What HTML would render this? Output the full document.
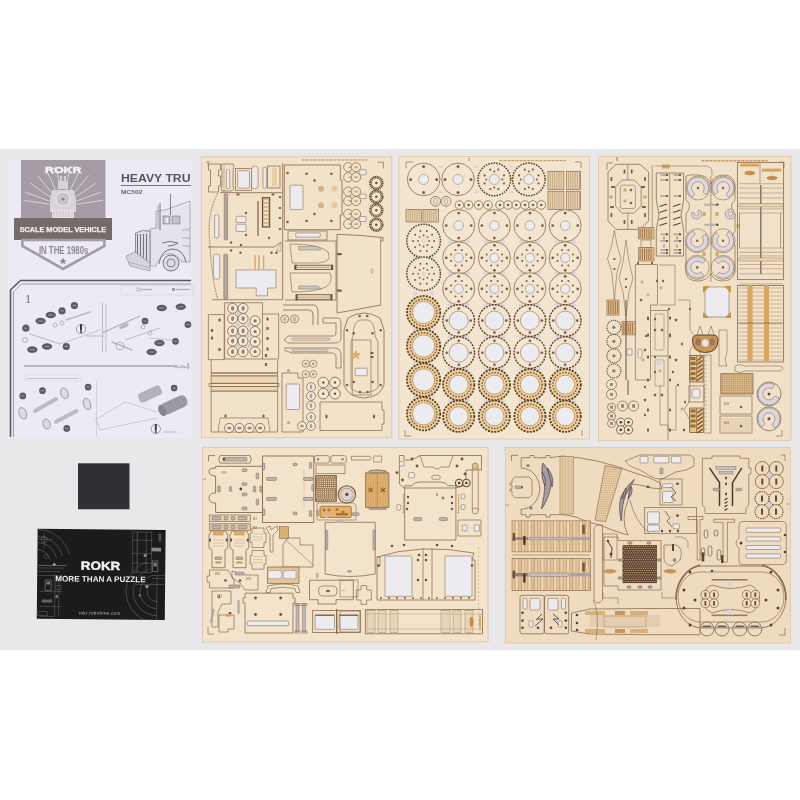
<!DOCTYPE html>
<html><head><meta charset="utf-8">
<style>
html,body{margin:0;padding:0;background:#fff;}
body{width:800px;height:800px;overflow:hidden;font-family:"Liberation Sans",sans-serif;}
svg{display:block;will-change:transform;}
</style></head><body>
<svg width="800" height="800" viewBox="0 0 800 800">
<rect x="0.0" y="149.0" width="800.0" height="501.0" fill="#e8e8eb"/>
<rect x="7.0" y="159.0" width="184.0" height="279.0" fill="#eceaf4"/>
<rect x="21.0" y="160.0" width="84.5" height="58.0" fill="#a69ca5"/>
<line x1="49.8" y1="201.2" x2="25.4" y2="192.3" stroke="#dcd8dc" stroke-width="0.9"/>
<line x1="51.5" y1="198.0" x2="30.2" y2="183.1" stroke="#dcd8dc" stroke-width="0.9"/>
<line x1="54.0" y1="195.3" x2="37.3" y2="175.4" stroke="#dcd8dc" stroke-width="0.9"/>
<line x1="57.1" y1="193.3" x2="46.1" y2="169.7" stroke="#dcd8dc" stroke-width="0.9"/>
<line x1="60.6" y1="192.2" x2="56.1" y2="166.6" stroke="#dcd8dc" stroke-width="0.9"/>
<line x1="65.4" y1="192.2" x2="69.9" y2="166.6" stroke="#dcd8dc" stroke-width="0.9"/>
<line x1="68.9" y1="193.3" x2="79.9" y2="169.7" stroke="#dcd8dc" stroke-width="0.9"/>
<line x1="72.0" y1="195.3" x2="88.7" y2="175.4" stroke="#dcd8dc" stroke-width="0.9"/>
<line x1="74.5" y1="198.0" x2="95.8" y2="183.1" stroke="#dcd8dc" stroke-width="0.9"/>
<line x1="76.2" y1="201.2" x2="100.6" y2="192.3" stroke="#dcd8dc" stroke-width="0.9"/>
<line x1="49.1" y1="204.1" x2="23.4" y2="200.4" stroke="#dcd8dc" stroke-width="0.9"/>
<line x1="76.9" y1="204.1" x2="102.6" y2="200.4" stroke="#dcd8dc" stroke-width="0.9"/>
<rect x="58.0" y="181.0" width="10.0" height="8.0" fill="#d6d2d6"/>
<rect x="60.0" y="176.0" width="2.0" height="6.0" fill="#d6d2d6"/>
<rect x="64.0" y="176.0" width="2.0" height="6.0" fill="#d6d2d6"/>
<path d="M52 190 L74 190 L76 200 L76 212 L50 212 L50 200 Z" fill="#d8d4d8"/>
<circle cx="63.0" cy="199.0" r="7.0" fill="#c8c4c8" stroke="#ecebee" stroke-width="1"/>
<circle cx="63.0" cy="199.0" r="1.5" fill="#8a868a"/>
<rect x="52.0" y="210.0" width="22.0" height="8.0" fill="#e4e0e4"/>
<line x1="54.0" y1="211.0" x2="54.0" y2="217.0" stroke="#b0acb0" stroke-width="0.6"/>
<line x1="57.0" y1="211.0" x2="57.0" y2="217.0" stroke="#b0acb0" stroke-width="0.6"/>
<line x1="60.0" y1="211.0" x2="60.0" y2="217.0" stroke="#b0acb0" stroke-width="0.6"/>
<line x1="63.0" y1="211.0" x2="63.0" y2="217.0" stroke="#b0acb0" stroke-width="0.6"/>
<line x1="66.0" y1="211.0" x2="66.0" y2="217.0" stroke="#b0acb0" stroke-width="0.6"/>
<line x1="69.0" y1="211.0" x2="69.0" y2="217.0" stroke="#b0acb0" stroke-width="0.6"/>
<line x1="72.0" y1="211.0" x2="72.0" y2="217.0" stroke="#b0acb0" stroke-width="0.6"/>
<text x="45" y="172.7" font-family="Liberation Sans" font-size="9.9" font-weight="bold" fill="#f4f2f4" stroke="#f4f2f4" stroke-width="0.5" textLength="36.5" lengthAdjust="spacingAndGlyphs">ROKR</text>
<rect x="14.0" y="218.0" width="98.0" height="22.0" fill="#766b6b"/>
<text x="19.7" y="232.3" font-family="Liberation Sans" font-size="7.6" font-weight="bold" fill="#f2eff0" stroke="#f2eff0" stroke-width="0.25" textLength="86.3" lengthAdjust="spacingAndGlyphs">SCALE MODEL VEHICLE</text>
<path d="M22.4 240 L104.4 240 L104.4 246 L63 269 L22.4 246 Z" fill="#eceaf4" stroke="#a69ca5" stroke-width="2.6"/>
<text x="38.9" y="254.2" font-family="Liberation Sans" font-size="10.8" font-weight="bold" fill="#8e898c" textLength="49.5" lengthAdjust="spacingAndGlyphs">IN THE 1980s</text>
<path d="M63 257.5 L64.1 260 L66.6 260.2 L64.7 261.8 L65.3 264.3 L63 263 L60.7 264.3 L61.3 261.8 L59.4 260.2 L61.9 260 Z" fill="#8e898c"/>
<svg x="7" y="159" width="184" height="279" overflow="hidden"><g transform="translate(-7 -159)">
<text x="121" y="181.8" font-family="Liberation Sans" font-size="11" font-weight="bold" fill="#58565a" textLength="69.5" lengthAdjust="spacingAndGlyphs">HEAVY TRU</text>
<line x1="121.0" y1="185.5" x2="191.0" y2="185.5" stroke="#6a686c" stroke-width="0.9"/>
<text x="121" y="194" font-family="Liberation Sans" font-size="5.6" font-weight="bold" fill="#6a686c" textLength="21.5" lengthAdjust="spacingAndGlyphs">MC502</text>
<path d="M150 229 Q165 225 182 227 L190 228 L190 262 L182 262 Q176 252 166 254 Q158 258 156 266 L150 266 Z" fill="#e4e2ea" stroke="#8a868c" stroke-width="0.6"/>
<path d="M135.5 233 Q142 229 150 231 L150 266 L135.5 262 Z" fill="#dddbe3" stroke="#6a666c" stroke-width="0.7"/>
<line x1="137.5" y1="234.0" x2="137.5" y2="262.0" stroke="#76727a" stroke-width="1.0"/>
<line x1="140.5" y1="234.0" x2="140.5" y2="262.0" stroke="#76727a" stroke-width="1.0"/>
<line x1="143.5" y1="234.0" x2="143.5" y2="262.0" stroke="#76727a" stroke-width="1.0"/>
<line x1="146.5" y1="234.0" x2="146.5" y2="262.0" stroke="#76727a" stroke-width="1.0"/>
<path d="M126 256 L135 252 L150 263 L150 271 L130 266 Z" fill="#d6d4dc" stroke="#8a868c" stroke-width="0.6"/>
<path d="M128 262 L150 268" fill="none" stroke="#9a96a0" stroke-width="0.6"/>
<circle cx="171.0" cy="263.0" r="8.0" fill="#dcdae2" stroke="#77737b" stroke-width="1.0"/>
<circle cx="171.0" cy="263.0" r="4.0" fill="none" stroke="#77737b" stroke-width="0.8"/>
<path d="M159 264 Q161 250 172 249 Q183 249 186 262" fill="none" stroke="#6a666c" stroke-width="0.9"/>
<path d="M156 228 L156 211 L165 210 L190 201 L190 228" fill="#e6e4ec" stroke="#8a868c" stroke-width="0.6"/>
<rect x="163.0" y="216.0" width="7.0" height="8.0" fill="#c4c2ca" stroke="#6a666c" stroke-width="0.5"/>
<rect x="172.0" y="216.0" width="8.0" height="8.0" fill="#c4c2ca" stroke="#6a666c" stroke-width="0.5"/>
<rect x="166.0" y="218.0" width="2.0" height="5.0" fill="#f0eef4"/>
<line x1="160.0" y1="203.0" x2="160.0" y2="230.0" stroke="#6a666c" stroke-width="0.9"/>
<line x1="170.5" y1="194.0" x2="170.5" y2="215.0" stroke="#6a666c" stroke-width="0.8"/>
<line x1="158.0" y1="205.0" x2="158.0" y2="228.0" stroke="#8a868c" stroke-width="0.6"/>
<path d="M162 243 Q170 240 178 243 Q174 246 168 246" fill="none" stroke="#76727a" stroke-width="1.0"/>
<path d="M182 230 L190 230 M182 238 L190 238 M182 246 L190 246" fill="none" stroke="#9a96a0" stroke-width="0.6"/>
</g></svg>
<path d="M10.5 437 L10.5 290 L20.5 280.5 L191 280.5" fill="none" stroke="#5e585c" stroke-width="1.6"/>
<path d="M13.5 437 L13.5 292 L21.5 284 L191 284" fill="none" stroke="#8f898d" stroke-width="0.8"/>
<text x="25" y="302.5" font-family="Liberation Serif" font-size="12.5" fill="#6e6a6e">1</text>
<rect x="121.5" y="285.5" width="72.0" height="9.5" fill="none" stroke="#c6c4ca" stroke-width="0.6" stroke-dasharray="2 1"/>
<rect x="137.0" y="288.0" width="3.0" height="3.0" fill="none" stroke="#8a878c" stroke-width="0.5"/>
<line x1="141.0" y1="289.5" x2="152.0" y2="289.5" stroke="#b0adb2" stroke-width="1.2"/>
<rect x="172.0" y="288.0" width="3.0" height="3.0" fill="#a09da2"/>
<line x1="176.0" y1="289.5" x2="190.0" y2="289.5" stroke="#b0adb2" stroke-width="1.2"/>
<line x1="24.0" y1="366.0" x2="178.0" y2="366.0" stroke="#6e6a6e" stroke-width="0.8"/>
<text x="179" y="367.8" font-family="Liberation Sans" font-size="4" fill="#6e6a6e">&lt;3x</text>
<line x1="188.0" y1="363.0" x2="188.0" y2="369.0" stroke="#6e6a6e" stroke-width="0.8"/>
<line x1="102.5" y1="303.0" x2="102.5" y2="352.0" stroke="#a09ca0" stroke-width="0.6"/>
<line x1="96.5" y1="380.0" x2="96.5" y2="437.0" stroke="#c4c2c6" stroke-width="0.6"/>
<line x1="66.0" y1="320.0" x2="90.0" y2="312.0" stroke="#bdbbc0" stroke-width="1.6" stroke-linecap="round"/>
<line x1="30.0" y1="334.0" x2="60.0" y2="344.0" stroke="#bdbbc0" stroke-width="1.2" stroke-linecap="round"/>
<line x1="60.0" y1="344.0" x2="100.0" y2="330.0" stroke="#bdbbc0" stroke-width="0.8" stroke-linecap="round"/>
<line x1="112.0" y1="342.0" x2="132.0" y2="350.0" stroke="#bdbbc0" stroke-width="1.5" stroke-linecap="round"/>
<line x1="125.0" y1="340.0" x2="160.0" y2="328.0" stroke="#bdbbc0" stroke-width="1.0" stroke-linecap="round"/>
<line x1="150.0" y1="338.0" x2="172.0" y2="340.0" stroke="#bdbbc0" stroke-width="0.8" stroke-linecap="round"/>
<line x1="35.0" y1="411.0" x2="56.0" y2="399.0" stroke="#bdbbc0" stroke-width="4" stroke-linecap="round"/>
<line x1="56.0" y1="421.8" x2="76.3" y2="411.0" stroke="#bdbbc0" stroke-width="4" stroke-linecap="round"/>
<line x1="95.0" y1="420.0" x2="125.0" y2="402.0" stroke="#bdbbc0" stroke-width="0.7" stroke-linecap="round"/>
<line x1="100.0" y1="430.0" x2="157.0" y2="418.0" stroke="#bdbbc0" stroke-width="0.7" stroke-linecap="round"/>
<line x1="125.0" y1="402.0" x2="157.0" y2="412.0" stroke="#bdbbc0" stroke-width="0.7" stroke-linecap="round"/>
<line x1="96.0" y1="418.0" x2="100.0" y2="430.0" stroke="#bdbbc0" stroke-width="0.7" stroke-linecap="round"/>
<ellipse cx="22.8" cy="413.4" rx="3.6" ry="6" fill="#dcdae2" stroke="#9a98a0" stroke-width="0.9" transform="rotate(-20 22.8 413.4)"/>
<ellipse cx="64.4" cy="393.3" rx="3.6" ry="5.5" fill="#dcdae2" stroke="#9a98a0" stroke-width="0.9" transform="rotate(-20 64.4 393.3)"/>
<ellipse cx="87" cy="404" rx="3.6" ry="6" fill="#dcdae2" stroke="#9a98a0" stroke-width="0.9" transform="rotate(-20 87 404)"/>
<ellipse cx="46.6" cy="424" rx="3.6" ry="5" fill="#dcdae2" stroke="#9a98a0" stroke-width="0.9" transform="rotate(-20 46.6 424)"/>
<circle cx="62.0" cy="323.0" r="2.0" fill="none" stroke="#a8a6ab" stroke-width="0.8"/>
<circle cx="55.0" cy="325.0" r="2.0" fill="none" stroke="#a8a6ab" stroke-width="0.8"/>
<circle cx="143.0" cy="327.0" r="2.0" fill="none" stroke="#a8a6ab" stroke-width="0.8"/>
<circle cx="150.0" cy="333.0" r="2.0" fill="none" stroke="#a8a6ab" stroke-width="0.8"/>
<circle cx="120.0" cy="346.0" r="4.0" fill="none" stroke="#a8a6ab" stroke-width="0.8"/>
<circle cx="25.0" cy="340.0" r="2.5" fill="none" stroke="#a8a6ab" stroke-width="0.8"/>
<line x1="102.0" y1="333.0" x2="140.0" y2="316.0" stroke="#b0aeb4" stroke-width="1.2"/>
<line x1="106.0" y1="304.0" x2="106.0" y2="352.0" stroke="#a8a6ab" stroke-width="0.6"/>
<ellipse cx="124" cy="326" rx="5" ry="2" fill="#b8b6bc" transform="rotate(-25 124 326)"/>
<g transform="rotate(-25 150 394)"><rect x="138" y="389" width="24" height="10" rx="3" fill="#b4b2b8"/></g>
<g transform="rotate(-25 174 405)"><rect x="160" y="399" width="28" height="12" rx="5" fill="#9c9aa0"/><ellipse cx="161" cy="405" rx="3.5" ry="6" fill="#88868c"/></g>
<ellipse cx="25.9" cy="328.2" rx="3.5840000000000005" ry="3.5840000000000005" fill="#5e5a5d"/>
<line x1="24.1" y1="328.2" x2="27.7" y2="328.2" stroke="#bdb9bc" stroke-width="0.7"/>
<ellipse cx="40.6" cy="321" rx="5.152" ry="3.248" fill="#5e5a5d"/>
<line x1="38.0" y1="321.0" x2="43.2" y2="321.0" stroke="#bdb9bc" stroke-width="0.7"/>
<ellipse cx="50.8" cy="315" rx="5.152" ry="3.248" fill="#5e5a5d"/>
<line x1="48.2" y1="315.0" x2="53.4" y2="315.0" stroke="#bdb9bc" stroke-width="0.7"/>
<ellipse cx="62" cy="310.9" rx="3.5840000000000005" ry="3.5840000000000005" fill="#5e5a5d"/>
<line x1="60.2" y1="310.9" x2="63.8" y2="310.9" stroke="#bdb9bc" stroke-width="0.7"/>
<ellipse cx="74.4" cy="305.6" rx="3.5840000000000005" ry="3.5840000000000005" fill="#5e5a5d"/>
<line x1="72.6" y1="305.6" x2="76.2" y2="305.6" stroke="#bdb9bc" stroke-width="0.7"/>
<ellipse cx="32.3" cy="349.6" rx="5.152" ry="3.248" fill="#5e5a5d"/>
<line x1="29.7" y1="349.6" x2="34.9" y2="349.6" stroke="#bdb9bc" stroke-width="0.7"/>
<ellipse cx="47" cy="346.5" rx="5.152" ry="3.248" fill="#5e5a5d"/>
<line x1="44.4" y1="346.5" x2="49.6" y2="346.5" stroke="#bdb9bc" stroke-width="0.7"/>
<ellipse cx="66.3" cy="346.5" rx="3.5840000000000005" ry="3.5840000000000005" fill="#5e5a5d"/>
<line x1="64.5" y1="346.5" x2="68.1" y2="346.5" stroke="#bdb9bc" stroke-width="0.7"/>
<ellipse cx="161.8" cy="308" rx="5.152" ry="3.248" fill="#5e5a5d"/>
<line x1="159.2" y1="308.0" x2="164.4" y2="308.0" stroke="#bdb9bc" stroke-width="0.7"/>
<ellipse cx="180.8" cy="306.8" rx="5.152" ry="3.248" fill="#5e5a5d"/>
<line x1="178.2" y1="306.8" x2="183.4" y2="306.8" stroke="#bdb9bc" stroke-width="0.7"/>
<ellipse cx="145" cy="321" rx="3.3600000000000003" ry="3.3600000000000003" fill="#5e5a5d"/>
<line x1="143.3" y1="321.0" x2="146.7" y2="321.0" stroke="#bdb9bc" stroke-width="0.7"/>
<ellipse cx="187.9" cy="324.6" rx="3.3600000000000003" ry="3.3600000000000003" fill="#5e5a5d"/>
<line x1="186.2" y1="324.6" x2="189.6" y2="324.6" stroke="#bdb9bc" stroke-width="0.7"/>
<ellipse cx="159.4" cy="343" rx="5.152" ry="3.248" fill="#5e5a5d"/>
<line x1="156.8" y1="343.0" x2="162.0" y2="343.0" stroke="#bdb9bc" stroke-width="0.7"/>
<ellipse cx="175.5" cy="341.3" rx="3.3600000000000003" ry="3.3600000000000003" fill="#5e5a5d"/>
<line x1="173.8" y1="341.3" x2="177.2" y2="341.3" stroke="#bdb9bc" stroke-width="0.7"/>
<ellipse cx="151.6" cy="352" rx="5.152" ry="3.248" fill="#5e5a5d"/>
<line x1="149.0" y1="352.0" x2="154.2" y2="352.0" stroke="#bdb9bc" stroke-width="0.7"/>
<ellipse cx="22.8" cy="395.9" rx="3.3600000000000003" ry="3.3600000000000003" fill="#5e5a5d"/>
<line x1="21.1" y1="395.9" x2="24.5" y2="395.9" stroke="#bdb9bc" stroke-width="0.7"/>
<ellipse cx="42.5" cy="390.7" rx="3.3600000000000003" ry="3.3600000000000003" fill="#5e5a5d"/>
<line x1="40.8" y1="390.7" x2="44.2" y2="390.7" stroke="#bdb9bc" stroke-width="0.7"/>
<ellipse cx="88.1" cy="387.1" rx="3.3600000000000003" ry="3.3600000000000003" fill="#5e5a5d"/>
<line x1="86.4" y1="387.1" x2="89.8" y2="387.1" stroke="#bdb9bc" stroke-width="0.7"/>
<ellipse cx="174.1" cy="388" rx="3.3600000000000003" ry="3.3600000000000003" fill="#5e5a5d"/>
<line x1="172.4" y1="388.0" x2="175.8" y2="388.0" stroke="#bdb9bc" stroke-width="0.7"/>
<ellipse cx="66.8" cy="428.4" rx="3.3600000000000003" ry="3.3600000000000003" fill="#5e5a5d"/>
<line x1="65.1" y1="428.4" x2="68.5" y2="428.4" stroke="#bdb9bc" stroke-width="0.7"/>
<circle cx="81.0" cy="329.0" r="4.6" fill="#f0eff4" stroke="#6a666a" stroke-width="0.6"/>
<rect x="80.0" y="324.2" width="2.0" height="6.5" fill="#3e3a3e"/>
<circle cx="81.0" cy="332.0" r="1.0" fill="#3e3a3e"/>
<circle cx="155.8" cy="429.0" r="4.6" fill="#f0eff4" stroke="#6a666a" stroke-width="0.6"/>
<rect x="154.8" y="424.2" width="2.0" height="6.5" fill="#3e3a3e"/>
<circle cx="155.8" cy="432.0" r="1.0" fill="#3e3a3e"/>
<line x1="86.0" y1="336.0" x2="104.0" y2="336.0" stroke="#c4c2c6" stroke-width="1.2"/>
<line x1="163.0" y1="432.0" x2="177.0" y2="432.0" stroke="#c4c2c6" stroke-width="1.2"/>
<line x1="27.0" y1="378.5" x2="79.0" y2="378.5" stroke="#c4c2c6" stroke-width="1.2"/>
<line x1="174.0" y1="367.5" x2="190.0" y2="367.5" stroke="#c4c2c6" stroke-width="1.2"/>
<rect x="25.0" y="375.0" width="56.0" height="6.0" fill="none" stroke="#d2d0d4" stroke-width="0.5" rx="2"/>
<rect x="78.0" y="463.3" width="51.5" height="46.0" fill="#322f34"/>
<defs><clipPath id="cc"><rect x="37.2" y="529.3" width="128" height="90"/></clipPath></defs>
<g transform="rotate(0.55 101 575)">
<rect x="37.2" y="529.3" width="128.0" height="90.0" fill="#1c1b1c"/>
<g clip-path="url(#cc)">
<path d="M37 550 A13 13 0 0 1 49.6 559.8" fill="none" stroke="#6a6a6c" stroke-width="0.6"/>
<path d="M37 543 A20 20 0 0 1 56.4 558.0" fill="none" stroke="#6a6a6c" stroke-width="0.6"/>
<path d="M37 537 A26 26 0 0 1 62.2 556.5" fill="none" stroke="#6a6a6c" stroke-width="0.6"/>
<path d="M37 530 A33 33 0 0 1 69.0 554.8" fill="none" stroke="#6a6a6c" stroke-width="0.6"/>
<line x1="37.0" y1="566.0" x2="67.0" y2="566.0" stroke="#8a8a8c" stroke-width="0.6"/>
<line x1="37.0" y1="568.5" x2="64.0" y2="568.5" stroke="#6a6a6c" stroke-width="0.5"/>
<line x1="37.0" y1="572.0" x2="60.0" y2="572.0" stroke="#6a6a6c" stroke-width="0.5"/>
<line x1="37.0" y1="576.0" x2="58.0" y2="576.0" stroke="#6a6a6c" stroke-width="0.5"/>
<rect x="45.3" y="580.4" width="6.0" height="10.6" fill="none" stroke="#8a8a8c" stroke-width="0.6"/>
<rect x="46.5" y="582.0" width="3.6" height="3.0" fill="#7a7a7c"/>
<circle cx="54.2" cy="565.0" r="1.5" fill="#9a9a9c"/>
<circle cx="46.0" cy="557.0" r="2.0" fill="none" stroke="#6a6a6c" stroke-width="0.5"/>
<rect x="41.8" y="600.0" width="10.6" height="3.0" fill="#5e5e60"/>
<line x1="55.0" y1="575.0" x2="55.0" y2="617.0" stroke="#6a6a6c" stroke-width="0.5"/>
<line x1="59.0" y1="578.0" x2="59.0" y2="617.0" stroke="#6a6a6c" stroke-width="0.5"/>
<line x1="40.0" y1="592.0" x2="62.0" y2="592.0" stroke="#6a6a6c" stroke-width="0.5"/>
<line x1="40.0" y1="607.0" x2="62.0" y2="607.0" stroke="#6a6a6c" stroke-width="0.5"/>
<rect x="56.0" y="586.0" width="5.0" height="4.0" fill="none" stroke="#6a6a6c" stroke-width="0.5"/>
<circle cx="57.0" cy="597.0" r="1.5" fill="#7a7a7c"/>
<line x1="38.0" y1="540.0" x2="52.0" y2="540.0" stroke="#6a6a6c" stroke-width="0.5"/>
<line x1="44.0" y1="534.0" x2="44.0" y2="548.0" stroke="#6a6a6c" stroke-width="0.5"/>
<circle cx="44.0" cy="540.0" r="3.0" fill="none" stroke="#6a6a6c" stroke-width="0.5"/>
<rect x="38.0" y="612.0" width="10.0" height="4.0" fill="none" stroke="#6a6a6c" stroke-width="0.5"/>
<line x1="40.0" y1="617.0" x2="54.0" y2="617.0" stroke="#6a6a6c" stroke-width="0.5"/>
<rect x="132.3" y="531.7" width="19.0" height="40.3" fill="none" stroke="#6a6a6c" stroke-width="0.5"/>
<line x1="137.0" y1="532.0" x2="137.0" y2="572.0" stroke="#8a8a8c" stroke-width="0.5"/>
<line x1="146.0" y1="532.0" x2="146.0" y2="572.0" stroke="#6a6a6c" stroke-width="0.5"/>
<line x1="132.0" y1="540.0" x2="152.0" y2="540.0" stroke="#6a6a6c" stroke-width="0.5"/>
<line x1="132.0" y1="553.0" x2="152.0" y2="553.0" stroke="#6a6a6c" stroke-width="0.5"/>
<line x1="132.0" y1="563.0" x2="152.0" y2="563.0" stroke="#6a6a6c" stroke-width="0.5"/>
<rect x="151.3" y="547.2" width="9.5" height="3.6" fill="#8a8a8c"/>
<rect x="152.4" y="560.3" width="5.4" height="10.7" fill="none" stroke="#8a8a8c" stroke-width="0.6"/>
<rect x="153.5" y="562.0" width="3.2" height="4.0" fill="#7a7a7c"/>
<circle cx="145.0" cy="555.0" r="1.6" fill="#8a8a8c"/>
<rect x="158.0" y="533.0" width="3.0" height="8.0" fill="#4a4a4c"/>
<line x1="152.0" y1="575.0" x2="165.0" y2="575.0" stroke="#6a6a6c" stroke-width="0.5"/>
<line x1="152.0" y1="578.0" x2="165.0" y2="578.0" stroke="#6a6a6c" stroke-width="0.5"/>
<line x1="135.0" y1="584.0" x2="165.0" y2="584.0" stroke="#6a6a6c" stroke-width="0.5"/>
<path d="M147.2 591 A10 10 0 0 0 157.2 601" fill="none" stroke="#6a6a6c" stroke-width="0.6"/>
<path d="M147.2 591 A10 10 0 0 1 154.2 581.5" fill="none" stroke="#6a6a6c" stroke-width="0.5"/>
<path d="M140.2 591 A17 17 0 0 0 157.2 608" fill="none" stroke="#6a6a6c" stroke-width="0.6"/>
<path d="M140.2 591 A17 17 0 0 1 152.1 574.9" fill="none" stroke="#6a6a6c" stroke-width="0.5"/>
<path d="M133.2 591 A24 24 0 0 0 157.2 615" fill="none" stroke="#6a6a6c" stroke-width="0.6"/>
<path d="M133.2 591 A24 24 0 0 1 150.0 568.2" fill="none" stroke="#6a6a6c" stroke-width="0.5"/>
<path d="M126.2 591 A31 31 0 0 0 157.2 622" fill="none" stroke="#6a6a6c" stroke-width="0.6"/>
<path d="M126.2 591 A31 31 0 0 1 147.9 561.5" fill="none" stroke="#6a6a6c" stroke-width="0.5"/>
<circle cx="147.0" cy="586.0" r="1.8" fill="#8a8a8c"/>
<circle cx="140.0" cy="595.0" r="1.3" fill="#6a6a6c"/>
<line x1="157.0" y1="575.0" x2="157.0" y2="620.0" stroke="#6a6a6c" stroke-width="0.5"/>
<text x="80.8" y="569.9" font-family="Liberation Sans" font-size="11.9" font-weight="bold" fill="#f2f2f2" stroke="#f2f2f2" stroke-width="0.4" textLength="39.4" lengthAdjust="spacingAndGlyphs">ROKR</text>
<text x="100.5" y="581.8" font-family="Liberation Sans" font-size="8.1" font-weight="bold" fill="#f0f0f0" text-anchor="middle">MORE THAN A PUZZLE</text>
<text x="100" y="614.6" font-family="Liberation Sans" font-size="4.6" font-weight="normal" fill="#bdbdbd" text-anchor="middle" letter-spacing="0.3">rokr.robotime.com</text>
</g></g>
<rect x="201.3" y="156.8" width="190.5" height="281.0" fill="#f2e2c9" stroke="#dcc4a2" stroke-width="0.8"/>
<rect x="398.8" y="156.5" width="190.7" height="282.5" fill="#f3e5cf" stroke="#dcc4a2" stroke-width="0.8"/>
<rect x="598.5" y="156.3" width="192.5" height="284.0" fill="#f1e1c8" stroke="#dcc4a2" stroke-width="0.8"/>
<rect x="202.5" y="447.3" width="285.5" height="194.7" fill="#f2e3ca" stroke="#dcc4a2" stroke-width="0.8"/>
<rect x="505.3" y="447.3" width="285.0" height="195.7" fill="#efdcc0" stroke="#dcc4a2" stroke-width="0.8"/>
<path d="M208.5 164 L220.5 164 L220.5 170 L218.5 170 L218.5 176 L220.5 176 L220.5 186 L218.5 186 L218.5 192 L208.5 192 L208.5 186 L210.5 186 L210.5 170 L208.5 170 Z" fill="none" stroke="#927456" stroke-width="0.8"/>
<path d="M222 164 L233 164 Q235 166 233 170 L233 186 Q235 190 231 191 L222 191 Q220 188 222 186 L222 170 Q220 166 222 164 Z" fill="none" stroke="#927456" stroke-width="0.8"/>
<rect x="226.4" y="169.6" width="3.4" height="19.1" fill="#ecebf0" stroke="#9c8466" stroke-width="0.7" rx="1"/>
<rect x="235.5" y="168.5" width="16.0" height="22.0" fill="none" stroke="#927456" stroke-width="0.8"/>
<rect x="237.7" y="170.7" width="11.8" height="17.5" fill="#ecebf0" stroke="#9c8466" stroke-width="0.7" rx="0.8"/>
<rect x="251.7" y="166.2" width="6.3" height="22.5" fill="#ecebf0" stroke="#9c8466" stroke-width="0.7" rx="2.5"/>
<rect x="263.0" y="167.4" width="3.4" height="20.8" fill="#ecebf0" stroke="#9c8466" stroke-width="0.7" rx="1"/>
<rect x="267.5" y="166.0" width="12.5" height="22.0" fill="none" stroke="#927456" stroke-width="0.8"/>
<rect x="272.0" y="168.0" width="5.0" height="18.0" fill="#e8cda6"/>
<line x1="282.7" y1="163.0" x2="282.7" y2="300.0" stroke="#927456" stroke-width="0.9"/>
<line x1="220.0" y1="192.7" x2="282.7" y2="192.7" stroke="#927456" stroke-width="0.9"/>
<line x1="224.0" y1="165.0" x2="224.0" y2="192.0" stroke="#927456" stroke-width="0.5"/>
<path d="M218 193 Q206 215 210 245 Q212 280 218 300" fill="none" stroke="#927456" stroke-width="0.9" stroke-dasharray="2 1"/>
<rect x="214.6" y="214.6" width="4.4" height="23.4" fill="#ecebf0" stroke="#9c8466" stroke-width="0.7" rx="2"/>
<rect x="224.2" y="193.8" width="3.4" height="46.2" fill="#b4a69a" stroke="#7a6654" stroke-width="0.5" rx="0.8"/>
<rect x="236.0" y="216.3" width="10.0" height="6.2" fill="#ecebf0" stroke="#9c8466" stroke-width="0.7" rx="0.8"/>
<rect x="236.0" y="224.2" width="10.0" height="7.3" fill="#ecebf0" stroke="#9c8466" stroke-width="0.7" rx="0.8"/>
<line x1="258.0" y1="201.0" x2="258.0" y2="236.0" stroke="#7a5e42" stroke-width="1.2"/>
<rect x="262.4" y="197.7" width="7.3" height="29.3" fill="#d4b896" stroke="#5e4228" stroke-width="1.0"/>
<rect x="264.0" y="200.0" width="4.0" height="2.0" fill="#efe0c8"/>
<rect x="264.0" y="204.0" width="4.0" height="2.0" fill="#efe0c8"/>
<rect x="264.0" y="208.0" width="4.0" height="2.0" fill="#efe0c8"/>
<rect x="264.0" y="212.0" width="4.0" height="2.0" fill="#efe0c8"/>
<rect x="264.0" y="216.0" width="4.0" height="2.0" fill="#efe0c8"/>
<rect x="264.0" y="220.0" width="4.0" height="2.0" fill="#efe0c8"/>
<rect x="264.0" y="224.0" width="4.0" height="2.0" fill="#efe0c8"/>
<rect x="278.9" y="196.0" width="2.2" height="2.0" fill="#7d6044" rx="0.6"/>
<rect x="278.9" y="207.0" width="2.2" height="2.0" fill="#7d6044" rx="0.6"/>
<rect x="278.9" y="217.0" width="2.2" height="2.0" fill="#7d6044" rx="0.6"/>
<rect x="278.9" y="228.0" width="2.2" height="2.0" fill="#7d6044" rx="0.6"/>
<rect x="236.5" y="193.6" width="3.0" height="1.8" fill="#7d6044" rx="0.6"/>
<rect x="271.5" y="193.6" width="3.0" height="1.8" fill="#7d6044" rx="0.6"/>
<circle cx="246.0" cy="213.0" r="1.2" fill="#7d6044"/>
<circle cx="246.0" cy="235.0" r="1.2" fill="#7d6044"/>
<circle cx="241.0" cy="245.0" r="1.2" fill="#7d6044"/>
<circle cx="231.0" cy="242.5" r="1.2" fill="#7d6044"/>
<circle cx="231.0" cy="250.4" r="1.2" fill="#7d6044"/>
<circle cx="240.5" cy="252.8" r="1.2" fill="#7d6044"/>
<circle cx="271.5" cy="252.8" r="1.2" fill="#7d6044"/>
<circle cx="276.5" cy="252.8" r="1.2" fill="#7d6044"/>
<circle cx="269.0" cy="238.0" r="1.2" fill="#7d6044"/>
<path d="M208 247 L274 247 L281 242" fill="none" stroke="#927456" stroke-width="0.9"/>
<path d="M276.5 250.8 L281 242.4 L281 250.8 Z" fill="#ecebf0" stroke="#9c8466" stroke-width="0.6"/>
<rect x="213.5" y="254.2" width="6.2" height="24.8" fill="#ecebf0" stroke="#9c8466" stroke-width="0.7" rx="2"/>
<rect x="223.8" y="254.2" width="3.8" height="45.0" fill="#b4a69a" stroke="#7a6654" stroke-width="0.5" rx="0.8"/>
<path d="M236 270 L276 270 L276 288 L267.5 288 L267.5 295.8 L256.2 295.8 L256.2 288 L236 288 Z" fill="#ecebf0" stroke="#9c8466" stroke-width="0.7"/>
<line x1="255.1" y1="255.3" x2="255.1" y2="270.0" stroke="#d6a868" stroke-width="1.4"/>
<line x1="259.0" y1="255.3" x2="259.0" y2="270.0" stroke="#d6a868" stroke-width="1.4"/>
<line x1="263.6" y1="255.3" x2="263.6" y2="270.0" stroke="#d6a868" stroke-width="1.4"/>
<line x1="212.0" y1="299.7" x2="282.0" y2="299.7" stroke="#927456" stroke-width="0.8"/>
<path d="M284.3 165 L340.3 165 L340.3 180 L342 180 L342 215 L340.3 215 L340.3 229.7 L284.3 229.7 Z" fill="none" stroke="#927456" stroke-width="0.9"/>
<rect x="290.0" y="185.2" width="13.0" height="24.4" fill="#ecebf0" stroke="#9c8466" stroke-width="0.7" rx="0.8"/>
<circle cx="306.6" cy="173.7" r="1.3" fill="#7d6044"/>
<circle cx="331.4" cy="173.7" r="1.3" fill="#7d6044"/>
<circle cx="314.5" cy="180.6" r="1.3" fill="#7d6044"/>
<circle cx="306.6" cy="221.0" r="1.3" fill="#7d6044"/>
<circle cx="331.4" cy="221.0" r="1.3" fill="#7d6044"/>
<circle cx="314.5" cy="214.0" r="1.3" fill="#7d6044"/>
<circle cx="287.5" cy="173.0" r="1.3" fill="#7d6044"/>
<circle cx="287.5" cy="222.0" r="1.3" fill="#7d6044"/>
<circle cx="321.0" cy="188.8" r="3.0" fill="#d9b27c"/>
<circle cx="321.0" cy="205.3" r="3.0" fill="#d9b27c"/>
<circle cx="334.6" cy="188.8" r="3.0" fill="#e6caa0"/>
<circle cx="334.6" cy="205.3" r="3.0" fill="#e6caa0"/>
<line x1="301.5" y1="160.0" x2="367.6" y2="160.0" stroke="#c8aa84" stroke-width="1.3" stroke-dasharray="3 1"/>
<path d="M377.7 162.2 L383.4 162.2 L383.4 168.6" fill="none" stroke="#8a6e50" stroke-width="0.7"/>
<path d="M208 162 L208 166 M206 162 L210 162" fill="none" stroke="#8a6e50" stroke-width="0.6"/>
<circle cx="348.2" cy="167.2" r="4.6" fill="#f2e2c9" stroke="#927456" stroke-width="0.8"/>
<circle cx="356.0" cy="167.2" r="4.6" fill="#f2e2c9" stroke="#927456" stroke-width="0.8"/>
<ellipse cx="350" cy="167.2" rx="1.5" ry="1" fill="#b8a080"/>
<ellipse cx="356" cy="167.2" rx="2" ry="1.2" fill="#c8b090"/>
<circle cx="348.2" cy="177.3" r="4.6" fill="#f2e2c9" stroke="#927456" stroke-width="0.8"/>
<circle cx="356.0" cy="177.3" r="4.6" fill="#f2e2c9" stroke="#927456" stroke-width="0.8"/>
<ellipse cx="350" cy="177.3" rx="1.5" ry="1" fill="#b8a080"/>
<ellipse cx="356" cy="177.3" rx="2" ry="1.2" fill="#c8b090"/>
<rect x="359.7" y="169.7" width="6.5" height="5.1" fill="#ecebf0" stroke="#9c8466" stroke-width="0.7" rx="0.5"/>
<circle cx="348.2" cy="191.6" r="4.6" fill="#f2e2c9" stroke="#927456" stroke-width="0.8"/>
<circle cx="356.0" cy="191.6" r="4.6" fill="#f2e2c9" stroke="#927456" stroke-width="0.8"/>
<ellipse cx="350" cy="191.6" rx="1.5" ry="1" fill="#b8a080"/>
<ellipse cx="356" cy="191.6" rx="2" ry="1.2" fill="#c8b090"/>
<circle cx="348.2" cy="201.0" r="4.6" fill="#f2e2c9" stroke="#927456" stroke-width="0.8"/>
<circle cx="356.0" cy="201.0" r="4.6" fill="#f2e2c9" stroke="#927456" stroke-width="0.8"/>
<ellipse cx="350" cy="201" rx="1.5" ry="1" fill="#b8a080"/>
<ellipse cx="356" cy="201" rx="2" ry="1.2" fill="#c8b090"/>
<rect x="359.7" y="194.1" width="6.5" height="4.4" fill="#ecebf0" stroke="#9c8466" stroke-width="0.7" rx="0.5"/>
<circle cx="348.2" cy="214.0" r="4.6" fill="#f2e2c9" stroke="#927456" stroke-width="0.8"/>
<circle cx="356.0" cy="214.0" r="4.6" fill="#f2e2c9" stroke="#927456" stroke-width="0.8"/>
<ellipse cx="350" cy="214" rx="1.5" ry="1" fill="#b8a080"/>
<ellipse cx="356" cy="214" rx="2" ry="1.2" fill="#c8b090"/>
<circle cx="348.2" cy="224.0" r="4.6" fill="#f2e2c9" stroke="#927456" stroke-width="0.8"/>
<circle cx="356.0" cy="224.0" r="4.6" fill="#f2e2c9" stroke="#927456" stroke-width="0.8"/>
<ellipse cx="350" cy="224" rx="1.5" ry="1" fill="#b8a080"/>
<ellipse cx="356" cy="224" rx="2" ry="1.2" fill="#c8b090"/>
<rect x="359.7" y="216.5" width="6.5" height="5.0" fill="#ecebf0" stroke="#9c8466" stroke-width="0.7" rx="0.5"/>
<circle cx="376.3" cy="183.0" r="6.2" fill="#f4e6d0" stroke="#5a3e26" stroke-width="2.0" stroke-dasharray="1.1 0.6"/>
<circle cx="376.3" cy="183.0" r="4.8" fill="none" stroke="#7a5a3a" stroke-width="0.7"/>
<circle cx="376.3" cy="183.0" r="1.2" fill="#6a4c30"/>
<circle cx="376.3" cy="196.7" r="6.2" fill="#f4e6d0" stroke="#5a3e26" stroke-width="2.0" stroke-dasharray="1.1 0.6"/>
<circle cx="376.3" cy="196.7" r="4.8" fill="none" stroke="#7a5a3a" stroke-width="0.7"/>
<circle cx="376.3" cy="196.7" r="1.2" fill="#6a4c30"/>
<circle cx="376.3" cy="210.3" r="6.2" fill="#f4e6d0" stroke="#5a3e26" stroke-width="2.0" stroke-dasharray="1.1 0.6"/>
<circle cx="376.3" cy="210.3" r="4.8" fill="none" stroke="#7a5a3a" stroke-width="0.7"/>
<circle cx="376.3" cy="210.3" r="1.2" fill="#6a4c30"/>
<circle cx="376.3" cy="224.7" r="6.2" fill="#f4e6d0" stroke="#5a3e26" stroke-width="2.0" stroke-dasharray="1.1 0.6"/>
<circle cx="376.3" cy="224.7" r="4.8" fill="none" stroke="#7a5a3a" stroke-width="0.7"/>
<circle cx="376.3" cy="224.7" r="1.2" fill="#6a4c30"/>
<rect x="288.0" y="231.0" width="39.0" height="9.0" fill="none" stroke="#927456" stroke-width="0.8"/>
<rect x="295.8" y="232.9" width="24.4" height="4.3" fill="#ecebf0" stroke="#9c8466" stroke-width="0.7" rx="0.5"/>
<path d="M337 234.3 Q360 235 383 237.5 L383 241 L380.6 241 M380.6 305 Q360 309 337 313 L337 234.3" fill="none" stroke="#927456" stroke-width="0.9"/>
<line x1="380.6" y1="238.0" x2="380.6" y2="305.0" stroke="#927456" stroke-width="0.7"/>
<text x="372" y="270" font-family="Liberation Sans" font-size="3" font-weight="normal" fill="#000" text-anchor="start"></text>
<ellipse cx="372" cy="271" rx="1" ry="2.5" fill="none" stroke="#b09070" stroke-width="0.6"/>
<path d="M285 241 L336 241 L336 300 L285 300" fill="none" stroke="#927456" stroke-width="0.8"/>
<path d="M290 244 Q320 244 328 252 Q333 262 318 263 L292 263 Z" fill="none" stroke="#927456" stroke-width="0.7"/>
<path d="M298.7 246.5 L318 246.5 L321 250 L298.7 250 Z" fill="#c9c3cc" stroke="#8a7058" stroke-width="0.5"/>
<path d="M290 273 L330 273 Q334 280 326 287 Q315 292 292 292 Z" fill="none" stroke="#927456" stroke-width="0.7"/>
<path d="M298.7 286 L318 286 L321 289 L298.7 289 Z" fill="#c9c3cc" stroke="#8a7058" stroke-width="0.5"/>
<rect x="295.8" y="265.2" width="35.9" height="4.3" fill="#ead6b8" stroke="#6e5236" stroke-width="0.8"/>
<line x1="296.8" y1="267.4" x2="330.7" y2="267.4" stroke="#9a7a58" stroke-width="0.5"/>
<rect x="294.3" y="264.7" width="2.0" height="5.3" fill="#6e5236"/>
<rect x="331.2" y="264.7" width="2.0" height="5.3" fill="#6e5236"/>
<rect x="297.0" y="294.7" width="34.0" height="5.0" fill="#ead6b8" stroke="#6e5236" stroke-width="0.8"/>
<line x1="298.0" y1="297.2" x2="330.0" y2="297.2" stroke="#9a7a58" stroke-width="0.5"/>
<rect x="295.5" y="294.2" width="2.0" height="6.0" fill="#6e5236"/>
<rect x="330.5" y="294.2" width="2.0" height="6.0" fill="#6e5236"/>
<rect x="336.8" y="253.0" width="5.0" height="2.2" fill="#7d6044" rx="0.6"/>
<rect x="336.8" y="289.6" width="5.0" height="2.2" fill="#7d6044" rx="0.6"/>
<rect x="224.7" y="302.8" width="37.7" height="56.2" fill="none" stroke="#927456" stroke-width="0.8"/>
<path d="M208.4 314.6 L224.2 314.6 L224.2 359.6 L208.4 359.6 Z" fill="none" stroke="#927456" stroke-width="0.8"/>
<path d="M262.4 314 L278.7 314 L278.7 359 L262.4 359" fill="none" stroke="#927456" stroke-width="0.8"/>
<path d="M238 310.5 L240.5 313 L238 315.5 L235.5 313 Z" fill="#d0c8d0"/>
<path d="M238 322.5 L240.5 325 L238 327.5 L235.5 325 Z" fill="#d0c8d0"/>
<path d="M238 333.5 L240.5 336 L238 338.5 L235.5 336 Z" fill="#d0c8d0"/>
<path d="M238 343.5 L240.5 346 L238 348.5 L235.5 346 Z" fill="#d0c8d0"/>
<path d="M249 322.5 L251.5 325 L249 327.5 L246.5 325 Z" fill="#d0c8d0"/>
<path d="M249 333.5 L251.5 336 L249 338.5 L246.5 336 Z" fill="#d0c8d0"/>
<path d="M249 343.5 L251.5 346 L249 348.5 L246.5 346 Z" fill="#d0c8d0"/>
<circle cx="232.6" cy="308.4" r="5.0" fill="#f7ecdc" stroke="#8a6e50" stroke-width="0.9"/>
<ellipse cx="232.6" cy="308.4" rx="1.6" ry="2.4" fill="#9a8272"/>
<circle cx="232.6" cy="318.6" r="5.0" fill="#f7ecdc" stroke="#8a6e50" stroke-width="0.9"/>
<ellipse cx="232.6" cy="318.6" rx="1.6" ry="2.4" fill="#9a8272"/>
<circle cx="232.6" cy="331.0" r="5.0" fill="#f7ecdc" stroke="#8a6e50" stroke-width="0.9"/>
<ellipse cx="232.6" cy="331" rx="1.6" ry="2.4" fill="#9a8272"/>
<circle cx="232.6" cy="341.0" r="5.0" fill="#f7ecdc" stroke="#8a6e50" stroke-width="0.9"/>
<ellipse cx="232.6" cy="341" rx="1.6" ry="2.4" fill="#9a8272"/>
<circle cx="232.6" cy="351.7" r="5.0" fill="#f7ecdc" stroke="#8a6e50" stroke-width="0.9"/>
<ellipse cx="232.6" cy="351.7" rx="1.6" ry="2.4" fill="#9a8272"/>
<circle cx="243.1" cy="308.4" r="5.0" fill="#f7ecdc" stroke="#8a6e50" stroke-width="0.9"/>
<ellipse cx="243.1" cy="308.4" rx="1.6" ry="2.4" fill="#9a8272"/>
<circle cx="243.1" cy="318.6" r="5.0" fill="#f7ecdc" stroke="#8a6e50" stroke-width="0.9"/>
<ellipse cx="243.1" cy="318.6" rx="1.6" ry="2.4" fill="#9a8272"/>
<circle cx="243.1" cy="331.0" r="5.0" fill="#f7ecdc" stroke="#8a6e50" stroke-width="0.9"/>
<ellipse cx="243.1" cy="331" rx="1.6" ry="2.4" fill="#9a8272"/>
<circle cx="243.1" cy="341.0" r="5.0" fill="#f7ecdc" stroke="#8a6e50" stroke-width="0.9"/>
<ellipse cx="243.1" cy="341" rx="1.6" ry="2.4" fill="#9a8272"/>
<circle cx="243.1" cy="351.7" r="5.0" fill="#f7ecdc" stroke="#8a6e50" stroke-width="0.9"/>
<ellipse cx="243.1" cy="351.7" rx="1.6" ry="2.4" fill="#9a8272"/>
<circle cx="255.1" cy="320.8" r="5.0" fill="#f7ecdc" stroke="#8a6e50" stroke-width="0.9"/>
<circle cx="255.1" cy="320.8" r="1.6" fill="#8a6e56"/>
<circle cx="255.1" cy="331.5" r="5.0" fill="#f7ecdc" stroke="#8a6e50" stroke-width="0.9"/>
<circle cx="255.1" cy="331.5" r="1.6" fill="#8a6e56"/>
<circle cx="255.1" cy="341.6" r="5.0" fill="#f7ecdc" stroke="#8a6e50" stroke-width="0.9"/>
<circle cx="255.1" cy="341.6" r="1.6" fill="#8a6e56"/>
<circle cx="255.1" cy="351.7" r="5.0" fill="#f7ecdc" stroke="#8a6e50" stroke-width="0.9"/>
<circle cx="255.1" cy="351.7" r="1.6" fill="#8a6e56"/>
<rect x="210.9" y="329.0" width="2.2" height="3.0" fill="#7d6044" rx="0.6"/>
<rect x="210.9" y="336.5" width="2.2" height="3.0" fill="#7d6044" rx="0.6"/>
<rect x="218.4" y="348.0" width="2.2" height="3.0" fill="#7d6044" rx="0.6"/>
<rect x="266.4" y="317.5" width="2.2" height="3.0" fill="#7d6044" rx="0.6"/>
<rect x="266.4" y="327.0" width="2.2" height="3.0" fill="#7d6044" rx="0.6"/>
<rect x="266.4" y="337.0" width="2.2" height="3.0" fill="#7d6044" rx="0.6"/>
<rect x="266.4" y="347.5" width="2.2" height="3.0" fill="#7d6044" rx="0.6"/>
<rect x="264.9" y="354.0" width="2.2" height="3.0" fill="#7d6044" rx="0.6"/>
<rect x="264.9" y="363.0" width="2.2" height="3.0" fill="#7d6044" rx="0.6"/>
<rect x="218.4" y="318.5" width="2.2" height="3.0" fill="#7d6044" rx="0.6"/>
<line x1="211.2" y1="373.0" x2="277.6" y2="373.0" stroke="#8a6a48" stroke-width="0.8"/>
<line x1="211.2" y1="376.0" x2="277.6" y2="376.0" stroke="#8a6a48" stroke-width="0.8"/>
<line x1="211.2" y1="383.3" x2="277.6" y2="383.3" stroke="#8a6a48" stroke-width="0.8"/>
<line x1="211.2" y1="386.5" x2="277.6" y2="386.5" stroke="#8a6a48" stroke-width="0.8"/>
<line x1="211.2" y1="391.0" x2="277.6" y2="391.0" stroke="#8a6a48" stroke-width="0.8"/>
<rect x="211.2" y="376.0" width="66.4" height="7.3" fill="#ecd6b6"/>
<rect x="211.2" y="386.5" width="66.4" height="4.5" fill="#ecd6b6"/>
<line x1="211.2" y1="373.0" x2="277.6" y2="373.0" stroke="#8a6a48" stroke-width="0.8"/>
<line x1="211.2" y1="376.0" x2="277.6" y2="376.0" stroke="#8a6a48" stroke-width="0.8"/>
<line x1="211.2" y1="383.3" x2="277.6" y2="383.3" stroke="#8a6a48" stroke-width="0.8"/>
<line x1="211.2" y1="386.5" x2="277.6" y2="386.5" stroke="#8a6a48" stroke-width="0.8"/>
<line x1="211.2" y1="391.0" x2="277.6" y2="391.0" stroke="#8a6a48" stroke-width="0.8"/>
<rect x="209.0" y="383.3" width="70.0" height="3.2" fill="none" stroke="#8a6e50" stroke-width="0.6"/>
<path d="M211.2 360 L211.2 432 L277.6 432 L277.6 360" fill="none" stroke="#927456" stroke-width="0.8"/>
<path d="M218 432 L220 418 L268 418 L270 432" fill="none" stroke="#927456" stroke-width="0.7"/>
<rect x="224.5" y="414.5" width="2.0" height="3.0" fill="#7d6044" rx="0.6"/>
<rect x="262.5" y="414.5" width="2.0" height="3.0" fill="#7d6044" rx="0.6"/>
<circle cx="229.2" cy="428.0" r="4.6" fill="#f7ecdc" stroke="#8a6e50" stroke-width="0.9"/>
<ellipse cx="229.2" cy="428" rx="2.2" ry="1.5" fill="#a08870"/>
<circle cx="239.4" cy="428.0" r="4.6" fill="#f7ecdc" stroke="#8a6e50" stroke-width="0.9"/>
<ellipse cx="239.4" cy="428" rx="2.2" ry="1.5" fill="#a08870"/>
<circle cx="249.5" cy="428.0" r="4.6" fill="#f7ecdc" stroke="#8a6e50" stroke-width="0.9"/>
<ellipse cx="249.5" cy="428" rx="2.2" ry="1.5" fill="#a08870"/>
<circle cx="260.2" cy="428.0" r="4.6" fill="#f7ecdc" stroke="#8a6e50" stroke-width="0.9"/>
<ellipse cx="260.2" cy="428" rx="2.2" ry="1.5" fill="#a08870"/>
<path d="M283 305 L313 305 Q318 305 318 312 L318 325" fill="none" stroke="#927456" stroke-width="0.9"/>
<path d="M283 310 L309 310 Q313 310 313 314 L313 325" fill="none" stroke="#927456" stroke-width="0.9"/>
<path d="M323 318 L338 318 Q341 318 341 324 L341 338 Q341 343 334 343 L288 343 L284 340 L288 336 L334 336 Q336 336 336 332 L336 323 L323 323 Z" fill="none" stroke="#927456" stroke-width="0.8"/>
<rect x="292.0" y="338.2" width="38.0" height="2.0" fill="#ecebf0" stroke="#9c8466" stroke-width="0.7" rx="0.5"/>
<path d="M284 348 L334 348 Q341 348 341 355 L341 368 L336 368 L336 357 Q336 353 331 353 L292 353 L284 350" fill="none" stroke="#927456" stroke-width="0.8"/>
<rect x="292.0" y="349.8" width="36.0" height="1.8" fill="#ecebf0" stroke="#9c8466" stroke-width="0.7" rx="0.5"/>
<circle cx="284.7" cy="319.0" r="4.0" fill="#f2e2c9" stroke="#927456" stroke-width="0.8"/>
<ellipse cx="284.7" cy="319" rx="1.8" ry="2.6" fill="#c8b8a8"/>
<circle cx="294.5" cy="319.0" r="4.0" fill="#f2e2c9" stroke="#927456" stroke-width="0.8"/>
<ellipse cx="294.5" cy="319" rx="1.8" ry="2.6" fill="#c8b8a8"/>
<path d="M348 318 Q364 308 380 318 L384 330 L384 385 Q380 397 364 398 Q348 397 344 385 L344 330 Z" fill="none" stroke="#927456" stroke-width="0.9"/>
<path d="M353 336 Q353 322 360 320 L368 320 Q375 322 375 336 L378 342 L378 388 Q372 393 364 393 Q356 393 351 388 L351 342 Z" fill="none" stroke="#927456" stroke-width="0.7"/>
<rect x="352.2" y="340.0" width="18.8" height="55.0" fill="none" stroke="#927456" stroke-width="0.7"/>
<circle cx="359.7" cy="316.0" r="1.3" fill="#7d6044"/>
<circle cx="367.2" cy="316.0" r="1.3" fill="#7d6044"/>
<circle cx="347.0" cy="330.2" r="1.3" fill="#7d6044"/>
<circle cx="380.7" cy="330.2" r="1.3" fill="#7d6044"/>
<circle cx="353.7" cy="333.2" r="1.3" fill="#7d6044"/>
<circle cx="372.5" cy="333.2" r="1.3" fill="#7d6044"/>
<circle cx="347.0" cy="385.0" r="1.3" fill="#7d6044"/>
<circle cx="380.7" cy="385.0" r="1.3" fill="#7d6044"/>
<circle cx="353.7" cy="382.0" r="1.3" fill="#7d6044"/>
<circle cx="372.5" cy="382.0" r="1.3" fill="#7d6044"/>
<circle cx="360.0" cy="392.0" r="1.3" fill="#7d6044"/>
<circle cx="367.5" cy="392.0" r="1.3" fill="#7d6044"/>
<polygon points="356.0,349.5 357.4,353.1 361.2,353.3 358.2,355.7 359.2,359.4 356.0,357.3 352.8,359.4 353.8,355.7 350.8,353.3 354.6,353.1" fill="#e0b060"/>
<rect x="355.2" y="368.2" width="12.0" height="7.5" fill="#ecebf0" stroke="#9c8466" stroke-width="0.7" rx="0.8"/>
<rect x="370.5" y="352.0" width="3.0" height="2.0" fill="#7d6044" rx="0.6"/>
<rect x="370.5" y="356.0" width="3.0" height="2.0" fill="#7d6044" rx="0.6"/>
<path d="M282 373 L298 373 L298 378 L303 378 L303 432 L282 432 Z" fill="none" stroke="#927456" stroke-width="0.8"/>
<rect x="286.2" y="384.0" width="13.5" height="25.5" fill="#ecebf0" stroke="#9c8466" stroke-width="0.7" rx="0.8"/>
<circle cx="288.5" cy="370.5" r="1.5" fill="#c8a070"/>
<circle cx="288.5" cy="422.5" r="1.5" fill="#c8a070"/>
<circle cx="305.7" cy="363.7" r="3.6" fill="#f2e2c9" stroke="#927456" stroke-width="0.7"/>
<circle cx="305.7" cy="363.7" r="1.2" fill="#a89080"/>
<circle cx="313.2" cy="363.7" r="3.6" fill="#f2e2c9" stroke="#927456" stroke-width="0.7"/>
<circle cx="313.2" cy="363.7" r="1.2" fill="#a89080"/>
<circle cx="305.7" cy="374.2" r="3.6" fill="#f2e2c9" stroke="#927456" stroke-width="0.7"/>
<circle cx="305.7" cy="374.2" r="1.2" fill="#a89080"/>
<circle cx="313.2" cy="374.2" r="3.6" fill="#f2e2c9" stroke="#927456" stroke-width="0.7"/>
<circle cx="313.2" cy="374.2" r="1.2" fill="#a89080"/>
<circle cx="311.0" cy="387.0" r="4.4" fill="#f7ecdc" stroke="#8a6e50" stroke-width="0.8"/>
<ellipse cx="311" cy="387" rx="1.4" ry="2.4" fill="#b0a090"/>
<circle cx="311.0" cy="396.0" r="4.4" fill="#f7ecdc" stroke="#8a6e50" stroke-width="0.8"/>
<ellipse cx="311" cy="396" rx="1.4" ry="2.4" fill="#b0a090"/>
<circle cx="311.0" cy="405.7" r="4.4" fill="#f7ecdc" stroke="#8a6e50" stroke-width="0.8"/>
<ellipse cx="311" cy="405.7" rx="1.4" ry="2.4" fill="#b0a090"/>
<circle cx="311.0" cy="417.0" r="4.4" fill="#f7ecdc" stroke="#8a6e50" stroke-width="0.8"/>
<ellipse cx="311" cy="417" rx="1.4" ry="2.4" fill="#b0a090"/>
<circle cx="311.0" cy="426.0" r="4.4" fill="#f7ecdc" stroke="#8a6e50" stroke-width="0.8"/>
<ellipse cx="311" cy="426" rx="1.4" ry="2.4" fill="#b0a090"/>
<circle cx="302.0" cy="426.0" r="4.4" fill="#f7ecdc" stroke="#8a6e50" stroke-width="0.8"/>
<ellipse cx="302" cy="426" rx="2.2" ry="1.5" fill="#b0a090"/>
<circle cx="323.3" cy="382.5" r="5.3" fill="#f5e8d4" stroke="#8a6e50" stroke-width="0.9"/>
<circle cx="323.3" cy="382.5" r="1.2" fill="#6e5236"/>
<circle cx="335.0" cy="382.5" r="5.3" fill="#f5e8d4" stroke="#8a6e50" stroke-width="0.9"/>
<circle cx="335.0" cy="382.5" r="1.2" fill="#6e5236"/>
<circle cx="323.3" cy="393.7" r="5.3" fill="#f5e8d4" stroke="#8a6e50" stroke-width="0.9"/>
<circle cx="323.3" cy="393.7" r="1.2" fill="#6e5236"/>
<circle cx="335.0" cy="393.7" r="5.3" fill="#f5e8d4" stroke="#8a6e50" stroke-width="0.9"/>
<circle cx="335.0" cy="393.7" r="1.2" fill="#6e5236"/>
<path d="M329 385 L331.5 388 L329 391 L326.5 388 Z" fill="#d4ccd4"/>
<path d="M320 402 L382 402 L382 410 L384 410 L384 424 L382 424 L382 430.5 L320 430.5 Z" fill="none" stroke="#927456" stroke-width="0.8"/>
<rect x="325.5" y="414.8" width="2.0" height="3.5" fill="#7d6044" rx="0.6"/>
<rect x="373.0" y="414.8" width="2.0" height="3.5" fill="#7d6044" rx="0.6"/>
<text x="338" y="312" font-family="Liberation Sans" font-size="3" font-weight="normal" fill="#000" text-anchor="start"></text>
<path d="M413 162 L406 162 L406 168" fill="none" stroke="#8a6c4e" stroke-width="0.7"/>
<path d="M575 162 L581 162 L581 168" fill="none" stroke="#8a6c4e" stroke-width="0.7"/>
<line x1="499.4" y1="160.6" x2="566.0" y2="160.6" stroke="#c8a072" stroke-width="1.4" stroke-dasharray="3 1"/>
<line x1="469.0" y1="158.0" x2="469.0" y2="161.0" stroke="#8a6c4e" stroke-width="0.8"/>
<path d="M437.8 166 Q440.8 170 443.8 166 Z" fill="#d8d0d4"/>
<path d="M437.8 193 Q440.8 189 443.8 193 Z" fill="#d8d0d4"/>
<path d="M473.5 166 Q476.5 170 479.5 166 Z" fill="#d8d0d4"/>
<path d="M473.5 193 Q476.5 189 479.5 193 Z" fill="#d8d0d4"/>
<path d="M508.5 166 Q511.5 170 514.5 166 Z" fill="#d8d0d4"/>
<path d="M508.5 193 Q511.5 189 514.5 193 Z" fill="#d8d0d4"/>
<circle cx="423.6" cy="179.4" r="16.3" fill="#f3e5cf" stroke="#8a6c4e" stroke-width="0.8"/>
<circle cx="423.6" cy="179.4" r="5.0" fill="#ecebf0" stroke="#9c8466" stroke-width="0.6"/>
<circle cx="423.6" cy="166.4" r="1.5" fill="#7d6044"/>
<circle cx="423.6" cy="192.4" r="1.5" fill="#7d6044"/>
<circle cx="410.6" cy="179.4" r="1.5" fill="#7d6044"/>
<circle cx="436.6" cy="179.4" r="1.5" fill="#7d6044"/>
<circle cx="458.0" cy="179.4" r="16.3" fill="#f3e5cf" stroke="#8a6c4e" stroke-width="0.8"/>
<circle cx="458.0" cy="179.4" r="5.0" fill="#ecebf0" stroke="#9c8466" stroke-width="0.6"/>
<circle cx="458.0" cy="166.4" r="1.5" fill="#7d6044"/>
<circle cx="458.0" cy="192.4" r="1.5" fill="#7d6044"/>
<circle cx="445.0" cy="179.4" r="1.5" fill="#7d6044"/>
<circle cx="471.0" cy="179.4" r="1.5" fill="#7d6044"/>
<circle cx="494.3" cy="179.4" r="16.3" fill="#f3e5cf" stroke="#5a3e26" stroke-width="1.5" stroke-dasharray="1.6 1.1"/>
<circle cx="494.3" cy="179.4" r="5.0" fill="#ecebf0" stroke="#9c8466" stroke-width="0.6"/>
<circle cx="504.0" cy="183.4" r="1.1" fill="#7d6044"/>
<circle cx="498.3" cy="189.1" r="1.1" fill="#7d6044"/>
<circle cx="490.3" cy="189.1" r="1.1" fill="#7d6044"/>
<circle cx="484.6" cy="183.4" r="1.1" fill="#7d6044"/>
<circle cx="484.6" cy="175.4" r="1.1" fill="#7d6044"/>
<circle cx="490.3" cy="169.7" r="1.1" fill="#7d6044"/>
<circle cx="498.3" cy="169.7" r="1.1" fill="#7d6044"/>
<circle cx="504.0" cy="175.4" r="1.1" fill="#7d6044"/>
<circle cx="502.3" cy="179.4" r="1.0" fill="#7d6044"/>
<circle cx="494.3" cy="187.4" r="1.0" fill="#7d6044"/>
<circle cx="486.3" cy="179.4" r="1.0" fill="#7d6044"/>
<circle cx="494.3" cy="171.4" r="1.0" fill="#7d6044"/>
<circle cx="528.8" cy="179.4" r="16.3" fill="#f3e5cf" stroke="#5a3e26" stroke-width="1.5" stroke-dasharray="1.6 1.1"/>
<circle cx="528.8" cy="179.4" r="5.0" fill="#ecebf0" stroke="#9c8466" stroke-width="0.6"/>
<circle cx="538.5" cy="183.4" r="1.1" fill="#7d6044"/>
<circle cx="532.8" cy="189.1" r="1.1" fill="#7d6044"/>
<circle cx="524.8" cy="189.1" r="1.1" fill="#7d6044"/>
<circle cx="519.1" cy="183.4" r="1.1" fill="#7d6044"/>
<circle cx="519.1" cy="175.4" r="1.1" fill="#7d6044"/>
<circle cx="524.8" cy="169.7" r="1.1" fill="#7d6044"/>
<circle cx="532.8" cy="169.7" r="1.1" fill="#7d6044"/>
<circle cx="538.5" cy="175.4" r="1.1" fill="#7d6044"/>
<circle cx="536.8" cy="179.4" r="1.0" fill="#7d6044"/>
<circle cx="528.8" cy="187.4" r="1.0" fill="#7d6044"/>
<circle cx="520.8" cy="179.4" r="1.0" fill="#7d6044"/>
<circle cx="528.8" cy="171.4" r="1.0" fill="#7d6044"/>
<circle cx="435.5" cy="201.3" r="5.0" fill="#f3e5cf" stroke="#8a6c4e" stroke-width="0.8"/>
<rect x="433.7" y="198.3" width="3.6" height="6.0" fill="#e6dcd8" stroke="#a08060" stroke-width="0.5" rx="1.2"/>
<circle cx="446.0" cy="201.3" r="5.0" fill="#f3e5cf" stroke="#8a6c4e" stroke-width="0.8"/>
<rect x="444.2" y="198.3" width="3.6" height="6.0" fill="#e6dcd8" stroke="#a08060" stroke-width="0.5" rx="1.2"/>
<circle cx="459.3" cy="205.0" r="4.3" fill="#f6ead8" stroke="#8a6c4c" stroke-width="0.8"/>
<circle cx="459.3" cy="205.0" r="1.3" fill="#7a5c40"/>
<circle cx="468.6" cy="205.0" r="4.3" fill="#f6ead8" stroke="#8a6c4c" stroke-width="0.8"/>
<circle cx="468.6" cy="205.0" r="1.3" fill="#7a5c40"/>
<circle cx="478.6" cy="205.0" r="4.3" fill="#f6ead8" stroke="#8a6c4c" stroke-width="0.8"/>
<circle cx="478.6" cy="205.0" r="1.3" fill="#7a5c40"/>
<circle cx="488.0" cy="205.0" r="4.3" fill="#f6ead8" stroke="#8a6c4c" stroke-width="0.8"/>
<circle cx="488.0" cy="205.0" r="1.3" fill="#7a5c40"/>
<circle cx="500.0" cy="205.0" r="4.3" fill="#f6ead8" stroke="#8a6c4c" stroke-width="0.8"/>
<circle cx="500.0" cy="205.0" r="1.3" fill="#7a5c40"/>
<circle cx="508.1" cy="205.0" r="4.3" fill="#f6ead8" stroke="#8a6c4c" stroke-width="0.8"/>
<circle cx="508.1" cy="205.0" r="1.3" fill="#7a5c40"/>
<circle cx="516.3" cy="205.0" r="4.3" fill="#f6ead8" stroke="#8a6c4c" stroke-width="0.8"/>
<circle cx="516.3" cy="205.0" r="1.3" fill="#7a5c40"/>
<circle cx="525.0" cy="205.0" r="4.3" fill="#f6ead8" stroke="#8a6c4c" stroke-width="0.8"/>
<circle cx="525.0" cy="205.0" r="1.3" fill="#7a5c40"/>
<circle cx="533.0" cy="205.0" r="4.3" fill="#f6ead8" stroke="#8a6c4c" stroke-width="0.8"/>
<circle cx="533.0" cy="205.0" r="1.3" fill="#7a5c40"/>
<circle cx="541.3" cy="205.0" r="4.3" fill="#f6ead8" stroke="#8a6c4c" stroke-width="0.8"/>
<circle cx="541.3" cy="205.0" r="1.3" fill="#7a5c40"/>
<rect x="406.0" y="209.4" width="15.5" height="12.6" fill="#ead4b2" stroke="#8a6c4c" stroke-width="0.7"/>
<line x1="408.2" y1="209.9" x2="408.2" y2="221.5" stroke="#a88660" stroke-width="0.6"/>
<line x1="410.4" y1="209.9" x2="410.4" y2="221.5" stroke="#a88660" stroke-width="0.6"/>
<line x1="412.6" y1="209.9" x2="412.6" y2="221.5" stroke="#a88660" stroke-width="0.6"/>
<line x1="414.8" y1="209.9" x2="414.8" y2="221.5" stroke="#a88660" stroke-width="0.6"/>
<line x1="417.0" y1="209.9" x2="417.0" y2="221.5" stroke="#a88660" stroke-width="0.6"/>
<line x1="419.2" y1="209.9" x2="419.2" y2="221.5" stroke="#a88660" stroke-width="0.6"/>
<rect x="423.0" y="209.4" width="15.6" height="12.6" fill="#ead4b2" stroke="#8a6c4c" stroke-width="0.7"/>
<line x1="425.2" y1="209.9" x2="425.2" y2="221.5" stroke="#a88660" stroke-width="0.6"/>
<line x1="427.4" y1="209.9" x2="427.4" y2="221.5" stroke="#a88660" stroke-width="0.6"/>
<line x1="429.6" y1="209.9" x2="429.6" y2="221.5" stroke="#a88660" stroke-width="0.6"/>
<line x1="431.8" y1="209.9" x2="431.8" y2="221.5" stroke="#a88660" stroke-width="0.6"/>
<line x1="434.0" y1="209.9" x2="434.0" y2="221.5" stroke="#a88660" stroke-width="0.6"/>
<line x1="436.2" y1="209.9" x2="436.2" y2="221.5" stroke="#a88660" stroke-width="0.6"/>
<rect x="548.0" y="171.3" width="15.8" height="18.1" fill="#ead4b2" stroke="#8a6c4c" stroke-width="0.7"/>
<line x1="550.2" y1="171.8" x2="550.2" y2="188.9" stroke="#a88660" stroke-width="0.6"/>
<line x1="552.4" y1="171.8" x2="552.4" y2="188.9" stroke="#a88660" stroke-width="0.6"/>
<line x1="554.6" y1="171.8" x2="554.6" y2="188.9" stroke="#a88660" stroke-width="0.6"/>
<line x1="556.8" y1="171.8" x2="556.8" y2="188.9" stroke="#a88660" stroke-width="0.6"/>
<line x1="559.0" y1="171.8" x2="559.0" y2="188.9" stroke="#a88660" stroke-width="0.6"/>
<line x1="561.2" y1="171.8" x2="561.2" y2="188.9" stroke="#a88660" stroke-width="0.6"/>
<rect x="566.3" y="171.3" width="14.3" height="18.1" fill="#ead4b2" stroke="#8a6c4c" stroke-width="0.7"/>
<line x1="568.5" y1="171.8" x2="568.5" y2="188.9" stroke="#a88660" stroke-width="0.6"/>
<line x1="570.7" y1="171.8" x2="570.7" y2="188.9" stroke="#a88660" stroke-width="0.6"/>
<line x1="572.9" y1="171.8" x2="572.9" y2="188.9" stroke="#a88660" stroke-width="0.6"/>
<line x1="575.1" y1="171.8" x2="575.1" y2="188.9" stroke="#a88660" stroke-width="0.6"/>
<line x1="577.3" y1="171.8" x2="577.3" y2="188.9" stroke="#a88660" stroke-width="0.6"/>
<line x1="579.5" y1="171.8" x2="579.5" y2="188.9" stroke="#a88660" stroke-width="0.6"/>
<rect x="548.0" y="191.3" width="15.8" height="18.1" fill="#ead4b2" stroke="#8a6c4c" stroke-width="0.7"/>
<line x1="550.2" y1="191.8" x2="550.2" y2="208.9" stroke="#a88660" stroke-width="0.6"/>
<line x1="552.4" y1="191.8" x2="552.4" y2="208.9" stroke="#a88660" stroke-width="0.6"/>
<line x1="554.6" y1="191.8" x2="554.6" y2="208.9" stroke="#a88660" stroke-width="0.6"/>
<line x1="556.8" y1="191.8" x2="556.8" y2="208.9" stroke="#a88660" stroke-width="0.6"/>
<line x1="559.0" y1="191.8" x2="559.0" y2="208.9" stroke="#a88660" stroke-width="0.6"/>
<line x1="561.2" y1="191.8" x2="561.2" y2="208.9" stroke="#a88660" stroke-width="0.6"/>
<rect x="566.3" y="191.3" width="14.3" height="18.1" fill="#ead4b2" stroke="#8a6c4c" stroke-width="0.7"/>
<line x1="568.5" y1="191.8" x2="568.5" y2="208.9" stroke="#a88660" stroke-width="0.6"/>
<line x1="570.7" y1="191.8" x2="570.7" y2="208.9" stroke="#a88660" stroke-width="0.6"/>
<line x1="572.9" y1="191.8" x2="572.9" y2="208.9" stroke="#a88660" stroke-width="0.6"/>
<line x1="575.1" y1="191.8" x2="575.1" y2="208.9" stroke="#a88660" stroke-width="0.6"/>
<line x1="577.3" y1="191.8" x2="577.3" y2="208.9" stroke="#a88660" stroke-width="0.6"/>
<line x1="579.5" y1="191.8" x2="579.5" y2="208.9" stroke="#a88660" stroke-width="0.6"/>
<path d="M447.2 241.7 L450.2 238.7 L453.2 241.7 L450.2 244.7 Z" fill="#dcd6dc"/>
<path d="M464.2 241.7 L467.2 238.7 L470.2 241.7 L467.2 244.7 Z" fill="#dcd6dc"/>
<path d="M447.2 273.3 L450.2 270.3 L453.2 273.3 L450.2 276.3 Z" fill="#dcd6dc"/>
<path d="M464.2 273.3 L467.2 270.3 L470.2 273.3 L467.2 276.3 Z" fill="#dcd6dc"/>
<path d="M447.2 304.70000000000005 L450.2 301.70000000000005 L453.2 304.70000000000005 L450.2 307.70000000000005 Z" fill="#dcd6dc"/>
<path d="M464.2 304.70000000000005 L467.2 301.70000000000005 L470.2 304.70000000000005 L467.2 307.70000000000005 Z" fill="#dcd6dc"/>
<path d="M447.2 336.65 L450.2 333.65 L453.2 336.65 L450.2 339.65 Z" fill="#dcd6dc"/>
<path d="M464.2 336.65 L467.2 333.65 L470.2 336.65 L467.2 339.65 Z" fill="#dcd6dc"/>
<path d="M447.2 368.7 L450.2 365.7 L453.2 368.7 L450.2 371.7 Z" fill="#dcd6dc"/>
<path d="M464.2 368.7 L467.2 365.7 L470.2 368.7 L467.2 371.7 Z" fill="#dcd6dc"/>
<path d="M447.2 400.5 L450.2 397.5 L453.2 400.5 L450.2 403.5 Z" fill="#dcd6dc"/>
<path d="M464.2 400.5 L467.2 397.5 L470.2 400.5 L467.2 403.5 Z" fill="#dcd6dc"/>
<path d="M482.9 241.7 L485.9 238.7 L488.9 241.7 L485.9 244.7 Z" fill="#dcd6dc"/>
<path d="M499.9 241.7 L502.9 238.7 L505.9 241.7 L502.9 244.7 Z" fill="#dcd6dc"/>
<path d="M482.9 273.3 L485.9 270.3 L488.9 273.3 L485.9 276.3 Z" fill="#dcd6dc"/>
<path d="M499.9 273.3 L502.9 270.3 L505.9 273.3 L502.9 276.3 Z" fill="#dcd6dc"/>
<path d="M482.9 304.70000000000005 L485.9 301.70000000000005 L488.9 304.70000000000005 L485.9 307.70000000000005 Z" fill="#dcd6dc"/>
<path d="M499.9 304.70000000000005 L502.9 301.70000000000005 L505.9 304.70000000000005 L502.9 307.70000000000005 Z" fill="#dcd6dc"/>
<path d="M482.9 336.65 L485.9 333.65 L488.9 336.65 L485.9 339.65 Z" fill="#dcd6dc"/>
<path d="M499.9 336.65 L502.9 333.65 L505.9 336.65 L502.9 339.65 Z" fill="#dcd6dc"/>
<path d="M482.9 368.7 L485.9 365.7 L488.9 368.7 L485.9 371.7 Z" fill="#dcd6dc"/>
<path d="M499.9 368.7 L502.9 365.7 L505.9 368.7 L502.9 371.7 Z" fill="#dcd6dc"/>
<path d="M482.9 400.5 L485.9 397.5 L488.9 400.5 L485.9 403.5 Z" fill="#dcd6dc"/>
<path d="M499.9 400.5 L502.9 397.5 L505.9 400.5 L502.9 403.5 Z" fill="#dcd6dc"/>
<path d="M518.4 241.7 L521.4 238.7 L524.4 241.7 L521.4 244.7 Z" fill="#dcd6dc"/>
<path d="M535.4 241.7 L538.4 238.7 L541.4 241.7 L538.4 244.7 Z" fill="#dcd6dc"/>
<path d="M518.4 273.3 L521.4 270.3 L524.4 273.3 L521.4 276.3 Z" fill="#dcd6dc"/>
<path d="M535.4 273.3 L538.4 270.3 L541.4 273.3 L538.4 276.3 Z" fill="#dcd6dc"/>
<path d="M518.4 304.70000000000005 L521.4 301.70000000000005 L524.4 304.70000000000005 L521.4 307.70000000000005 Z" fill="#dcd6dc"/>
<path d="M535.4 304.70000000000005 L538.4 301.70000000000005 L541.4 304.70000000000005 L538.4 307.70000000000005 Z" fill="#dcd6dc"/>
<path d="M518.4 336.65 L521.4 333.65 L524.4 336.65 L521.4 339.65 Z" fill="#dcd6dc"/>
<path d="M535.4 336.65 L538.4 333.65 L541.4 336.65 L538.4 339.65 Z" fill="#dcd6dc"/>
<path d="M518.4 368.7 L521.4 365.7 L524.4 368.7 L521.4 371.7 Z" fill="#dcd6dc"/>
<path d="M535.4 368.7 L538.4 365.7 L541.4 368.7 L538.4 371.7 Z" fill="#dcd6dc"/>
<path d="M518.4 400.5 L521.4 397.5 L524.4 400.5 L521.4 403.5 Z" fill="#dcd6dc"/>
<path d="M535.4 400.5 L538.4 397.5 L541.4 400.5 L538.4 403.5 Z" fill="#dcd6dc"/>
<path d="M553.7 241.7 L556.7 238.7 L559.7 241.7 L556.7 244.7 Z" fill="#dcd6dc"/>
<path d="M570.7 241.7 L573.7 238.7 L576.7 241.7 L573.7 244.7 Z" fill="#dcd6dc"/>
<path d="M553.7 273.3 L556.7 270.3 L559.7 273.3 L556.7 276.3 Z" fill="#dcd6dc"/>
<path d="M570.7 273.3 L573.7 270.3 L576.7 273.3 L573.7 276.3 Z" fill="#dcd6dc"/>
<path d="M553.7 304.70000000000005 L556.7 301.70000000000005 L559.7 304.70000000000005 L556.7 307.70000000000005 Z" fill="#dcd6dc"/>
<path d="M570.7 304.70000000000005 L573.7 301.70000000000005 L576.7 304.70000000000005 L573.7 307.70000000000005 Z" fill="#dcd6dc"/>
<path d="M553.7 336.65 L556.7 333.65 L559.7 336.65 L556.7 339.65 Z" fill="#dcd6dc"/>
<path d="M570.7 336.65 L573.7 333.65 L576.7 336.65 L573.7 339.65 Z" fill="#dcd6dc"/>
<path d="M553.7 368.7 L556.7 365.7 L559.7 368.7 L556.7 371.7 Z" fill="#dcd6dc"/>
<path d="M570.7 368.7 L573.7 365.7 L576.7 368.7 L573.7 371.7 Z" fill="#dcd6dc"/>
<path d="M553.7 400.5 L556.7 397.5 L559.7 400.5 L556.7 403.5 Z" fill="#dcd6dc"/>
<path d="M570.7 400.5 L573.7 397.5 L576.7 400.5 L573.7 403.5 Z" fill="#dcd6dc"/>
<circle cx="458.7" cy="225.6" r="16.0" fill="#f3e5cf" stroke="#8a6c4e" stroke-width="0.8"/>
<circle cx="458.7" cy="225.6" r="4.8" fill="#ecebf0" stroke="#9c8466" stroke-width="0.6"/>
<circle cx="458.7" cy="213.1" r="1.4" fill="#7d6044"/>
<circle cx="458.7" cy="238.1" r="1.4" fill="#7d6044"/>
<circle cx="446.2" cy="225.6" r="1.4" fill="#7d6044"/>
<circle cx="471.2" cy="225.6" r="1.4" fill="#7d6044"/>
<circle cx="458.7" cy="257.8" r="16.0" fill="#f3e5cf" stroke="#8a6c4e" stroke-width="0.8"/>
<circle cx="458.7" cy="257.8" r="4.6" fill="#ecebf0" stroke="#9c8466" stroke-width="0.6"/>
<circle cx="458.7" cy="245.3" r="1.4" fill="#7d6044"/>
<circle cx="458.7" cy="270.3" r="1.4" fill="#7d6044"/>
<circle cx="446.2" cy="257.8" r="1.4" fill="#7d6044"/>
<circle cx="471.2" cy="257.8" r="1.4" fill="#7d6044"/>
<circle cx="466.4" cy="261.0" r="1.0" fill="#7d6044"/>
<circle cx="461.9" cy="265.5" r="1.0" fill="#7d6044"/>
<circle cx="455.5" cy="265.5" r="1.0" fill="#7d6044"/>
<circle cx="451.0" cy="261.0" r="1.0" fill="#7d6044"/>
<circle cx="451.0" cy="254.6" r="1.0" fill="#7d6044"/>
<circle cx="455.5" cy="250.1" r="1.0" fill="#7d6044"/>
<circle cx="461.9" cy="250.1" r="1.0" fill="#7d6044"/>
<circle cx="466.4" cy="254.6" r="1.0" fill="#7d6044"/>
<circle cx="458.7" cy="288.8" r="16.0" fill="#f3e5cf" stroke="#8a6c4e" stroke-width="0.8"/>
<circle cx="458.7" cy="288.8" r="4.6" fill="#ecebf0" stroke="#9c8466" stroke-width="0.6"/>
<circle cx="458.7" cy="276.3" r="1.4" fill="#7d6044"/>
<circle cx="458.7" cy="301.3" r="1.4" fill="#7d6044"/>
<circle cx="446.2" cy="288.8" r="1.4" fill="#7d6044"/>
<circle cx="471.2" cy="288.8" r="1.4" fill="#7d6044"/>
<circle cx="466.4" cy="292.0" r="1.0" fill="#7d6044"/>
<circle cx="461.9" cy="296.5" r="1.0" fill="#7d6044"/>
<circle cx="455.5" cy="296.5" r="1.0" fill="#7d6044"/>
<circle cx="451.0" cy="292.0" r="1.0" fill="#7d6044"/>
<circle cx="451.0" cy="285.6" r="1.0" fill="#7d6044"/>
<circle cx="455.5" cy="281.1" r="1.0" fill="#7d6044"/>
<circle cx="461.9" cy="281.1" r="1.0" fill="#7d6044"/>
<circle cx="466.4" cy="285.6" r="1.0" fill="#7d6044"/>
<circle cx="458.7" cy="320.6" r="15.8" fill="#f3e5cf" stroke="#5a3e26" stroke-width="1.4" stroke-dasharray="2 1.1"/>
<circle cx="458.7" cy="320.6" r="9.5" fill="#ecebf0" stroke="#9c8466" stroke-width="0.7"/>
<circle cx="470.7" cy="320.6" r="1.3" fill="#7d6044"/>
<circle cx="458.7" cy="332.6" r="1.3" fill="#7d6044"/>
<circle cx="446.7" cy="320.6" r="1.3" fill="#7d6044"/>
<circle cx="458.7" cy="308.6" r="1.3" fill="#7d6044"/>
<circle cx="458.7" cy="352.7" r="15.8" fill="#f3e5cf" stroke="#5a3e26" stroke-width="1.4" stroke-dasharray="2 1.1"/>
<circle cx="458.7" cy="352.7" r="9.5" fill="#ecebf0" stroke="#9c8466" stroke-width="0.7"/>
<circle cx="470.7" cy="352.7" r="1.3" fill="#7d6044"/>
<circle cx="458.7" cy="364.7" r="1.3" fill="#7d6044"/>
<circle cx="446.7" cy="352.7" r="1.3" fill="#7d6044"/>
<circle cx="458.7" cy="340.7" r="1.3" fill="#7d6044"/>
<circle cx="458.7" cy="384.7" r="15.6" fill="#ecd09e" stroke="#5a3a1e" stroke-width="1.8" stroke-dasharray="2 1.2"/>
<circle cx="458.7" cy="384.7" r="12.2" fill="none" stroke="#7a5030" stroke-width="1.4" stroke-dasharray="1.6 1.4"/>
<circle cx="458.7" cy="384.7" r="9.6" fill="#ecebf0" stroke="#c89a60" stroke-width="1.0"/>
<circle cx="458.7" cy="416.3" r="15.6" fill="#ecd09e" stroke="#5a3a1e" stroke-width="1.8" stroke-dasharray="2 1.2"/>
<circle cx="458.7" cy="416.3" r="12.2" fill="none" stroke="#7a5030" stroke-width="1.4" stroke-dasharray="1.6 1.4"/>
<circle cx="458.7" cy="416.3" r="9.6" fill="#ecebf0" stroke="#c89a60" stroke-width="1.0"/>
<circle cx="494.4" cy="225.6" r="16.0" fill="#f3e5cf" stroke="#8a6c4e" stroke-width="0.8"/>
<circle cx="494.4" cy="225.6" r="4.8" fill="#ecebf0" stroke="#9c8466" stroke-width="0.6"/>
<circle cx="494.4" cy="213.1" r="1.4" fill="#7d6044"/>
<circle cx="494.4" cy="238.1" r="1.4" fill="#7d6044"/>
<circle cx="481.9" cy="225.6" r="1.4" fill="#7d6044"/>
<circle cx="506.9" cy="225.6" r="1.4" fill="#7d6044"/>
<circle cx="494.4" cy="257.8" r="16.0" fill="#f3e5cf" stroke="#8a6c4e" stroke-width="0.8"/>
<circle cx="494.4" cy="257.8" r="4.6" fill="#ecebf0" stroke="#9c8466" stroke-width="0.6"/>
<circle cx="494.4" cy="245.3" r="1.4" fill="#7d6044"/>
<circle cx="494.4" cy="270.3" r="1.4" fill="#7d6044"/>
<circle cx="481.9" cy="257.8" r="1.4" fill="#7d6044"/>
<circle cx="506.9" cy="257.8" r="1.4" fill="#7d6044"/>
<circle cx="502.1" cy="261.0" r="1.0" fill="#7d6044"/>
<circle cx="497.6" cy="265.5" r="1.0" fill="#7d6044"/>
<circle cx="491.2" cy="265.5" r="1.0" fill="#7d6044"/>
<circle cx="486.7" cy="261.0" r="1.0" fill="#7d6044"/>
<circle cx="486.7" cy="254.6" r="1.0" fill="#7d6044"/>
<circle cx="491.2" cy="250.1" r="1.0" fill="#7d6044"/>
<circle cx="497.6" cy="250.1" r="1.0" fill="#7d6044"/>
<circle cx="502.1" cy="254.6" r="1.0" fill="#7d6044"/>
<circle cx="494.4" cy="288.8" r="16.0" fill="#f3e5cf" stroke="#8a6c4e" stroke-width="0.8"/>
<circle cx="494.4" cy="288.8" r="4.6" fill="#ecebf0" stroke="#9c8466" stroke-width="0.6"/>
<circle cx="494.4" cy="276.3" r="1.4" fill="#7d6044"/>
<circle cx="494.4" cy="301.3" r="1.4" fill="#7d6044"/>
<circle cx="481.9" cy="288.8" r="1.4" fill="#7d6044"/>
<circle cx="506.9" cy="288.8" r="1.4" fill="#7d6044"/>
<circle cx="502.1" cy="292.0" r="1.0" fill="#7d6044"/>
<circle cx="497.6" cy="296.5" r="1.0" fill="#7d6044"/>
<circle cx="491.2" cy="296.5" r="1.0" fill="#7d6044"/>
<circle cx="486.7" cy="292.0" r="1.0" fill="#7d6044"/>
<circle cx="486.7" cy="285.6" r="1.0" fill="#7d6044"/>
<circle cx="491.2" cy="281.1" r="1.0" fill="#7d6044"/>
<circle cx="497.6" cy="281.1" r="1.0" fill="#7d6044"/>
<circle cx="502.1" cy="285.6" r="1.0" fill="#7d6044"/>
<circle cx="494.4" cy="320.6" r="15.8" fill="#f3e5cf" stroke="#5a3e26" stroke-width="1.4" stroke-dasharray="2 1.1"/>
<circle cx="494.4" cy="320.6" r="9.5" fill="#ecebf0" stroke="#9c8466" stroke-width="0.7"/>
<circle cx="506.4" cy="320.6" r="1.3" fill="#7d6044"/>
<circle cx="494.4" cy="332.6" r="1.3" fill="#7d6044"/>
<circle cx="482.4" cy="320.6" r="1.3" fill="#7d6044"/>
<circle cx="494.4" cy="308.6" r="1.3" fill="#7d6044"/>
<circle cx="494.4" cy="352.7" r="15.8" fill="#f3e5cf" stroke="#5a3e26" stroke-width="1.4" stroke-dasharray="2 1.1"/>
<circle cx="494.4" cy="352.7" r="9.5" fill="#ecebf0" stroke="#9c8466" stroke-width="0.7"/>
<circle cx="506.4" cy="352.7" r="1.3" fill="#7d6044"/>
<circle cx="494.4" cy="364.7" r="1.3" fill="#7d6044"/>
<circle cx="482.4" cy="352.7" r="1.3" fill="#7d6044"/>
<circle cx="494.4" cy="340.7" r="1.3" fill="#7d6044"/>
<circle cx="494.4" cy="384.7" r="15.6" fill="#ecd09e" stroke="#5a3a1e" stroke-width="1.8" stroke-dasharray="2 1.2"/>
<circle cx="494.4" cy="384.7" r="12.2" fill="none" stroke="#7a5030" stroke-width="1.4" stroke-dasharray="1.6 1.4"/>
<circle cx="494.4" cy="384.7" r="9.6" fill="#ecebf0" stroke="#c89a60" stroke-width="1.0"/>
<circle cx="494.4" cy="416.3" r="15.6" fill="#ecd09e" stroke="#5a3a1e" stroke-width="1.8" stroke-dasharray="2 1.2"/>
<circle cx="494.4" cy="416.3" r="12.2" fill="none" stroke="#7a5030" stroke-width="1.4" stroke-dasharray="1.6 1.4"/>
<circle cx="494.4" cy="416.3" r="9.6" fill="#ecebf0" stroke="#c89a60" stroke-width="1.0"/>
<circle cx="529.9" cy="225.6" r="16.0" fill="#f3e5cf" stroke="#8a6c4e" stroke-width="0.8"/>
<circle cx="529.9" cy="225.6" r="4.8" fill="#ecebf0" stroke="#9c8466" stroke-width="0.6"/>
<circle cx="529.9" cy="213.1" r="1.4" fill="#7d6044"/>
<circle cx="529.9" cy="238.1" r="1.4" fill="#7d6044"/>
<circle cx="517.4" cy="225.6" r="1.4" fill="#7d6044"/>
<circle cx="542.4" cy="225.6" r="1.4" fill="#7d6044"/>
<circle cx="529.9" cy="257.8" r="16.0" fill="#f3e5cf" stroke="#8a6c4e" stroke-width="0.8"/>
<circle cx="529.9" cy="257.8" r="4.6" fill="#ecebf0" stroke="#9c8466" stroke-width="0.6"/>
<circle cx="529.9" cy="245.3" r="1.4" fill="#7d6044"/>
<circle cx="529.9" cy="270.3" r="1.4" fill="#7d6044"/>
<circle cx="517.4" cy="257.8" r="1.4" fill="#7d6044"/>
<circle cx="542.4" cy="257.8" r="1.4" fill="#7d6044"/>
<circle cx="537.6" cy="261.0" r="1.0" fill="#7d6044"/>
<circle cx="533.1" cy="265.5" r="1.0" fill="#7d6044"/>
<circle cx="526.7" cy="265.5" r="1.0" fill="#7d6044"/>
<circle cx="522.2" cy="261.0" r="1.0" fill="#7d6044"/>
<circle cx="522.2" cy="254.6" r="1.0" fill="#7d6044"/>
<circle cx="526.7" cy="250.1" r="1.0" fill="#7d6044"/>
<circle cx="533.1" cy="250.1" r="1.0" fill="#7d6044"/>
<circle cx="537.6" cy="254.6" r="1.0" fill="#7d6044"/>
<circle cx="529.9" cy="288.8" r="16.0" fill="#f3e5cf" stroke="#8a6c4e" stroke-width="0.8"/>
<circle cx="529.9" cy="288.8" r="4.6" fill="#ecebf0" stroke="#9c8466" stroke-width="0.6"/>
<circle cx="529.9" cy="276.3" r="1.4" fill="#7d6044"/>
<circle cx="529.9" cy="301.3" r="1.4" fill="#7d6044"/>
<circle cx="517.4" cy="288.8" r="1.4" fill="#7d6044"/>
<circle cx="542.4" cy="288.8" r="1.4" fill="#7d6044"/>
<circle cx="537.6" cy="292.0" r="1.0" fill="#7d6044"/>
<circle cx="533.1" cy="296.5" r="1.0" fill="#7d6044"/>
<circle cx="526.7" cy="296.5" r="1.0" fill="#7d6044"/>
<circle cx="522.2" cy="292.0" r="1.0" fill="#7d6044"/>
<circle cx="522.2" cy="285.6" r="1.0" fill="#7d6044"/>
<circle cx="526.7" cy="281.1" r="1.0" fill="#7d6044"/>
<circle cx="533.1" cy="281.1" r="1.0" fill="#7d6044"/>
<circle cx="537.6" cy="285.6" r="1.0" fill="#7d6044"/>
<circle cx="529.9" cy="320.6" r="15.8" fill="#f3e5cf" stroke="#5a3e26" stroke-width="1.4" stroke-dasharray="2 1.1"/>
<circle cx="529.9" cy="320.6" r="9.5" fill="#ecebf0" stroke="#9c8466" stroke-width="0.7"/>
<circle cx="541.9" cy="320.6" r="1.3" fill="#7d6044"/>
<circle cx="529.9" cy="332.6" r="1.3" fill="#7d6044"/>
<circle cx="517.9" cy="320.6" r="1.3" fill="#7d6044"/>
<circle cx="529.9" cy="308.6" r="1.3" fill="#7d6044"/>
<circle cx="529.9" cy="352.7" r="15.8" fill="#f3e5cf" stroke="#5a3e26" stroke-width="1.4" stroke-dasharray="2 1.1"/>
<circle cx="529.9" cy="352.7" r="9.5" fill="#ecebf0" stroke="#9c8466" stroke-width="0.7"/>
<circle cx="541.9" cy="352.7" r="1.3" fill="#7d6044"/>
<circle cx="529.9" cy="364.7" r="1.3" fill="#7d6044"/>
<circle cx="517.9" cy="352.7" r="1.3" fill="#7d6044"/>
<circle cx="529.9" cy="340.7" r="1.3" fill="#7d6044"/>
<circle cx="529.9" cy="384.7" r="15.6" fill="#ecd09e" stroke="#5a3a1e" stroke-width="1.8" stroke-dasharray="2 1.2"/>
<circle cx="529.9" cy="384.7" r="12.2" fill="none" stroke="#7a5030" stroke-width="1.4" stroke-dasharray="1.6 1.4"/>
<circle cx="529.9" cy="384.7" r="9.6" fill="#ecebf0" stroke="#c89a60" stroke-width="1.0"/>
<circle cx="529.9" cy="416.3" r="15.6" fill="#ecd09e" stroke="#5a3a1e" stroke-width="1.8" stroke-dasharray="2 1.2"/>
<circle cx="529.9" cy="416.3" r="12.2" fill="none" stroke="#7a5030" stroke-width="1.4" stroke-dasharray="1.6 1.4"/>
<circle cx="529.9" cy="416.3" r="9.6" fill="#ecebf0" stroke="#c89a60" stroke-width="1.0"/>
<circle cx="565.2" cy="225.6" r="16.0" fill="#f3e5cf" stroke="#8a6c4e" stroke-width="0.8"/>
<circle cx="565.2" cy="225.6" r="4.8" fill="#ecebf0" stroke="#9c8466" stroke-width="0.6"/>
<circle cx="565.2" cy="213.1" r="1.4" fill="#7d6044"/>
<circle cx="565.2" cy="238.1" r="1.4" fill="#7d6044"/>
<circle cx="552.7" cy="225.6" r="1.4" fill="#7d6044"/>
<circle cx="577.7" cy="225.6" r="1.4" fill="#7d6044"/>
<circle cx="565.2" cy="257.8" r="16.0" fill="#f3e5cf" stroke="#8a6c4e" stroke-width="0.8"/>
<circle cx="565.2" cy="257.8" r="4.6" fill="#ecebf0" stroke="#9c8466" stroke-width="0.6"/>
<circle cx="565.2" cy="245.3" r="1.4" fill="#7d6044"/>
<circle cx="565.2" cy="270.3" r="1.4" fill="#7d6044"/>
<circle cx="552.7" cy="257.8" r="1.4" fill="#7d6044"/>
<circle cx="577.7" cy="257.8" r="1.4" fill="#7d6044"/>
<circle cx="572.9" cy="261.0" r="1.0" fill="#7d6044"/>
<circle cx="568.4" cy="265.5" r="1.0" fill="#7d6044"/>
<circle cx="562.0" cy="265.5" r="1.0" fill="#7d6044"/>
<circle cx="557.5" cy="261.0" r="1.0" fill="#7d6044"/>
<circle cx="557.5" cy="254.6" r="1.0" fill="#7d6044"/>
<circle cx="562.0" cy="250.1" r="1.0" fill="#7d6044"/>
<circle cx="568.4" cy="250.1" r="1.0" fill="#7d6044"/>
<circle cx="572.9" cy="254.6" r="1.0" fill="#7d6044"/>
<circle cx="565.2" cy="288.8" r="16.0" fill="#f3e5cf" stroke="#8a6c4e" stroke-width="0.8"/>
<circle cx="565.2" cy="288.8" r="4.6" fill="#ecebf0" stroke="#9c8466" stroke-width="0.6"/>
<circle cx="565.2" cy="276.3" r="1.4" fill="#7d6044"/>
<circle cx="565.2" cy="301.3" r="1.4" fill="#7d6044"/>
<circle cx="552.7" cy="288.8" r="1.4" fill="#7d6044"/>
<circle cx="577.7" cy="288.8" r="1.4" fill="#7d6044"/>
<circle cx="572.9" cy="292.0" r="1.0" fill="#7d6044"/>
<circle cx="568.4" cy="296.5" r="1.0" fill="#7d6044"/>
<circle cx="562.0" cy="296.5" r="1.0" fill="#7d6044"/>
<circle cx="557.5" cy="292.0" r="1.0" fill="#7d6044"/>
<circle cx="557.5" cy="285.6" r="1.0" fill="#7d6044"/>
<circle cx="562.0" cy="281.1" r="1.0" fill="#7d6044"/>
<circle cx="568.4" cy="281.1" r="1.0" fill="#7d6044"/>
<circle cx="572.9" cy="285.6" r="1.0" fill="#7d6044"/>
<circle cx="565.2" cy="320.6" r="15.8" fill="#f3e5cf" stroke="#5a3e26" stroke-width="1.4" stroke-dasharray="2 1.1"/>
<circle cx="565.2" cy="320.6" r="9.5" fill="#ecebf0" stroke="#9c8466" stroke-width="0.7"/>
<circle cx="577.2" cy="320.6" r="1.3" fill="#7d6044"/>
<circle cx="565.2" cy="332.6" r="1.3" fill="#7d6044"/>
<circle cx="553.2" cy="320.6" r="1.3" fill="#7d6044"/>
<circle cx="565.2" cy="308.6" r="1.3" fill="#7d6044"/>
<circle cx="565.2" cy="352.7" r="15.8" fill="#f3e5cf" stroke="#5a3e26" stroke-width="1.4" stroke-dasharray="2 1.1"/>
<circle cx="565.2" cy="352.7" r="9.5" fill="#ecebf0" stroke="#9c8466" stroke-width="0.7"/>
<circle cx="577.2" cy="352.7" r="1.3" fill="#7d6044"/>
<circle cx="565.2" cy="364.7" r="1.3" fill="#7d6044"/>
<circle cx="553.2" cy="352.7" r="1.3" fill="#7d6044"/>
<circle cx="565.2" cy="340.7" r="1.3" fill="#7d6044"/>
<circle cx="565.2" cy="384.7" r="15.6" fill="#ecd09e" stroke="#5a3a1e" stroke-width="1.8" stroke-dasharray="2 1.2"/>
<circle cx="565.2" cy="384.7" r="12.2" fill="none" stroke="#7a5030" stroke-width="1.4" stroke-dasharray="1.6 1.4"/>
<circle cx="565.2" cy="384.7" r="9.6" fill="#ecebf0" stroke="#c89a60" stroke-width="1.0"/>
<circle cx="565.2" cy="416.3" r="15.6" fill="#ecd09e" stroke="#5a3a1e" stroke-width="1.8" stroke-dasharray="2 1.2"/>
<circle cx="565.2" cy="416.3" r="12.2" fill="none" stroke="#7a5030" stroke-width="1.4" stroke-dasharray="1.6 1.4"/>
<circle cx="565.2" cy="416.3" r="9.6" fill="#ecebf0" stroke="#c89a60" stroke-width="1.0"/>
<path d="M412.1 257.4 L415.1 254.39999999999998 L418.1 257.4 L415.1 260.4 Z" fill="#dcd6dc"/>
<path d="M429.1 257.4 L432.1 254.39999999999998 L435.1 257.4 L432.1 260.4 Z" fill="#dcd6dc"/>
<path d="M412.1 293.15 L415.1 290.15 L418.1 293.15 L415.1 296.15 Z" fill="#dcd6dc"/>
<path d="M429.1 293.15 L432.1 290.15 L435.1 293.15 L432.1 296.15 Z" fill="#dcd6dc"/>
<path d="M412.1 329.25 L415.1 326.25 L418.1 329.25 L415.1 332.25 Z" fill="#dcd6dc"/>
<path d="M429.1 329.25 L432.1 326.25 L435.1 329.25 L432.1 332.25 Z" fill="#dcd6dc"/>
<path d="M412.1 363.0 L415.1 360.0 L418.1 363.0 L415.1 366.0 Z" fill="#dcd6dc"/>
<path d="M429.1 363.0 L432.1 360.0 L435.1 363.0 L432.1 366.0 Z" fill="#dcd6dc"/>
<path d="M412.1 396.9 L415.1 393.9 L418.1 396.9 L415.1 399.9 Z" fill="#dcd6dc"/>
<path d="M429.1 396.9 L432.1 393.9 L435.1 396.9 L432.1 399.9 Z" fill="#dcd6dc"/>
<circle cx="423.6" cy="241.0" r="16.8" fill="#f3e5cf" stroke="#5a3e26" stroke-width="1.5" stroke-dasharray="1.6 1.1"/>
<circle cx="434.1" cy="241.0" r="1.0" fill="#7d6044"/>
<circle cx="432.1" cy="247.2" r="1.0" fill="#7d6044"/>
<circle cx="426.8" cy="251.0" r="1.0" fill="#7d6044"/>
<circle cx="420.4" cy="251.0" r="1.0" fill="#7d6044"/>
<circle cx="415.1" cy="247.2" r="1.0" fill="#7d6044"/>
<circle cx="413.1" cy="241.0" r="1.0" fill="#7d6044"/>
<circle cx="415.1" cy="234.8" r="1.0" fill="#7d6044"/>
<circle cx="420.4" cy="231.0" r="1.0" fill="#7d6044"/>
<circle cx="426.8" cy="231.0" r="1.0" fill="#7d6044"/>
<circle cx="432.1" cy="234.8" r="1.0" fill="#7d6044"/>
<circle cx="429.1" cy="241.0" r="0.9" fill="#7d6044"/>
<circle cx="427.5" cy="244.9" r="0.9" fill="#7d6044"/>
<circle cx="423.6" cy="246.5" r="0.9" fill="#7d6044"/>
<circle cx="419.7" cy="244.9" r="0.9" fill="#7d6044"/>
<circle cx="418.1" cy="241.0" r="0.9" fill="#7d6044"/>
<circle cx="419.7" cy="237.1" r="0.9" fill="#7d6044"/>
<circle cx="423.6" cy="235.5" r="0.9" fill="#7d6044"/>
<circle cx="427.5" cy="237.1" r="0.9" fill="#7d6044"/>
<circle cx="423.6" cy="241.0" r="2.0" fill="#e0d6d8"/>
<circle cx="423.6" cy="273.8" r="16.8" fill="#f3e5cf" stroke="#5a3e26" stroke-width="1.5" stroke-dasharray="1.6 1.1"/>
<circle cx="434.1" cy="273.8" r="1.0" fill="#7d6044"/>
<circle cx="432.1" cy="280.0" r="1.0" fill="#7d6044"/>
<circle cx="426.8" cy="283.8" r="1.0" fill="#7d6044"/>
<circle cx="420.4" cy="283.8" r="1.0" fill="#7d6044"/>
<circle cx="415.1" cy="280.0" r="1.0" fill="#7d6044"/>
<circle cx="413.1" cy="273.8" r="1.0" fill="#7d6044"/>
<circle cx="415.1" cy="267.6" r="1.0" fill="#7d6044"/>
<circle cx="420.4" cy="263.8" r="1.0" fill="#7d6044"/>
<circle cx="426.8" cy="263.8" r="1.0" fill="#7d6044"/>
<circle cx="432.1" cy="267.6" r="1.0" fill="#7d6044"/>
<circle cx="429.1" cy="273.8" r="0.9" fill="#7d6044"/>
<circle cx="427.5" cy="277.7" r="0.9" fill="#7d6044"/>
<circle cx="423.6" cy="279.3" r="0.9" fill="#7d6044"/>
<circle cx="419.7" cy="277.7" r="0.9" fill="#7d6044"/>
<circle cx="418.1" cy="273.8" r="0.9" fill="#7d6044"/>
<circle cx="419.7" cy="269.9" r="0.9" fill="#7d6044"/>
<circle cx="423.6" cy="268.3" r="0.9" fill="#7d6044"/>
<circle cx="427.5" cy="269.9" r="0.9" fill="#7d6044"/>
<circle cx="423.6" cy="273.8" r="2.0" fill="#e0d6d8"/>
<circle cx="423.6" cy="312.5" r="16.6" fill="#ecd09e" stroke="#5a3a1e" stroke-width="1.8" stroke-dasharray="2 1.2"/>
<circle cx="423.6" cy="312.5" r="13.4" fill="none" stroke="#7a5030" stroke-width="1.4" stroke-dasharray="1.6 1.4"/>
<circle cx="423.6" cy="312.5" r="11.2" fill="#ecebf0" stroke="#c89a60" stroke-width="1.0"/>
<circle cx="423.6" cy="346.0" r="16.6" fill="#ecd09e" stroke="#5a3a1e" stroke-width="1.8" stroke-dasharray="2 1.2"/>
<circle cx="423.6" cy="346.0" r="13.4" fill="none" stroke="#7a5030" stroke-width="1.4" stroke-dasharray="1.6 1.4"/>
<circle cx="423.6" cy="346.0" r="11.2" fill="#ecebf0" stroke="#c89a60" stroke-width="1.0"/>
<circle cx="423.6" cy="380.0" r="16.6" fill="#ecd09e" stroke="#5a3a1e" stroke-width="1.8" stroke-dasharray="2 1.2"/>
<circle cx="423.6" cy="380.0" r="13.4" fill="none" stroke="#7a5030" stroke-width="1.4" stroke-dasharray="1.6 1.4"/>
<circle cx="423.6" cy="380.0" r="11.2" fill="#ecebf0" stroke="#c89a60" stroke-width="1.0"/>
<circle cx="423.6" cy="413.8" r="16.6" fill="#ecd09e" stroke="#5a3a1e" stroke-width="1.8" stroke-dasharray="2 1.2"/>
<circle cx="423.6" cy="413.8" r="13.4" fill="none" stroke="#7a5030" stroke-width="1.4" stroke-dasharray="1.6 1.4"/>
<circle cx="423.6" cy="413.8" r="11.2" fill="#ecebf0" stroke="#c89a60" stroke-width="1.0"/>
<path d="M405 430 L405 436 L411 436" fill="none" stroke="#8a6c4e" stroke-width="0.7"/>
<path d="M582 430 L582 436" fill="none" stroke="#8a6c4e" stroke-width="0.7"/>
<path d="M613 163 L607 163 L607 170" fill="none" stroke="#8a6c4e" stroke-width="0.7"/>
<path d="M779 162.2 L784 162.2 L784 168" fill="none" stroke="#8a6c4e" stroke-width="0.7"/>
<line x1="701.5" y1="160.7" x2="767.6" y2="160.7" stroke="#c39a6c" stroke-width="1.4" stroke-dasharray="3 1"/>
<line x1="617.0" y1="157.0" x2="617.0" y2="161.0" stroke="#8a6c4e" stroke-width="0.9"/>
<path d="M616 164.3 L640 164.3 L648.7 172 L648.7 221 L640 229.4 L616 229.4 L608 221 L608 172 Z" fill="none" stroke="#8a6c4e" stroke-width="0.8"/>
<path d="M622 180 L634 180 L641.2 187 L641.2 206 L634 213.1 L622 213.1 L615.6 206 L615.6 187 Z" fill="none" stroke="#8a6c4e" stroke-width="0.7"/>
<rect x="620.3" y="185.2" width="15.1" height="23.3" fill="none" stroke="#8a6c4e" stroke-width="0.6" rx="2"/>
<line x1="627.8" y1="164.3" x2="627.8" y2="180.0" stroke="#927456" stroke-width="0.7"/>
<line x1="627.8" y1="213.0" x2="627.8" y2="229.4" stroke="#927456" stroke-width="0.7"/>
<rect x="623.6" y="169.5" width="1.8" height="4.0" fill="#7d6044" rx="0.6"/>
<rect x="630.8" y="169.5" width="1.8" height="4.0" fill="#7d6044" rx="0.6"/>
<rect x="610.5" y="177.0" width="1.8" height="4.0" fill="#7d6044" rx="0.6"/>
<rect x="644.1" y="177.0" width="1.8" height="4.0" fill="#7d6044" rx="0.6"/>
<rect x="611.0" y="186.1" width="4.0" height="1.8" fill="#7d6044" rx="0.6"/>
<rect x="641.0" y="186.1" width="4.0" height="1.8" fill="#7d6044" rx="0.6"/>
<rect x="610.0" y="206.1" width="4.0" height="1.8" fill="#7d6044" rx="0.6"/>
<rect x="642.0" y="206.1" width="4.0" height="1.8" fill="#7d6044" rx="0.6"/>
<rect x="610.5" y="213.0" width="1.8" height="4.0" fill="#7d6044" rx="0.6"/>
<rect x="644.1" y="213.0" width="1.8" height="4.0" fill="#7d6044" rx="0.6"/>
<rect x="623.6" y="220.0" width="1.8" height="4.0" fill="#7d6044" rx="0.6"/>
<rect x="630.8" y="220.0" width="1.8" height="4.0" fill="#7d6044" rx="0.6"/>
<rect x="623.5" y="188.5" width="3.0" height="3.0" fill="#d4a868"/>
<rect x="623.5" y="199.5" width="3.0" height="3.0" fill="#d4a868"/>
<rect x="609.5" y="195.5" width="3.0" height="3.0" fill="#d4a868"/>
<rect x="643.5" y="195.5" width="3.0" height="3.0" fill="#d4a868"/>
<circle cx="631.0" cy="190.0" r="1.3" fill="#7d6044"/>
<circle cx="631.0" cy="203.0" r="1.3" fill="#7d6044"/>
<line x1="652.2" y1="165.0" x2="652.2" y2="230.0" stroke="#927456" stroke-width="0.7"/>
<path d="M656.3 173 L683.6 173 L683.6 200 L681 215 L683.6 230 L683.6 256 L656.3 256 L656.3 230 L659 215 L656.3 200 Z" fill="none" stroke="#8a6c4e" stroke-width="0.8"/>
<line x1="669.7" y1="173.0" x2="669.7" y2="256.0" stroke="#927456" stroke-width="0.7"/>
<rect x="662.0" y="164.5" width="8.0" height="4.0" fill="#d9ab6c"/>
<path d="M655 166 L705 166 Q712 166 712 172 L712 176" fill="none" stroke="#8a6c4e" stroke-width="0.6"/>
<rect x="660.5" y="174.0" width="7.0" height="2.0" fill="#b8aeb0"/>
<circle cx="667.0" cy="175.0" r="1.1" fill="#5e4632"/>
<rect x="673.5" y="174.0" width="7.0" height="2.0" fill="#b8aeb0"/>
<circle cx="680.0" cy="175.0" r="1.1" fill="#5e4632"/>
<rect x="660.5" y="179.0" width="7.0" height="2.0" fill="#b8aeb0"/>
<circle cx="667.0" cy="180.0" r="1.1" fill="#5e4632"/>
<rect x="673.5" y="179.0" width="7.0" height="2.0" fill="#b8aeb0"/>
<circle cx="680.0" cy="180.0" r="1.1" fill="#5e4632"/>
<rect x="660.5" y="195.0" width="7.0" height="2.0" fill="#b8aeb0"/>
<circle cx="667.0" cy="196.0" r="1.1" fill="#5e4632"/>
<rect x="673.5" y="195.0" width="7.0" height="2.0" fill="#b8aeb0"/>
<circle cx="680.0" cy="196.0" r="1.1" fill="#5e4632"/>
<line x1="659.5" y1="206.5" x2="667.0" y2="204.0" stroke="#5e4632" stroke-width="1.3"/>
<line x1="673.0" y1="206.5" x2="680.5" y2="204.0" stroke="#5e4632" stroke-width="1.3"/>
<line x1="659.5" y1="212.5" x2="667.0" y2="210.0" stroke="#5e4632" stroke-width="1.3"/>
<line x1="673.0" y1="212.5" x2="680.5" y2="210.0" stroke="#5e4632" stroke-width="1.3"/>
<line x1="659.5" y1="219.5" x2="667.0" y2="217.0" stroke="#5e4632" stroke-width="1.3"/>
<line x1="673.0" y1="219.5" x2="680.5" y2="217.0" stroke="#5e4632" stroke-width="1.3"/>
<line x1="659.5" y1="225.5" x2="667.0" y2="223.0" stroke="#5e4632" stroke-width="1.3"/>
<line x1="673.0" y1="225.5" x2="680.5" y2="223.0" stroke="#5e4632" stroke-width="1.3"/>
<rect x="660.5" y="233.3" width="7.0" height="2.0" fill="#b8aeb0"/>
<circle cx="667.0" cy="234.3" r="1.1" fill="#5e4632"/>
<rect x="673.5" y="233.3" width="7.0" height="2.0" fill="#b8aeb0"/>
<circle cx="680.0" cy="234.3" r="1.1" fill="#5e4632"/>
<rect x="660.5" y="240.0" width="7.0" height="2.0" fill="#b8aeb0"/>
<circle cx="667.0" cy="241.0" r="1.1" fill="#5e4632"/>
<rect x="673.5" y="240.0" width="7.0" height="2.0" fill="#b8aeb0"/>
<circle cx="680.0" cy="241.0" r="1.1" fill="#5e4632"/>
<rect x="660.5" y="249.0" width="7.0" height="2.0" fill="#b8aeb0"/>
<circle cx="667.0" cy="250.0" r="1.1" fill="#5e4632"/>
<rect x="673.5" y="249.0" width="7.0" height="2.0" fill="#b8aeb0"/>
<circle cx="680.0" cy="250.0" r="1.1" fill="#5e4632"/>
<rect x="660.5" y="252.0" width="7.0" height="2.0" fill="#b8aeb0"/>
<circle cx="667.0" cy="253.0" r="1.1" fill="#5e4632"/>
<rect x="673.5" y="252.0" width="7.0" height="2.0" fill="#b8aeb0"/>
<circle cx="680.0" cy="253.0" r="1.1" fill="#5e4632"/>
<rect x="663.0" y="236.5" width="2.0" height="3.0" fill="#d4a868"/>
<rect x="676.0" y="236.5" width="2.0" height="3.0" fill="#d4a868"/>
<rect x="663.0" y="244.5" width="2.0" height="3.0" fill="#d4a868"/>
<rect x="676.0" y="244.5" width="2.0" height="3.0" fill="#d4a868"/>
<path d="M686 176 Q690 174 697 175 Q708 175 710.9 184 Q713 175 724 175 Q733 175 735 184 L735 200 Q728 205 735 214 L735 232 Q728 237 735 245 L735 272 Q733 281 723 281 Q713 281 710.9 273 Q708 281 697 281 Q687 281 686 272 L686 245 Q693 237 686 232 L686 214 Q693 205 686 200 Z" fill="none" stroke="#8a6c4e" stroke-width="0.7"/>
<line x1="710.9" y1="176.0" x2="710.9" y2="282.0" stroke="#927456" stroke-width="0.7"/>
<circle cx="698.0" cy="188.0" r="12.0" fill="none" stroke="#8a6c4e" stroke-width="0.6"/>
<path d="M692.6 197.4 A10.8 10.8 0 1 1 706.3 194.9 L702.8 192.0 A6.3 6.3 0 1 0 694.9 193.5 Z" fill="#dcd8e2" stroke="#8a7468" stroke-width="0.6"/>
<circle cx="698.0" cy="188.0" r="1.3" fill="#7a6a60"/>
<circle cx="723.1" cy="188.0" r="12.0" fill="none" stroke="#8a6c4e" stroke-width="0.6"/>
<path d="M714.8 194.9 A10.8 10.8 0 1 1 728.5 197.4 L726.2 193.5 A6.3 6.3 0 1 0 718.3 192.0 Z" fill="#dcd8e2" stroke="#8a7468" stroke-width="0.6"/>
<circle cx="723.1" cy="188.0" r="1.3" fill="#7a6a60"/>
<circle cx="697.2" cy="240.8" r="12.0" fill="none" stroke="#8a6c4e" stroke-width="0.6"/>
<path d="M705.5 233.9 A10.8 10.8 0 1 1 693.5 230.7 L695.0 234.9 A6.3 6.3 0 1 0 702.0 236.8 Z" fill="#dcd8e2" stroke="#8a7468" stroke-width="0.6"/>
<circle cx="697.2" cy="240.8" r="1.3" fill="#7a6a60"/>
<circle cx="723.1" cy="240.8" r="12.0" fill="none" stroke="#8a6c4e" stroke-width="0.6"/>
<path d="M728.5 231.4 A10.8 10.8 0 1 1 716.2 232.5 L719.1 236.0 A6.3 6.3 0 1 0 726.2 235.3 Z" fill="#dcd8e2" stroke="#8a7468" stroke-width="0.6"/>
<circle cx="723.1" cy="240.8" r="1.3" fill="#7a6a60"/>
<circle cx="697.2" cy="267.4" r="12.0" fill="none" stroke="#8a6c4e" stroke-width="0.6"/>
<path d="M704.1 275.7 A10.8 10.8 0 1 1 705.5 260.5 L702.0 263.4 A6.3 6.3 0 1 0 701.2 272.2 Z" fill="#dcd8e2" stroke="#8a7468" stroke-width="0.6"/>
<circle cx="697.2" cy="267.4" r="1.3" fill="#7a6a60"/>
<circle cx="723.1" cy="267.4" r="12.0" fill="none" stroke="#8a6c4e" stroke-width="0.6"/>
<path d="M714.8 260.5 A10.8 10.8 0 1 1 716.2 275.7 L719.1 272.2 A6.3 6.3 0 1 0 718.3 263.4 Z" fill="#dcd8e2" stroke="#8a7468" stroke-width="0.6"/>
<circle cx="723.1" cy="267.4" r="1.3" fill="#7a6a60"/>
<path d="M699.0 209.7 A5 5 0 1 1 691.8 212.3 L694.6 213.3 A2 2 0 1 0 697.5 212.3 Z" fill="#dcd8e2" stroke="#8a7468" stroke-width="0.6"/>
<path d="M735.3 214.0 A5 5 0 1 1 734.1 210.8 L732.0 212.6 A2.2 2.2 0 1 0 732.5 214.0 Z" fill="#dcd8e2" stroke="#8a7468" stroke-width="0.6"/>
<rect x="704.4" y="203.6" width="13.0" height="2.2" fill="#b8aeb0"/>
<circle cx="717.4" cy="204.6" r="1.2" fill="#5e4632"/>
<rect x="704.4" y="223.7" width="13.0" height="2.2" fill="#b8aeb0"/>
<circle cx="717.4" cy="224.7" r="1.2" fill="#5e4632"/>
<rect x="702.5" y="212.0" width="3.0" height="4.0" fill="#d4a868"/>
<rect x="715.5" y="212.0" width="3.0" height="4.0" fill="#d4a868"/>
<rect x="736.5" y="224.0" width="3.0" height="4.0" fill="#d4a868"/>
<rect x="702.5" y="252.0" width="3.0" height="4.0" fill="#d4a868"/>
<rect x="715.5" y="252.0" width="3.0" height="4.0" fill="#d4a868"/>
<rect x="737.5" y="162.5" width="46.0" height="117.0" fill="none" stroke="#8a6c4e" stroke-width="0.8"/>
<line x1="760.8" y1="185.0" x2="760.8" y2="274.0" stroke="#6e5a5a" stroke-width="1.2"/>
<line x1="760.0" y1="163.0" x2="760.0" y2="183.0" stroke="#8a6c4e" stroke-width="0.6"/>
<rect x="740.3" y="163.6" width="18.7" height="3.0" fill="#d6a462"/>
<rect x="761.9" y="168.6" width="19.4" height="3.0" fill="#d6a462"/>
<ellipse cx="749.7" cy="173" rx="5.5" ry="2.2" fill="#c98e48"/>
<ellipse cx="772" cy="178" rx="5.5" ry="2.2" fill="#c98e48"/>
<line x1="739.0" y1="183.7" x2="783.0" y2="183.7" stroke="#a88a6a" stroke-width="0.6"/>
<line x1="739.0" y1="188.0" x2="783.0" y2="188.0" stroke="#a88a6a" stroke-width="0.6"/>
<line x1="739.0" y1="193.0" x2="783.0" y2="193.0" stroke="#a88a6a" stroke-width="0.6"/>
<line x1="739.0" y1="198.0" x2="783.0" y2="198.0" stroke="#a88a6a" stroke-width="0.6"/>
<line x1="739.0" y1="203.9" x2="783.0" y2="203.9" stroke="#a88a6a" stroke-width="0.6"/>
<line x1="739.0" y1="208.9" x2="783.0" y2="208.9" stroke="#a88a6a" stroke-width="0.6"/>
<line x1="739.0" y1="213.0" x2="783.0" y2="213.0" stroke="#a88a6a" stroke-width="0.6"/>
<line x1="739.0" y1="248.0" x2="783.0" y2="248.0" stroke="#a88a6a" stroke-width="0.6"/>
<line x1="739.0" y1="252.3" x2="783.0" y2="252.3" stroke="#a88a6a" stroke-width="0.6"/>
<line x1="739.0" y1="255.9" x2="783.0" y2="255.9" stroke="#a88a6a" stroke-width="0.6"/>
<line x1="739.0" y1="260.2" x2="783.0" y2="260.2" stroke="#a88a6a" stroke-width="0.6"/>
<line x1="739.0" y1="264.5" x2="783.0" y2="264.5" stroke="#a88a6a" stroke-width="0.6"/>
<line x1="739.0" y1="268.8" x2="783.0" y2="268.8" stroke="#a88a6a" stroke-width="0.6"/>
<line x1="739.0" y1="273.9" x2="783.0" y2="273.9" stroke="#a88a6a" stroke-width="0.6"/>
<line x1="739.0" y1="279.6" x2="783.0" y2="279.6" stroke="#a88a6a" stroke-width="0.6"/>
<line x1="739.0" y1="283.9" x2="783.0" y2="283.9" stroke="#a88a6a" stroke-width="0.6"/>
<rect x="739.0" y="203.9" width="44.0" height="3.0" fill="#ecd6b6" stroke="#a08060" stroke-width="0.5"/>
<rect x="739.0" y="258.0" width="44.0" height="3.0" fill="#ecd6b6" stroke="#a08060" stroke-width="0.5"/>
<line x1="739.5" y1="213.0" x2="739.5" y2="248.0" stroke="#8a6c4e" stroke-width="0.6"/>
<line x1="780.5" y1="213.0" x2="780.5" y2="248.0" stroke="#8a6c4e" stroke-width="0.6"/>
<rect x="737.5" y="285.5" width="46.0" height="76.5" fill="none" stroke="#8a6c4e" stroke-width="0.8"/>
<line x1="738.5" y1="288.0" x2="782.5" y2="288.0" stroke="#b89472" stroke-width="0.6"/>
<line x1="738.5" y1="292.0" x2="782.5" y2="292.0" stroke="#b89472" stroke-width="0.6"/>
<line x1="738.5" y1="296.0" x2="782.5" y2="296.0" stroke="#b89472" stroke-width="0.6"/>
<line x1="738.5" y1="300.0" x2="782.5" y2="300.0" stroke="#b89472" stroke-width="0.6"/>
<line x1="738.5" y1="304.0" x2="782.5" y2="304.0" stroke="#b89472" stroke-width="0.6"/>
<line x1="738.5" y1="308.0" x2="782.5" y2="308.0" stroke="#b89472" stroke-width="0.6"/>
<line x1="738.5" y1="312.0" x2="782.5" y2="312.0" stroke="#b89472" stroke-width="0.6"/>
<line x1="738.5" y1="316.0" x2="782.5" y2="316.0" stroke="#b89472" stroke-width="0.6"/>
<line x1="738.5" y1="320.0" x2="782.5" y2="320.0" stroke="#b89472" stroke-width="0.6"/>
<line x1="738.5" y1="324.0" x2="782.5" y2="324.0" stroke="#b89472" stroke-width="0.6"/>
<line x1="738.5" y1="328.0" x2="782.5" y2="328.0" stroke="#b89472" stroke-width="0.6"/>
<line x1="738.5" y1="332.0" x2="782.5" y2="332.0" stroke="#b89472" stroke-width="0.6"/>
<line x1="738.5" y1="336.0" x2="782.5" y2="336.0" stroke="#b89472" stroke-width="0.6"/>
<line x1="738.5" y1="340.0" x2="782.5" y2="340.0" stroke="#b89472" stroke-width="0.6"/>
<line x1="738.5" y1="344.0" x2="782.5" y2="344.0" stroke="#b89472" stroke-width="0.6"/>
<line x1="738.5" y1="348.0" x2="782.5" y2="348.0" stroke="#b89472" stroke-width="0.6"/>
<line x1="738.5" y1="352.0" x2="782.5" y2="352.0" stroke="#b89472" stroke-width="0.6"/>
<line x1="738.5" y1="356.0" x2="782.5" y2="356.0" stroke="#b89472" stroke-width="0.6"/>
<line x1="738.5" y1="360.0" x2="782.5" y2="360.0" stroke="#b89472" stroke-width="0.6"/>
<rect x="747.5" y="285.3" width="5.1" height="76.0" fill="#d9a660"/>
<rect x="764.0" y="285.3" width="5.0" height="76.0" fill="#d9a660"/>
<line x1="737.5" y1="323.0" x2="783.5" y2="323.0" stroke="#8a6c4e" stroke-width="0.8"/>
<path d="M705 287 L729 287 L729 312 Q729 317 724 317 L710 317 Q705 317 705 312 Z" fill="#ecebf0" stroke="#9c8466" stroke-width="0.7"/>
<path d="M703 286 L710 286 L703 293 Z" fill="#c8963e"/>
<path d="M731 286 L724 286 L731 293 Z" fill="#c8963e"/>
<path d="M703 318 L709 318 L703 312 Z" fill="#c8963e"/>
<path d="M731 318 L725 318 L731 312 Z" fill="#c8963e"/>
<path d="M692.5 340 Q692.5 335 698 335 L712.5 335 Q718 335 718 340 Q718 352.5 705.3 352.5 Q692.5 352.5 692.5 340 Z" fill="#c8965a" stroke="#5e3e20" stroke-width="1.0"/>
<ellipse cx="698.5" cy="342" rx="3" ry="3.8" fill="#a07a60"/>
<ellipse cx="712" cy="342" rx="3" ry="3.8" fill="#a07a60"/>
<circle cx="705.3" cy="343.0" r="3.6" fill="#ece4e4" stroke="#e8c898" stroke-width="1"/>
<path d="M697 335 L700 326 L703 335 M708 335 L711 326 L714 335" fill="none" stroke="#8a6c4e" stroke-width="0.6"/>
<rect x="689.7" y="355.6" width="13.5" height="26.4" fill="#e6c48e" stroke="#6e4e30" stroke-width="0.7"/>
<line x1="696.6" y1="355.6" x2="696.6" y2="382.0" stroke="#6e4e30" stroke-width="0.6"/>
<line x1="697.2" y1="360.6" x2="702.6" y2="356.6" stroke="#7a5028" stroke-width="1.3"/>
<line x1="697.2" y1="364.6" x2="702.6" y2="360.6" stroke="#7a5028" stroke-width="1.3"/>
<line x1="697.2" y1="368.6" x2="702.6" y2="364.6" stroke="#7a5028" stroke-width="1.3"/>
<line x1="697.2" y1="372.6" x2="702.6" y2="368.6" stroke="#7a5028" stroke-width="1.3"/>
<line x1="697.2" y1="376.6" x2="702.6" y2="372.6" stroke="#7a5028" stroke-width="1.3"/>
<line x1="697.2" y1="380.6" x2="702.6" y2="376.6" stroke="#7a5028" stroke-width="1.3"/>
<rect x="690.6" y="357.1" width="5.0" height="3.0" fill="#9a6a38"/>
<rect x="690.6" y="362.1" width="5.0" height="3.0" fill="#9a6a38"/>
<rect x="690.6" y="367.1" width="5.0" height="3.0" fill="#9a6a38"/>
<rect x="690.6" y="372.1" width="5.0" height="3.0" fill="#9a6a38"/>
<rect x="690.6" y="377.1" width="5.0" height="3.0" fill="#9a6a38"/>
<rect x="689.7" y="408.0" width="13.5" height="24.6" fill="#e6c48e" stroke="#6e4e30" stroke-width="0.7"/>
<line x1="696.6" y1="408.0" x2="696.6" y2="432.6" stroke="#6e4e30" stroke-width="0.6"/>
<line x1="697.2" y1="413.0" x2="702.6" y2="409.0" stroke="#7a5028" stroke-width="1.3"/>
<line x1="697.2" y1="417.0" x2="702.6" y2="413.0" stroke="#7a5028" stroke-width="1.3"/>
<line x1="697.2" y1="421.0" x2="702.6" y2="417.0" stroke="#7a5028" stroke-width="1.3"/>
<line x1="697.2" y1="425.0" x2="702.6" y2="421.0" stroke="#7a5028" stroke-width="1.3"/>
<line x1="697.2" y1="429.0" x2="702.6" y2="425.0" stroke="#7a5028" stroke-width="1.3"/>
<line x1="697.2" y1="433.0" x2="702.6" y2="429.0" stroke="#7a5028" stroke-width="1.3"/>
<rect x="690.6" y="409.5" width="5.0" height="3.0" fill="#9a6a38"/>
<rect x="690.6" y="414.5" width="5.0" height="3.0" fill="#9a6a38"/>
<rect x="690.6" y="419.5" width="5.0" height="3.0" fill="#9a6a38"/>
<rect x="690.6" y="424.5" width="5.0" height="3.0" fill="#9a6a38"/>
<rect x="689.0" y="386.0" width="15.0" height="16.0" fill="none" stroke="#8a6c4e" stroke-width="0.7"/>
<rect x="692.0" y="389.0" width="8.0" height="9.0" fill="#ecebf0" stroke="#9c8466" stroke-width="0.7" rx="2"/>
<rect x="704.0" y="355.0" width="7.0" height="78.0" fill="none" stroke="#8a6c4e" stroke-width="0.6"/>
<line x1="704.0" y1="357.0" x2="707.0" y2="357.0" stroke="#a08060" stroke-width="0.5"/>
<line x1="704.0" y1="361.0" x2="707.0" y2="361.0" stroke="#a08060" stroke-width="0.5"/>
<line x1="704.0" y1="365.0" x2="707.0" y2="365.0" stroke="#a08060" stroke-width="0.5"/>
<line x1="704.0" y1="369.0" x2="707.0" y2="369.0" stroke="#a08060" stroke-width="0.5"/>
<line x1="704.0" y1="373.0" x2="707.0" y2="373.0" stroke="#a08060" stroke-width="0.5"/>
<line x1="704.0" y1="377.0" x2="707.0" y2="377.0" stroke="#a08060" stroke-width="0.5"/>
<line x1="704.0" y1="381.0" x2="707.0" y2="381.0" stroke="#a08060" stroke-width="0.5"/>
<line x1="704.0" y1="385.0" x2="707.0" y2="385.0" stroke="#a08060" stroke-width="0.5"/>
<line x1="704.0" y1="389.0" x2="707.0" y2="389.0" stroke="#a08060" stroke-width="0.5"/>
<line x1="704.0" y1="393.0" x2="707.0" y2="393.0" stroke="#a08060" stroke-width="0.5"/>
<line x1="704.0" y1="397.0" x2="707.0" y2="397.0" stroke="#a08060" stroke-width="0.5"/>
<line x1="704.0" y1="401.0" x2="707.0" y2="401.0" stroke="#a08060" stroke-width="0.5"/>
<line x1="704.0" y1="405.0" x2="707.0" y2="405.0" stroke="#a08060" stroke-width="0.5"/>
<line x1="704.0" y1="409.0" x2="707.0" y2="409.0" stroke="#a08060" stroke-width="0.5"/>
<line x1="704.0" y1="413.0" x2="707.0" y2="413.0" stroke="#a08060" stroke-width="0.5"/>
<line x1="704.0" y1="417.0" x2="707.0" y2="417.0" stroke="#a08060" stroke-width="0.5"/>
<line x1="704.0" y1="421.0" x2="707.0" y2="421.0" stroke="#a08060" stroke-width="0.5"/>
<line x1="704.0" y1="425.0" x2="707.0" y2="425.0" stroke="#a08060" stroke-width="0.5"/>
<line x1="704.0" y1="429.0" x2="707.0" y2="429.0" stroke="#a08060" stroke-width="0.5"/>
<rect x="720.8" y="373.7" width="32.2" height="20.3" fill="#d9b888" stroke="#7a5a3a" stroke-width="0.7"/>
<line x1="722.5" y1="374.5" x2="722.5" y2="393.2" stroke="#9a7448" stroke-width="0.8" stroke-dasharray="1 1.2"/>
<line x1="724.7" y1="374.5" x2="724.7" y2="393.2" stroke="#9a7448" stroke-width="0.8" stroke-dasharray="1 1.2"/>
<line x1="726.9" y1="374.5" x2="726.9" y2="393.2" stroke="#9a7448" stroke-width="0.8" stroke-dasharray="1 1.2"/>
<line x1="729.1" y1="374.5" x2="729.1" y2="393.2" stroke="#9a7448" stroke-width="0.8" stroke-dasharray="1 1.2"/>
<line x1="731.3" y1="374.5" x2="731.3" y2="393.2" stroke="#9a7448" stroke-width="0.8" stroke-dasharray="1 1.2"/>
<line x1="733.5" y1="374.5" x2="733.5" y2="393.2" stroke="#9a7448" stroke-width="0.8" stroke-dasharray="1 1.2"/>
<line x1="735.7" y1="374.5" x2="735.7" y2="393.2" stroke="#9a7448" stroke-width="0.8" stroke-dasharray="1 1.2"/>
<line x1="737.9" y1="374.5" x2="737.9" y2="393.2" stroke="#9a7448" stroke-width="0.8" stroke-dasharray="1 1.2"/>
<line x1="740.1" y1="374.5" x2="740.1" y2="393.2" stroke="#9a7448" stroke-width="0.8" stroke-dasharray="1 1.2"/>
<line x1="742.3" y1="374.5" x2="742.3" y2="393.2" stroke="#9a7448" stroke-width="0.8" stroke-dasharray="1 1.2"/>
<line x1="744.5" y1="374.5" x2="744.5" y2="393.2" stroke="#9a7448" stroke-width="0.8" stroke-dasharray="1 1.2"/>
<line x1="746.7" y1="374.5" x2="746.7" y2="393.2" stroke="#9a7448" stroke-width="0.8" stroke-dasharray="1 1.2"/>
<line x1="748.9" y1="374.5" x2="748.9" y2="393.2" stroke="#9a7448" stroke-width="0.8" stroke-dasharray="1 1.2"/>
<line x1="751.1" y1="374.5" x2="751.1" y2="393.2" stroke="#9a7448" stroke-width="0.8" stroke-dasharray="1 1.2"/>
<rect x="720.0" y="396.0" width="32.0" height="18.0" fill="none" stroke="#8a6c4e" stroke-width="0.7"/>
<rect x="720.0" y="416.0" width="32.0" height="17.0" fill="none" stroke="#8a6c4e" stroke-width="0.7"/>
<line x1="721.0" y1="419.0" x2="751.0" y2="419.0" stroke="#c0a07c" stroke-width="0.4"/>
<line x1="721.0" y1="421.0" x2="751.0" y2="421.0" stroke="#c0a07c" stroke-width="0.4"/>
<line x1="721.0" y1="423.0" x2="751.0" y2="423.0" stroke="#c0a07c" stroke-width="0.4"/>
<line x1="721.0" y1="425.0" x2="751.0" y2="425.0" stroke="#c0a07c" stroke-width="0.4"/>
<line x1="721.0" y1="427.0" x2="751.0" y2="427.0" stroke="#c0a07c" stroke-width="0.4"/>
<line x1="721.0" y1="429.0" x2="751.0" y2="429.0" stroke="#c0a07c" stroke-width="0.4"/>
<line x1="721.0" y1="431.0" x2="751.0" y2="431.0" stroke="#c0a07c" stroke-width="0.4"/>
<circle cx="741.0" cy="407.0" r="1.3" fill="#7d6044"/>
<circle cx="741.0" cy="426.0" r="1.3" fill="#7d6044"/>
<text x="724" y="405" font-family="Liberation Sans" font-size="2.8" font-weight="bold" fill="#b08050" text-anchor="start">A29</text>
<text x="724" y="424" font-family="Liberation Sans" font-size="2.8" font-weight="bold" fill="#b08050" text-anchor="start">A29</text>
<circle cx="769.0" cy="394.0" r="12.0" fill="#f1e1c8" stroke="#8a6c4e" stroke-width="0.8"/>
<path d="M779.3 397.8 A11 11 0 1 1 774.5 384.5 L772.0 388.8 A6 6 0 1 0 774.6 396.1 Z" fill="#dcd8e2" stroke="#8a7468" stroke-width="0.6"/>
<circle cx="769.0" cy="394.0" r="1.5" fill="#6a5040"/>
<circle cx="769.0" cy="418.8" r="12.0" fill="#f1e1c8" stroke="#8a6c4e" stroke-width="0.8"/>
<path d="M761.9 427.2 A11 11 0 1 1 774.5 428.3 L772.0 424.0 A6 6 0 1 0 765.1 423.4 Z" fill="#dcd8e2" stroke="#8a7468" stroke-width="0.6"/>
<circle cx="769.0" cy="418.8" r="1.5" fill="#6a5040"/>
<path d="M692 362 L700 362 L700 350" fill="none" stroke="#8a6c4e" stroke-width="0.6"/>
<path d="M719 330 L727 330 L727 352 L725 360 L727 366 L719 366 Z" fill="none" stroke="#8a6c4e" stroke-width="0.6"/>
<path d="M735 366 Q740 363 745 366 L780 366 Q786 368 780 371 L745 371 Q740 374 735 371 Z" fill="none" stroke="#8a6c4e" stroke-width="0.6"/>
<path d="M614.4 230 L617 245 L621 258.7 L617 272 L614.4 300 L611.8 272 L607.5 258.7 L611.8 245 Z" fill="none" stroke="#8a6c4e" stroke-width="0.6"/>
<path d="M626 240 L629 262 L633 278.5 L629 292 L626 316 L623 292 L619 278.5 L623 262 Z" fill="none" stroke="#8a6c4e" stroke-width="0.6"/>
<rect x="613.4" y="257.9" width="2.0" height="2.2" fill="#7d6044" rx="0.6"/>
<rect x="613.4" y="267.9" width="2.0" height="2.2" fill="#7d6044" rx="0.6"/>
<rect x="625.0" y="277.9" width="2.0" height="2.2" fill="#7d6044" rx="0.6"/>
<rect x="625.0" y="285.9" width="2.0" height="2.2" fill="#7d6044" rx="0.6"/>
<rect x="638.3" y="227.3" width="15.7" height="11.7" fill="#e2c08e" stroke="#8a6a48" stroke-width="0.6"/>
<line x1="640.1" y1="228.3" x2="640.1" y2="238.0" stroke="#8a6238" stroke-width="0.8"/>
<line x1="642.3" y1="228.3" x2="642.3" y2="238.0" stroke="#8a6238" stroke-width="0.8"/>
<line x1="644.5" y1="228.3" x2="644.5" y2="238.0" stroke="#8a6238" stroke-width="0.8"/>
<line x1="646.7" y1="228.3" x2="646.7" y2="238.0" stroke="#8a6238" stroke-width="0.8"/>
<line x1="648.9" y1="228.3" x2="648.9" y2="238.0" stroke="#8a6238" stroke-width="0.8"/>
<line x1="651.1" y1="228.3" x2="651.1" y2="238.0" stroke="#8a6238" stroke-width="0.8"/>
<rect x="638.3" y="247.7" width="15.7" height="13.3" fill="#e2c08e" stroke="#8a6a48" stroke-width="0.6"/>
<line x1="640.1" y1="248.7" x2="640.1" y2="260.0" stroke="#8a6238" stroke-width="0.8"/>
<line x1="642.3" y1="248.7" x2="642.3" y2="260.0" stroke="#8a6238" stroke-width="0.8"/>
<line x1="644.5" y1="248.7" x2="644.5" y2="260.0" stroke="#8a6238" stroke-width="0.8"/>
<line x1="646.7" y1="248.7" x2="646.7" y2="260.0" stroke="#8a6238" stroke-width="0.8"/>
<line x1="648.9" y1="248.7" x2="648.9" y2="260.0" stroke="#8a6238" stroke-width="0.8"/>
<line x1="651.1" y1="248.7" x2="651.1" y2="260.0" stroke="#8a6238" stroke-width="0.8"/>
<rect x="606.9" y="300.0" width="12.1" height="15.1" fill="#e2c08e" stroke="#8a6a48" stroke-width="0.6"/>
<line x1="608.7" y1="301.0" x2="608.7" y2="314.1" stroke="#8a6238" stroke-width="0.8"/>
<line x1="610.9" y1="301.0" x2="610.9" y2="314.1" stroke="#8a6238" stroke-width="0.8"/>
<line x1="613.1" y1="301.0" x2="613.1" y2="314.1" stroke="#8a6238" stroke-width="0.8"/>
<line x1="615.3" y1="301.0" x2="615.3" y2="314.1" stroke="#8a6238" stroke-width="0.8"/>
<line x1="617.5" y1="301.0" x2="617.5" y2="314.1" stroke="#8a6238" stroke-width="0.8"/>
<rect x="622.0" y="321.5" width="13.4" height="13.4" fill="#e2c08e" stroke="#8a6a48" stroke-width="0.6"/>
<line x1="623.8" y1="322.5" x2="623.8" y2="333.9" stroke="#8a6238" stroke-width="0.8"/>
<line x1="626.0" y1="322.5" x2="626.0" y2="333.9" stroke="#8a6238" stroke-width="0.8"/>
<line x1="628.2" y1="322.5" x2="628.2" y2="333.9" stroke="#8a6238" stroke-width="0.8"/>
<line x1="630.4" y1="322.5" x2="630.4" y2="333.9" stroke="#8a6238" stroke-width="0.8"/>
<line x1="632.6" y1="322.5" x2="632.6" y2="333.9" stroke="#8a6238" stroke-width="0.8"/>
<rect x="641.0" y="240.0" width="10.0" height="7.5" fill="none" stroke="#8a6c4e" stroke-width="0.6"/>
<path d="M635.4 264.5 L657.5 264.5 L657.5 305 L650.5 305 L650.5 380 L635.4 380 Z" fill="none" stroke="#8a6c4e" stroke-width="0.7"/>
<path d="M650.5 310.5 L668 310.5 L668 440 M650.5 356 L668 356" fill="none" stroke="#8a6c4e" stroke-width="0.7"/>
<path d="M655 314 L664 314 L664 350 L655 350 Z" fill="none" stroke="#8a6c4e" stroke-width="0.5"/>
<path d="M655 360 L664 360 L664 386 L655 386 Z" fill="none" stroke="#8a6c4e" stroke-width="0.5"/>
<circle cx="659.2" cy="362.2" r="3.0" fill="#d8d4e0"/>
<path d="M659 265 L675 265 L675 305 L659 305" fill="none" stroke="#8a6c4e" stroke-width="0.6"/>
<path d="M660 385 L660 425 L668 425 L668 430 L676 430 L676 385" fill="none" stroke="#8a6c4e" stroke-width="0.6"/>
<path d="M678 300 L690 300 L690 330 L698 340 L690 350 L690 400 L684 410 L690 420 L690 430" fill="none" stroke="#8a6c4e" stroke-width="0.6"/>
<rect x="637.0" y="261.8" width="2.0" height="2.4" fill="#7d6044" rx="0.6"/>
<rect x="651.0" y="261.8" width="2.0" height="2.4" fill="#7d6044" rx="0.6"/>
<rect x="656.0" y="279.8" width="2.0" height="2.4" fill="#7d6044" rx="0.6"/>
<rect x="662.0" y="279.8" width="2.0" height="2.4" fill="#7d6044" rx="0.6"/>
<rect x="647.0" y="317.8" width="2.0" height="2.4" fill="#7d6044" rx="0.6"/>
<rect x="654.0" y="317.8" width="2.0" height="2.4" fill="#7d6044" rx="0.6"/>
<rect x="645.0" y="334.8" width="2.0" height="2.4" fill="#7d6044" rx="0.6"/>
<rect x="669.0" y="334.8" width="2.0" height="2.4" fill="#7d6044" rx="0.6"/>
<rect x="668.0" y="307.8" width="2.0" height="2.4" fill="#7d6044" rx="0.6"/>
<rect x="689.0" y="307.8" width="2.0" height="2.4" fill="#7d6044" rx="0.6"/>
<rect x="681.0" y="342.8" width="2.0" height="2.4" fill="#7d6044" rx="0.6"/>
<rect x="654.0" y="355.8" width="2.0" height="2.4" fill="#7d6044" rx="0.6"/>
<rect x="654.0" y="370.8" width="2.0" height="2.4" fill="#7d6044" rx="0.6"/>
<rect x="672.0" y="370.8" width="2.0" height="2.4" fill="#7d6044" rx="0.6"/>
<rect x="644.0" y="385.8" width="2.0" height="2.4" fill="#7d6044" rx="0.6"/>
<rect x="677.0" y="383.8" width="2.0" height="2.4" fill="#7d6044" rx="0.6"/>
<rect x="684.0" y="400.8" width="2.0" height="2.4" fill="#7d6044" rx="0.6"/>
<rect x="644.0" y="413.8" width="2.0" height="2.4" fill="#7d6044" rx="0.6"/>
<rect x="640.7" y="280.7" width="2.6" height="2.6" fill="#d4a868"/>
<rect x="646.7" y="293.7" width="2.6" height="2.6" fill="#d4a868"/>
<rect x="659.7" y="286.7" width="2.6" height="2.6" fill="#d4a868"/>
<rect x="641.7" y="358.7" width="2.6" height="2.6" fill="#d4a868"/>
<rect x="658.7" y="369.7" width="2.6" height="2.6" fill="#d4a868"/>
<rect x="680.7" y="407.7" width="2.6" height="2.6" fill="#d4a868"/>
<rect x="627.0" y="349.0" width="5.0" height="6.0" fill="#ecebf0" stroke="#9c8466" stroke-width="0.7" rx="0.5"/>
<rect x="647.0" y="316.5" width="2.0" height="3.0" fill="#7d6044" rx="0.6"/>
<rect x="669.0" y="316.5" width="2.0" height="3.0" fill="#7d6044" rx="0.6"/>
<rect x="647.0" y="333.5" width="2.0" height="3.0" fill="#7d6044" rx="0.6"/>
<rect x="669.0" y="333.5" width="2.0" height="3.0" fill="#7d6044" rx="0.6"/>
<rect x="647.0" y="355.5" width="2.0" height="3.0" fill="#7d6044" rx="0.6"/>
<rect x="669.0" y="355.5" width="2.0" height="3.0" fill="#7d6044" rx="0.6"/>
<rect x="647.0" y="378.5" width="2.0" height="3.0" fill="#7d6044" rx="0.6"/>
<rect x="669.0" y="378.5" width="2.0" height="3.0" fill="#7d6044" rx="0.6"/>
<rect x="647.0" y="408.5" width="2.0" height="3.0" fill="#7d6044" rx="0.6"/>
<rect x="669.0" y="408.5" width="2.0" height="3.0" fill="#7d6044" rx="0.6"/>
<rect x="647.0" y="428.5" width="2.0" height="3.0" fill="#7d6044" rx="0.6"/>
<rect x="669.0" y="428.5" width="2.0" height="3.0" fill="#7d6044" rx="0.6"/>
<rect x="653.9" y="328.7" width="2.2" height="2.6" fill="#7d6044" rx="0.6"/>
<rect x="660.9" y="328.7" width="2.2" height="2.6" fill="#7d6044" rx="0.6"/>
<rect x="653.9" y="393.7" width="2.2" height="2.6" fill="#7d6044" rx="0.6"/>
<rect x="660.9" y="393.7" width="2.2" height="2.6" fill="#7d6044" rx="0.6"/>
<rect x="639.9" y="298.7" width="2.2" height="2.6" fill="#7d6044" rx="0.6"/>
<rect x="643.9" y="348.7" width="2.2" height="2.6" fill="#7d6044" rx="0.6"/>
<rect x="643.9" y="398.7" width="2.2" height="2.6" fill="#7d6044" rx="0.6"/>
<rect x="674.9" y="318.7" width="2.2" height="2.6" fill="#7d6044" rx="0.6"/>
<rect x="674.9" y="358.7" width="2.2" height="2.6" fill="#7d6044" rx="0.6"/>
<rect x="682.9" y="428.7" width="2.2" height="2.6" fill="#7d6044" rx="0.6"/>
<rect x="638.0" y="349.0" width="4.0" height="9.0" fill="#ecebf0" stroke="#9c8466" stroke-width="0.7" rx="1.5"/>
<circle cx="613.9" cy="327.3" r="7.0" fill="#f1e1c8" stroke="#6e4e30" stroke-width="1.2" stroke-dasharray="1.1 0.9"/>
<circle cx="613.9" cy="327.3" r="1.6" fill="#8a7a74"/>
<circle cx="613.9" cy="341.3" r="7.0" fill="#f1e1c8" stroke="#6e4e30" stroke-width="1.2" stroke-dasharray="1.1 0.9"/>
<circle cx="613.9" cy="341.3" r="1.6" fill="#8a7a74"/>
<circle cx="613.9" cy="355.8" r="7.0" fill="#f1e1c8" stroke="#6e4e30" stroke-width="1.2" stroke-dasharray="1.1 0.9"/>
<circle cx="613.9" cy="355.8" r="1.6" fill="#8a7a74"/>
<circle cx="613.9" cy="370.9" r="7.0" fill="#f1e1c8" stroke="#6e4e30" stroke-width="1.2" stroke-dasharray="1.1 0.9"/>
<circle cx="613.9" cy="370.9" r="1.6" fill="#8a7a74"/>
<circle cx="611.5" cy="384.5" r="5.0" fill="#f4e4cc" stroke="#8a6c4e" stroke-width="0.8"/>
<rect x="610.0" y="383.0" width="3.0" height="3.0" fill="#9a8a80"/>
<circle cx="611.5" cy="394.4" r="5.0" fill="#f4e4cc" stroke="#8a6c4e" stroke-width="0.8"/>
<rect x="610.0" y="392.9" width="3.0" height="3.0" fill="#9a8a80"/>
<circle cx="611.5" cy="407.2" r="4.0" fill="#f4e4cc" stroke="#8a6c4e" stroke-width="0.8"/>
<rect x="610.0" y="405.7" width="3.0" height="3.0" fill="#9a8a80"/>
<circle cx="611.5" cy="416.0" r="4.0" fill="#f4e4cc" stroke="#8a6c4e" stroke-width="0.8"/>
<rect x="610.0" y="414.5" width="3.0" height="3.0" fill="#9a8a80"/>
<circle cx="611.5" cy="423.5" r="4.0" fill="#f4e4cc" stroke="#8a6c4e" stroke-width="0.8"/>
<rect x="610.0" y="422.0" width="3.0" height="3.0" fill="#9a8a80"/>
<circle cx="622.6" cy="406.0" r="5.0" fill="#f4e4cc" stroke="#8a6c4e" stroke-width="0.8"/>
<rect x="621.1" y="404.2" width="3.0" height="3.6" fill="#9a8070"/>
<circle cx="633.6" cy="406.0" r="5.0" fill="#f4e4cc" stroke="#8a6c4e" stroke-width="0.8"/>
<rect x="632.1" y="404.2" width="3.0" height="3.6" fill="#9a8070"/>
<circle cx="620.8" cy="422.3" r="4.2" fill="#f6e8d4" stroke="#7a5a3c" stroke-width="0.9"/>
<circle cx="620.8" cy="422.3" r="1.3" fill="#4e3a28"/>
<circle cx="628.4" cy="422.3" r="4.2" fill="#f6e8d4" stroke="#7a5a3c" stroke-width="0.9"/>
<circle cx="628.4" cy="422.3" r="1.3" fill="#4e3a28"/>
<circle cx="620.8" cy="429.9" r="4.2" fill="#f6e8d4" stroke="#7a5a3c" stroke-width="0.9"/>
<circle cx="620.8" cy="429.9" r="1.3" fill="#4e3a28"/>
<circle cx="628.4" cy="429.9" r="4.2" fill="#f6e8d4" stroke="#7a5a3c" stroke-width="0.9"/>
<circle cx="628.4" cy="429.9" r="1.3" fill="#4e3a28"/>
<line x1="626.0" y1="300.0" x2="626.0" y2="380.0" stroke="#5e4632" stroke-width="0.9"/>
<line x1="628.0" y1="380.0" x2="628.0" y2="395.0" stroke="#5e4632" stroke-width="0.9"/>
<path d="M782 430 L782 436 L776 436" fill="none" stroke="#8a6c4e" stroke-width="0.7"/>
<path d="M215 455.6 L208.5 455.6 L208.5 461.5" fill="none" stroke="#8a6c4e" stroke-width="0.8"/>
<line x1="203.0" y1="479.0" x2="206.0" y2="479.0" stroke="#8a6c4e" stroke-width="0.6"/>
<path d="M220 455.6 L250 455.6 L251.3 459.3 L250 463.1 L220 463.1 L218.8 459.3 Z" fill="none" stroke="#8a6c4e" stroke-width="0.8"/>
<rect x="223.0" y="457.5" width="24.0" height="3.5" fill="#bcb2b2" stroke="#7a6654" stroke-width="0.5" rx="0.8"/>
<rect x="222.8" y="458.0" width="2.4" height="2.6" fill="#6e5440" rx="0.6"/>
<path d="M215.6 466.3 L262.5 466.3 L262.5 512.5 L215.6 512.5 L215.6 503 Q209 503 209 498 Q209 493 215.6 493 L215.6 476 Q209 476 209 471 Q209 468 215.6 468 Z" fill="none" stroke="#8a6c4e" stroke-width="0.9"/>
<rect x="242.0" y="468.8" width="5.0" height="2.7" fill="#bcb2b2" stroke="#7a6654" stroke-width="0.5" rx="0.8"/>
<rect x="256.2" y="473.0" width="2.4" height="6.0" fill="#bcb2b2" stroke="#7a6654" stroke-width="0.5" rx="0.8"/>
<rect x="217.8" y="486.0" width="2.4" height="6.0" fill="#bcb2b2" stroke="#7a6654" stroke-width="0.5" rx="0.8"/>
<rect x="229.4" y="486.5" width="2.2" height="5.0" fill="#bcb2b2" stroke="#7a6654" stroke-width="0.5" rx="0.8"/>
<rect x="242.0" y="482.8" width="5.0" height="2.7" fill="#bcb2b2" stroke="#7a6654" stroke-width="0.5" rx="0.8"/>
<rect x="242.0" y="493.0" width="5.0" height="2.8" fill="#bcb2b2" stroke="#7a6654" stroke-width="0.5" rx="0.8"/>
<rect x="253.3" y="486.0" width="2.4" height="6.0" fill="#bcb2b2" stroke="#7a6654" stroke-width="0.5" rx="0.8"/>
<rect x="259.8" y="486.0" width="2.4" height="6.0" fill="#bcb2b2" stroke="#7a6654" stroke-width="0.5" rx="0.8"/>
<rect x="256.2" y="499.0" width="2.4" height="6.0" fill="#bcb2b2" stroke="#7a6654" stroke-width="0.5" rx="0.8"/>
<rect x="242.0" y="507.0" width="5.0" height="2.8" fill="#bcb2b2" stroke="#7a6654" stroke-width="0.5" rx="0.8"/>
<circle cx="240.8" cy="489.0" r="1.4" fill="#5a4030"/>
<rect x="221.5" y="471.0" width="5.0" height="3.0" fill="#e0b878"/>
<path d="M262.5 456 L313.8 456 L313.8 522.5 L262.5 522.5 Z" fill="none" stroke="#8a6c4e" stroke-width="0.9"/>
<line x1="304.0" y1="470.0" x2="304.0" y2="508.0" stroke="#c8b090" stroke-width="0.5"/>
<rect x="262.4" y="463.0" width="2.4" height="6.5" fill="#bcb2b2" stroke="#7a6654" stroke-width="0.5" rx="0.8"/>
<rect x="266.5" y="477.5" width="10.0" height="3.0" fill="#bcb2b2" stroke="#7a6654" stroke-width="0.5" rx="0.8"/>
<rect x="266.5" y="497.5" width="10.0" height="3.0" fill="#bcb2b2" stroke="#7a6654" stroke-width="0.5" rx="0.8"/>
<rect x="293.0" y="463.2" width="4.0" height="2.6" fill="#bcb2b2" stroke="#7a6654" stroke-width="0.5" rx="0.8"/>
<rect x="293.0" y="512.2" width="4.0" height="2.6" fill="#bcb2b2" stroke="#7a6654" stroke-width="0.5" rx="0.8"/>
<rect x="262.4" y="509.0" width="2.4" height="6.5" fill="#bcb2b2" stroke="#7a6654" stroke-width="0.5" rx="0.8"/>
<rect x="303.5" y="477.5" width="9.5" height="3.0" fill="#bcb2b2" stroke="#7a6654" stroke-width="0.5" rx="0.8"/>
<rect x="303.5" y="497.5" width="9.5" height="3.0" fill="#bcb2b2" stroke="#7a6654" stroke-width="0.5" rx="0.8"/>
<rect x="311.8" y="484.5" width="2.0" height="6.5" fill="#bcb2b2" stroke="#7a6654" stroke-width="0.5" rx="0.8"/>
<rect x="309.4" y="462.5" width="2.2" height="6.0" fill="#bcb2b2" stroke="#7a6654" stroke-width="0.5" rx="0.8"/>
<rect x="309.4" y="510.5" width="2.2" height="6.0" fill="#bcb2b2" stroke="#7a6654" stroke-width="0.5" rx="0.8"/>
<rect x="209.5" y="515.0" width="41.0" height="6.5" fill="#ecd8bc" stroke="#8a6c4e" stroke-width="0.7"/>
<rect x="209.5" y="523.8" width="41.0" height="6.5" fill="#e6cca8" stroke="#8a6c4e" stroke-width="0.7"/>
<rect x="212.0" y="516.5" width="9.0" height="3.5" fill="#bcb2b2" stroke="#7a6654" stroke-width="0.5" rx="0.8"/>
<rect x="212.0" y="525.3" width="9.0" height="3.5" fill="#bcb2b2" stroke="#7a6654" stroke-width="0.5" rx="0.8"/>
<rect x="224.0" y="516.5" width="4.0" height="3.5" fill="#bcb2b2" stroke="#7a6654" stroke-width="0.5" rx="0.8"/>
<rect x="224.0" y="525.3" width="4.0" height="3.5" fill="#bcb2b2" stroke="#7a6654" stroke-width="0.5" rx="0.8"/>
<rect x="231.0" y="516.5" width="4.0" height="3.5" fill="#bcb2b2" stroke="#7a6654" stroke-width="0.5" rx="0.8"/>
<rect x="231.0" y="525.3" width="4.0" height="3.5" fill="#bcb2b2" stroke="#7a6654" stroke-width="0.5" rx="0.8"/>
<rect x="238.0" y="516.5" width="9.0" height="3.5" fill="#bcb2b2" stroke="#7a6654" stroke-width="0.5" rx="0.8"/>
<rect x="238.0" y="525.3" width="9.0" height="3.5" fill="#bcb2b2" stroke="#7a6654" stroke-width="0.5" rx="0.8"/>
<text x="253" y="520" font-family="Liberation Sans" font-size="3" font-weight="bold" fill="#c08040" text-anchor="start">B1</text>
<text x="253" y="528.5" font-family="Liberation Sans" font-size="3" font-weight="bold" fill="#c08040" text-anchor="start">B2</text>
<rect x="314.4" y="455.6" width="15.0" height="7.5" fill="none" stroke="#8a6c4e" stroke-width="0.7" rx="2"/>
<rect x="330.8" y="455.6" width="15.5" height="7.5" fill="none" stroke="#8a6c4e" stroke-width="0.7" rx="2"/>
<circle cx="318.0" cy="459.3" r="1.3" fill="#9a8a84"/>
<circle cx="342.5" cy="459.3" r="1.3" fill="#9a8a84"/>
<rect x="316.0" y="465.0" width="29.0" height="8.7" fill="none" stroke="#8a6c4e" stroke-width="0.7"/>
<path d="M351.3 456.3 L370 456.3 L371.3 458.2 L370 460 L351.3 460 Z" fill="none" stroke="#8a6c4e" stroke-width="0.7"/>
<rect x="373.8" y="456.0" width="7.5" height="6.0" fill="none" stroke="#8a6c4e" stroke-width="0.6"/>
<rect x="315.6" y="475.6" width="20.7" height="25.7" fill="#9c7a58" stroke="#6e5034" stroke-width="0.7"/>
<circle cx="317.0" cy="477.0" r="0.7" fill="#e8d4b8"/>
<circle cx="319.1" cy="477.0" r="0.7" fill="#e8d4b8"/>
<circle cx="321.2" cy="477.0" r="0.7" fill="#e8d4b8"/>
<circle cx="323.3" cy="477.0" r="0.7" fill="#e8d4b8"/>
<circle cx="325.4" cy="477.0" r="0.7" fill="#e8d4b8"/>
<circle cx="327.5" cy="477.0" r="0.7" fill="#e8d4b8"/>
<circle cx="329.6" cy="477.0" r="0.7" fill="#e8d4b8"/>
<circle cx="331.7" cy="477.0" r="0.7" fill="#e8d4b8"/>
<circle cx="333.8" cy="477.0" r="0.7" fill="#e8d4b8"/>
<circle cx="318.1" cy="479.1" r="0.7" fill="#e8d4b8"/>
<circle cx="320.2" cy="479.1" r="0.7" fill="#e8d4b8"/>
<circle cx="322.2" cy="479.1" r="0.7" fill="#e8d4b8"/>
<circle cx="324.4" cy="479.1" r="0.7" fill="#e8d4b8"/>
<circle cx="326.4" cy="479.1" r="0.7" fill="#e8d4b8"/>
<circle cx="328.6" cy="479.1" r="0.7" fill="#e8d4b8"/>
<circle cx="330.7" cy="479.1" r="0.7" fill="#e8d4b8"/>
<circle cx="332.8" cy="479.1" r="0.7" fill="#e8d4b8"/>
<circle cx="334.9" cy="479.1" r="0.7" fill="#e8d4b8"/>
<circle cx="318.1" cy="481.2" r="0.7" fill="#e8d4b8"/>
<circle cx="320.2" cy="481.2" r="0.7" fill="#e8d4b8"/>
<circle cx="322.2" cy="481.2" r="0.7" fill="#e8d4b8"/>
<circle cx="324.4" cy="481.2" r="0.7" fill="#e8d4b8"/>
<circle cx="326.4" cy="481.2" r="0.7" fill="#e8d4b8"/>
<circle cx="328.6" cy="481.2" r="0.7" fill="#e8d4b8"/>
<circle cx="330.7" cy="481.2" r="0.7" fill="#e8d4b8"/>
<circle cx="332.8" cy="481.2" r="0.7" fill="#e8d4b8"/>
<circle cx="334.9" cy="481.2" r="0.7" fill="#e8d4b8"/>
<circle cx="318.1" cy="483.3" r="0.7" fill="#e8d4b8"/>
<circle cx="320.2" cy="483.3" r="0.7" fill="#e8d4b8"/>
<circle cx="322.2" cy="483.3" r="0.7" fill="#e8d4b8"/>
<circle cx="324.4" cy="483.3" r="0.7" fill="#e8d4b8"/>
<circle cx="326.4" cy="483.3" r="0.7" fill="#e8d4b8"/>
<circle cx="328.6" cy="483.3" r="0.7" fill="#e8d4b8"/>
<circle cx="330.7" cy="483.3" r="0.7" fill="#e8d4b8"/>
<circle cx="332.8" cy="483.3" r="0.7" fill="#e8d4b8"/>
<circle cx="334.9" cy="483.3" r="0.7" fill="#e8d4b8"/>
<circle cx="318.1" cy="485.4" r="0.7" fill="#e8d4b8"/>
<circle cx="320.2" cy="485.4" r="0.7" fill="#e8d4b8"/>
<circle cx="322.2" cy="485.4" r="0.7" fill="#e8d4b8"/>
<circle cx="324.4" cy="485.4" r="0.7" fill="#e8d4b8"/>
<circle cx="326.4" cy="485.4" r="0.7" fill="#e8d4b8"/>
<circle cx="328.6" cy="485.4" r="0.7" fill="#e8d4b8"/>
<circle cx="330.7" cy="485.4" r="0.7" fill="#e8d4b8"/>
<circle cx="332.8" cy="485.4" r="0.7" fill="#e8d4b8"/>
<circle cx="334.9" cy="485.4" r="0.7" fill="#e8d4b8"/>
<circle cx="318.1" cy="487.5" r="0.7" fill="#e8d4b8"/>
<circle cx="320.2" cy="487.5" r="0.7" fill="#e8d4b8"/>
<circle cx="322.2" cy="487.5" r="0.7" fill="#e8d4b8"/>
<circle cx="324.4" cy="487.5" r="0.7" fill="#e8d4b8"/>
<circle cx="326.4" cy="487.5" r="0.7" fill="#e8d4b8"/>
<circle cx="328.6" cy="487.5" r="0.7" fill="#e8d4b8"/>
<circle cx="330.7" cy="487.5" r="0.7" fill="#e8d4b8"/>
<circle cx="332.8" cy="487.5" r="0.7" fill="#e8d4b8"/>
<circle cx="334.9" cy="487.5" r="0.7" fill="#e8d4b8"/>
<circle cx="317.0" cy="489.6" r="0.7" fill="#e8d4b8"/>
<circle cx="319.1" cy="489.6" r="0.7" fill="#e8d4b8"/>
<circle cx="321.2" cy="489.6" r="0.7" fill="#e8d4b8"/>
<circle cx="323.3" cy="489.6" r="0.7" fill="#e8d4b8"/>
<circle cx="325.4" cy="489.6" r="0.7" fill="#e8d4b8"/>
<circle cx="327.5" cy="489.6" r="0.7" fill="#e8d4b8"/>
<circle cx="329.6" cy="489.6" r="0.7" fill="#e8d4b8"/>
<circle cx="331.7" cy="489.6" r="0.7" fill="#e8d4b8"/>
<circle cx="333.8" cy="489.6" r="0.7" fill="#e8d4b8"/>
<circle cx="317.0" cy="491.7" r="0.7" fill="#e8d4b8"/>
<circle cx="319.1" cy="491.7" r="0.7" fill="#e8d4b8"/>
<circle cx="321.2" cy="491.7" r="0.7" fill="#e8d4b8"/>
<circle cx="323.3" cy="491.7" r="0.7" fill="#e8d4b8"/>
<circle cx="325.4" cy="491.7" r="0.7" fill="#e8d4b8"/>
<circle cx="327.5" cy="491.7" r="0.7" fill="#e8d4b8"/>
<circle cx="329.6" cy="491.7" r="0.7" fill="#e8d4b8"/>
<circle cx="331.7" cy="491.7" r="0.7" fill="#e8d4b8"/>
<circle cx="333.8" cy="491.7" r="0.7" fill="#e8d4b8"/>
<circle cx="317.0" cy="493.8" r="0.7" fill="#e8d4b8"/>
<circle cx="319.1" cy="493.8" r="0.7" fill="#e8d4b8"/>
<circle cx="321.2" cy="493.8" r="0.7" fill="#e8d4b8"/>
<circle cx="323.3" cy="493.8" r="0.7" fill="#e8d4b8"/>
<circle cx="325.4" cy="493.8" r="0.7" fill="#e8d4b8"/>
<circle cx="327.5" cy="493.8" r="0.7" fill="#e8d4b8"/>
<circle cx="329.6" cy="493.8" r="0.7" fill="#e8d4b8"/>
<circle cx="331.7" cy="493.8" r="0.7" fill="#e8d4b8"/>
<circle cx="333.8" cy="493.8" r="0.7" fill="#e8d4b8"/>
<circle cx="317.0" cy="495.9" r="0.7" fill="#e8d4b8"/>
<circle cx="319.1" cy="495.9" r="0.7" fill="#e8d4b8"/>
<circle cx="321.2" cy="495.9" r="0.7" fill="#e8d4b8"/>
<circle cx="323.3" cy="495.9" r="0.7" fill="#e8d4b8"/>
<circle cx="325.4" cy="495.9" r="0.7" fill="#e8d4b8"/>
<circle cx="327.5" cy="495.9" r="0.7" fill="#e8d4b8"/>
<circle cx="329.6" cy="495.9" r="0.7" fill="#e8d4b8"/>
<circle cx="331.7" cy="495.9" r="0.7" fill="#e8d4b8"/>
<circle cx="333.8" cy="495.9" r="0.7" fill="#e8d4b8"/>
<circle cx="317.0" cy="498.0" r="0.7" fill="#e8d4b8"/>
<circle cx="319.1" cy="498.0" r="0.7" fill="#e8d4b8"/>
<circle cx="321.2" cy="498.0" r="0.7" fill="#e8d4b8"/>
<circle cx="323.3" cy="498.0" r="0.7" fill="#e8d4b8"/>
<circle cx="325.4" cy="498.0" r="0.7" fill="#e8d4b8"/>
<circle cx="327.5" cy="498.0" r="0.7" fill="#e8d4b8"/>
<circle cx="329.6" cy="498.0" r="0.7" fill="#e8d4b8"/>
<circle cx="331.7" cy="498.0" r="0.7" fill="#e8d4b8"/>
<circle cx="333.8" cy="498.0" r="0.7" fill="#e8d4b8"/>
<circle cx="318.1" cy="500.1" r="0.7" fill="#e8d4b8"/>
<circle cx="320.2" cy="500.1" r="0.7" fill="#e8d4b8"/>
<circle cx="322.2" cy="500.1" r="0.7" fill="#e8d4b8"/>
<circle cx="324.4" cy="500.1" r="0.7" fill="#e8d4b8"/>
<circle cx="326.4" cy="500.1" r="0.7" fill="#e8d4b8"/>
<circle cx="328.6" cy="500.1" r="0.7" fill="#e8d4b8"/>
<circle cx="330.7" cy="500.1" r="0.7" fill="#e8d4b8"/>
<circle cx="332.8" cy="500.1" r="0.7" fill="#e8d4b8"/>
<circle cx="334.9" cy="500.1" r="0.7" fill="#e8d4b8"/>
<circle cx="346.9" cy="494.4" r="8.7" fill="#e8d2b2" stroke="#7a5a3c" stroke-width="1.1"/>
<circle cx="346.9" cy="494.4" r="6.2" fill="#d8d2da" stroke="#8a7a70" stroke-width="0.6"/>
<rect x="341.0" y="493.6" width="12.0" height="1.8" fill="#e8d8c0"/>
<circle cx="346.9" cy="494.4" r="1.6" fill="#5a4434"/>
<rect x="320.0" y="506.3" width="31.3" height="11.2" fill="#e4b06a" stroke="#8a5a2c" stroke-width="0.7" rx="1.5"/>
<circle cx="324.0" cy="510.0" r="1.6" fill="#b0783a"/>
<circle cx="329.0" cy="510.0" r="1.6" fill="#b0783a"/>
<circle cx="337.0" cy="509.5" r="1.6" fill="#b0783a"/>
<circle cx="343.0" cy="512.0" r="1.6" fill="#b0783a"/>
<rect x="336.0" y="513.0" width="12.0" height="2.5" fill="#b07438"/>
<circle cx="326.5" cy="516.0" r="2.2" fill="#c8bcb8"/>
<path d="M317 503 L354 503 L356 506 L356 520 L317 520 Z" fill="none" stroke="#8a6c4e" stroke-width="0.6"/>
<rect x="352.0" y="512.8" width="7.0" height="2.7" fill="#bcb2b2" stroke="#7a6654" stroke-width="0.5" rx="0.8"/>
<rect x="316.8" y="510.0" width="1.8" height="6.0" fill="#bcb2b2" stroke="#7a6654" stroke-width="0.5" rx="0.8"/>
<path d="M365.6 473 L388.8 473 L388.8 507.5 L365.6 507.5 Z" fill="#e2b474" stroke="#8a6238" stroke-width="0.8"/>
<line x1="377.2" y1="473.0" x2="377.2" y2="507.5" stroke="#a67a48" stroke-width="0.6"/>
<line x1="366.5" y1="474.5" x2="388.0" y2="474.5" stroke="#b8844a" stroke-width="0.6" stroke-dasharray="0.8 0.9"/>
<line x1="366.5" y1="476.2" x2="388.0" y2="476.2" stroke="#b8844a" stroke-width="0.6" stroke-dasharray="0.8 0.9"/>
<line x1="366.5" y1="477.9" x2="388.0" y2="477.9" stroke="#b8844a" stroke-width="0.6" stroke-dasharray="0.8 0.9"/>
<line x1="366.5" y1="479.6" x2="388.0" y2="479.6" stroke="#b8844a" stroke-width="0.6" stroke-dasharray="0.8 0.9"/>
<line x1="366.5" y1="481.3" x2="388.0" y2="481.3" stroke="#b8844a" stroke-width="0.6" stroke-dasharray="0.8 0.9"/>
<line x1="366.5" y1="483.0" x2="388.0" y2="483.0" stroke="#b8844a" stroke-width="0.6" stroke-dasharray="0.8 0.9"/>
<line x1="366.5" y1="484.7" x2="388.0" y2="484.7" stroke="#b8844a" stroke-width="0.6" stroke-dasharray="0.8 0.9"/>
<line x1="366.5" y1="486.4" x2="388.0" y2="486.4" stroke="#b8844a" stroke-width="0.6" stroke-dasharray="0.8 0.9"/>
<line x1="366.5" y1="488.1" x2="388.0" y2="488.1" stroke="#b8844a" stroke-width="0.6" stroke-dasharray="0.8 0.9"/>
<line x1="366.5" y1="489.8" x2="388.0" y2="489.8" stroke="#b8844a" stroke-width="0.6" stroke-dasharray="0.8 0.9"/>
<line x1="366.5" y1="491.5" x2="388.0" y2="491.5" stroke="#b8844a" stroke-width="0.6" stroke-dasharray="0.8 0.9"/>
<line x1="366.5" y1="493.2" x2="388.0" y2="493.2" stroke="#b8844a" stroke-width="0.6" stroke-dasharray="0.8 0.9"/>
<line x1="366.5" y1="494.9" x2="388.0" y2="494.9" stroke="#b8844a" stroke-width="0.6" stroke-dasharray="0.8 0.9"/>
<line x1="366.5" y1="496.6" x2="388.0" y2="496.6" stroke="#b8844a" stroke-width="0.6" stroke-dasharray="0.8 0.9"/>
<line x1="366.5" y1="498.3" x2="388.0" y2="498.3" stroke="#b8844a" stroke-width="0.6" stroke-dasharray="0.8 0.9"/>
<line x1="366.5" y1="500.0" x2="388.0" y2="500.0" stroke="#b8844a" stroke-width="0.6" stroke-dasharray="0.8 0.9"/>
<line x1="366.5" y1="501.7" x2="388.0" y2="501.7" stroke="#b8844a" stroke-width="0.6" stroke-dasharray="0.8 0.9"/>
<line x1="366.5" y1="503.4" x2="388.0" y2="503.4" stroke="#b8844a" stroke-width="0.6" stroke-dasharray="0.8 0.9"/>
<line x1="366.5" y1="505.1" x2="388.0" y2="505.1" stroke="#b8844a" stroke-width="0.6" stroke-dasharray="0.8 0.9"/>
<line x1="366.5" y1="506.8" x2="388.0" y2="506.8" stroke="#b8844a" stroke-width="0.6" stroke-dasharray="0.8 0.9"/>
<circle cx="370.5" cy="490.0" r="2.8" fill="#c8944e"/>
<line x1="368.5" y1="488.0" x2="372.5" y2="492.0" stroke="#7a4e20" stroke-width="0.8"/>
<line x1="372.5" y1="488.0" x2="368.5" y2="492.0" stroke="#7a4e20" stroke-width="0.8"/>
<circle cx="383.0" cy="490.0" r="2.8" fill="#c8944e"/>
<line x1="381.0" y1="488.0" x2="385.0" y2="492.0" stroke="#7a4e20" stroke-width="0.8"/>
<line x1="385.0" y1="488.0" x2="381.0" y2="492.0" stroke="#7a4e20" stroke-width="0.8"/>
<rect x="369.0" y="470.5" width="17.0" height="2.0" fill="#bcb2b2" stroke="#7a6654" stroke-width="0.5" rx="0.8"/>
<rect x="369.0" y="507.8" width="17.0" height="1.7" fill="#bcb2b2" stroke="#7a6654" stroke-width="0.5" rx="0.8"/>
<path d="M365.6 473 Q377 466 388.8 473" fill="none" stroke="#8a6c4e" stroke-width="0.6"/>
<path d="M399.4 455.5 L404 455.5 L404 460 L412 460 L420 455.5 L481.5 455.5 L481.5 470 L466 470 L466 485 L455 488 L404 488 L399.4 484 Z" fill="none" stroke="#8a6c4e" stroke-width="0.8"/>
<path d="M420 455.5 L424 467 L433 467 Q437 471 441 467 L449 467 L453 455.5" fill="none" stroke="#8a6c4e" stroke-width="0.7"/>
<rect x="432.0" y="475.3" width="8.0" height="4.0" fill="none" stroke="#8a6c4e" stroke-width="0.6" rx="1"/>
<rect x="399.4" y="461.4" width="4.6" height="4.6" fill="#ecebf0" stroke="#9c8466" stroke-width="0.7" rx="0.8"/>
<rect x="408.6" y="472.6" width="5.9" height="5.2" fill="#ecebf0" stroke="#9c8466" stroke-width="0.7" rx="0.8"/>
<circle cx="412.0" cy="458.8" r="1.4" fill="#6e5440"/>
<circle cx="417.0" cy="466.0" r="1.4" fill="#6e5440"/>
<circle cx="397.0" cy="472.6" r="1.4" fill="#6e5440"/>
<circle cx="402.5" cy="480.0" r="1.4" fill="#6e5440"/>
<circle cx="457.0" cy="466.0" r="1.4" fill="#6e5440"/>
<circle cx="462.0" cy="459.0" r="1.4" fill="#6e5440"/>
<circle cx="465.0" cy="474.0" r="1.4" fill="#6e5440"/>
<circle cx="459.1" cy="483.0" r="3.7" fill="#efd8b8" stroke="#6a4a2c" stroke-width="1.1"/>
<circle cx="459.1" cy="483.0" r="1.2" fill="#5a3a20"/>
<circle cx="466.4" cy="483.0" r="3.7" fill="#efd8b8" stroke="#6a4a2c" stroke-width="1.1"/>
<circle cx="466.4" cy="483.0" r="1.2" fill="#5a3a20"/>
<rect x="472.3" y="466.0" width="5.9" height="46.0" fill="none" stroke="#8a6c4e" stroke-width="0.7" rx="2"/>
<circle cx="475.2" cy="466.0" r="3.0" fill="#e0c090" stroke="#8a6c4e" stroke-width="0.6"/>
<circle cx="475.2" cy="511.0" r="3.0" fill="#f2e3ca" stroke="#8a6c4e" stroke-width="0.7"/>
<path d="M404.7 485.7 L412 485.7 Q414 482 420 482 L440 482 Q446 482 448 485.7 L455.9 485.7 L455.9 540 L404.7 540 Z" fill="none" stroke="#8a6c4e" stroke-width="0.8"/>
<circle cx="403.4" cy="495.0" r="0.8" fill="#c08a4a"/>
<circle cx="458.5" cy="495.0" r="0.8" fill="#c08a4a"/>
<circle cx="403.4" cy="497.2" r="0.8" fill="#c08a4a"/>
<circle cx="458.5" cy="497.2" r="0.8" fill="#c08a4a"/>
<circle cx="403.4" cy="499.4" r="0.8" fill="#c08a4a"/>
<circle cx="458.5" cy="499.4" r="0.8" fill="#c08a4a"/>
<circle cx="403.4" cy="501.6" r="0.8" fill="#c08a4a"/>
<circle cx="458.5" cy="501.6" r="0.8" fill="#c08a4a"/>
<circle cx="403.4" cy="503.8" r="0.8" fill="#c08a4a"/>
<circle cx="458.5" cy="503.8" r="0.8" fill="#c08a4a"/>
<circle cx="403.4" cy="506.0" r="0.8" fill="#c08a4a"/>
<circle cx="458.5" cy="506.0" r="0.8" fill="#c08a4a"/>
<circle cx="403.4" cy="508.2" r="0.8" fill="#c08a4a"/>
<circle cx="458.5" cy="508.2" r="0.8" fill="#c08a4a"/>
<circle cx="403.4" cy="510.4" r="0.8" fill="#c08a4a"/>
<circle cx="458.5" cy="510.4" r="0.8" fill="#c08a4a"/>
<circle cx="403.4" cy="512.6" r="0.8" fill="#c08a4a"/>
<circle cx="458.5" cy="512.6" r="0.8" fill="#c08a4a"/>
<circle cx="408.0" cy="497.0" r="1.2" fill="#6e5440"/>
<circle cx="408.0" cy="503.0" r="1.2" fill="#6e5440"/>
<circle cx="452.0" cy="497.0" r="1.2" fill="#6e5440"/>
<circle cx="452.0" cy="503.0" r="1.2" fill="#6e5440"/>
<circle cx="452.0" cy="509.0" r="1.2" fill="#6e5440"/>
<circle cx="407.0" cy="509.0" r="1.2" fill="#6e5440"/>
<rect x="396.8" y="504.7" width="3.9" height="5.3" fill="#ecebf0" stroke="#9c8466" stroke-width="0.7" rx="0.8"/>
<rect x="461.0" y="494.2" width="4.0" height="4.6" fill="#ecebf0" stroke="#9c8466" stroke-width="0.7" rx="0.8"/>
<rect x="461.0" y="504.7" width="4.0" height="4.6" fill="#ecebf0" stroke="#9c8466" stroke-width="0.7" rx="0.8"/>
<rect x="413.8" y="517.6" width="8.0" height="3.0" fill="#bcb2b2" stroke="#7a6654" stroke-width="0.5" rx="0.8"/>
<rect x="439.4" y="517.6" width="8.0" height="3.0" fill="#bcb2b2" stroke="#7a6654" stroke-width="0.5" rx="0.8"/>
<rect x="462.4" y="525.0" width="4.6" height="6.0" fill="#ecebf0" stroke="#9c8466" stroke-width="0.7" rx="0.8"/>
<rect x="474.2" y="525.0" width="5.3" height="6.0" fill="#ecebf0" stroke="#9c8466" stroke-width="0.7" rx="0.8"/>
<path d="M458 520 L481 520 L481 536 L458 536 Z" fill="none" stroke="#8a6c4e" stroke-width="0.7"/>
<rect x="436.0" y="493.0" width="2.0" height="3.0" fill="#c8a070"/>
<circle cx="443.0" cy="498.0" r="1.4" fill="#8a7a70"/>
<path d="M211 531 L225.7 531 L227.7 535 L227.7 548 L225 550 L225 567.7 L212 567.7 L212 550 L209 548 L209 535 Z" fill="none" stroke="#8a6c4e" stroke-width="0.8"/>
<rect x="213.0" y="531.5" width="10.7" height="4.0" fill="#dca868"/>
<line x1="213.0" y1="540.0" x2="223.7" y2="540.0" stroke="#c09870" stroke-width="0.5"/>
<line x1="213.0" y1="543.0" x2="223.7" y2="543.0" stroke="#c09870" stroke-width="0.5"/>
<line x1="213.0" y1="546.0" x2="223.7" y2="546.0" stroke="#c09870" stroke-width="0.5"/>
<rect x="215.0" y="557.0" width="6.7" height="2.5" fill="#bcb2b2" stroke="#7a6654" stroke-width="0.5" rx="0.8"/>
<rect x="215.3" y="561.5" width="6.0" height="2.0" fill="#c8945a" rx="0.6"/>
<rect x="209.0" y="538.5" width="2.0" height="3.0" fill="#6e5440" rx="0.6"/>
<rect x="225.7" y="538.5" width="2.0" height="3.0" fill="#6e5440" rx="0.6"/>
<path d="M232 531 L246.7 531 L248.7 535 L248.7 548 L246 550 L246 567.7 L233 567.7 L233 550 L230 548 L230 535 Z" fill="none" stroke="#8a6c4e" stroke-width="0.8"/>
<rect x="234.0" y="531.5" width="10.7" height="4.0" fill="#dca868"/>
<line x1="234.0" y1="540.0" x2="244.7" y2="540.0" stroke="#c09870" stroke-width="0.5"/>
<line x1="234.0" y1="543.0" x2="244.7" y2="543.0" stroke="#c09870" stroke-width="0.5"/>
<line x1="234.0" y1="546.0" x2="244.7" y2="546.0" stroke="#c09870" stroke-width="0.5"/>
<rect x="236.0" y="557.0" width="6.7" height="2.5" fill="#bcb2b2" stroke="#7a6654" stroke-width="0.5" rx="0.8"/>
<rect x="236.3" y="561.5" width="6.0" height="2.0" fill="#c8945a" rx="0.6"/>
<rect x="230.0" y="538.5" width="2.0" height="3.0" fill="#6e5440" rx="0.6"/>
<rect x="246.7" y="538.5" width="2.0" height="3.0" fill="#6e5440" rx="0.6"/>
<path d="M252 528 L264 528 L264 533 L266 533 L266 542.5 L264 542.5 L264 547.5 L252 547.5 L252 542.5 L250.2 542.5 L250.2 533 L252 533 Z" fill="none" stroke="#8a6c4e" stroke-width="0.7"/>
<line x1="253.0" y1="534.0" x2="263.0" y2="534.0" stroke="#c8a880" stroke-width="0.5"/>
<line x1="253.0" y1="537.0" x2="263.0" y2="537.0" stroke="#c8a880" stroke-width="0.5"/>
<line x1="253.0" y1="540.0" x2="263.0" y2="540.0" stroke="#c8a880" stroke-width="0.5"/>
<path d="M252 550.5 L264 550.5 L264 555.5 L266 555.5 L266 564.2 L264 564.2 L264 569.2 L252 569.2 L252 564.2 L250.2 564.2 L250.2 555.5 L252 555.5 Z" fill="none" stroke="#8a6c4e" stroke-width="0.7"/>
<line x1="253.0" y1="556.5" x2="263.0" y2="556.5" stroke="#c8a880" stroke-width="0.5"/>
<line x1="253.0" y1="559.5" x2="263.0" y2="559.5" stroke="#c8a880" stroke-width="0.5"/>
<line x1="253.0" y1="562.5" x2="263.0" y2="562.5" stroke="#c8a880" stroke-width="0.5"/>
<path d="M266 528 L270 526 L271 530 L277 526 L278 530 L273 535 L273 552 L270 552 L270 535 Z" fill="none" stroke="#8a6c4e" stroke-width="0.7"/>
<rect x="279.5" y="526.5" width="9.0" height="12.0" fill="#dcb070" stroke="#8a6c4e" stroke-width="0.6"/>
<path d="M287 538 L300 538 L300 545 L313 545 L313 567 L283 567 L283 545 Z" fill="none" stroke="#8a6c4e" stroke-width="0.7"/>
<line x1="286.0" y1="540.0" x2="313.0" y2="565.0" stroke="#8a6c4e" stroke-width="0.6"/>
<path d="M267.5 567 L299 567 L299 583.5 L267.5 583.5 Z" fill="#e4c49a" stroke="#8a6238" stroke-width="0.7"/>
<path d="M268 570.5 L281 570.5 L282 574.6 L281 578.7 L268 578.7 Z" fill="#ecebf0" stroke="#9c8466" stroke-width="0.5"/>
<path d="M283 574.6 L284 570.5 L296 570.5 L296 578.7 L284 578.7 Z" fill="#ecebf0" stroke="#9c8466" stroke-width="0.5"/>
<path d="M266 592.5 L268 586 Q283 582 298 586 L300 592.5 L296 592.5 L295 588.5 Q283 586 271 588.5 L270 592.5 Z" fill="none" stroke="#8a6c4e" stroke-width="0.7"/>
<path d="M209.5 570 L228 570 L234 580 L234 588 L209.5 588 L209.5 582 L207 582 L207 576 L209.5 576 Z" fill="none" stroke="#8a6c4e" stroke-width="0.7"/>
<path d="M232 571 L245 575 L258 575 L258 590 L245 590 L240 583 L232 578 Z" fill="none" stroke="#8a6c4e" stroke-width="0.7"/>
<rect x="235.0" y="572.0" width="9.0" height="3.0" fill="#bcb2b2" stroke="#7a6654" stroke-width="0.5" rx="0.8"/>
<rect x="229.0" y="585.0" width="11.0" height="3.0" fill="#bcb2b2" stroke="#7a6654" stroke-width="0.5" rx="0.8"/>
<circle cx="225.5" cy="580.5" r="1.3" fill="#6e5440"/>
<circle cx="240.0" cy="580.5" r="1.3" fill="#6e5440"/>
<path d="M212 591 L231 591 L231 604 L222 604 L218 612 L218 627 L212 627 Z" fill="none" stroke="#8a6c4e" stroke-width="0.7"/>
<path d="M219 615 L234 615 L234 629 L228 629 L228 632 L219 632 Z" fill="none" stroke="#8a6c4e" stroke-width="0.7"/>
<line x1="211" y1="622" x2="213.5" y2="610" stroke="#b0a6a6" stroke-width="2.2" stroke-linecap="round"/>
<line x1="238.5" y1="613" x2="238.5" y2="601" stroke="#b0a6a6" stroke-width="2.2" stroke-linecap="round"/>
<circle cx="219.0" cy="597.0" r="1.4" fill="#7a6a60"/>
<rect x="228.8" y="612.0" width="2.5" height="2.0" fill="#6e5440" rx="0.6"/>
<path d="M208 627 L208 634 L214 634" fill="none" stroke="#8a6c4e" stroke-width="0.7"/>
<text x="215" y="575" font-family="Liberation Sans" font-size="2.6" font-weight="bold" fill="#c08a4a" text-anchor="start">BP4</text>
<text x="217" y="597" font-family="Liberation Sans" font-size="2.6" font-weight="bold" fill="#c08a4a" text-anchor="start">BP4</text>
<text x="226" y="617" font-family="Liberation Sans" font-size="2.6" font-weight="bold" fill="#c08a4a" text-anchor="start">BP4</text>
<text x="246" y="580" font-family="Liberation Sans" font-size="2.6" font-weight="bold" fill="#c08a4a" text-anchor="start">B7A</text>
<path d="M245 593.2 L293 593.2 L293 598 L295 598 L295 603 L293 603 L293 633 L245 633 L245 603 L243 603 L243 598 L245 598 Z" fill="none" stroke="#8a6c4e" stroke-width="0.8"/>
<circle cx="255.5" cy="598.0" r="1.4" fill="#6e5440"/>
<circle cx="280.7" cy="598.0" r="1.4" fill="#6e5440"/>
<circle cx="255.5" cy="614.5" r="1.4" fill="#6e5440"/>
<circle cx="280.7" cy="614.5" r="1.4" fill="#6e5440"/>
<rect x="247.2" y="621.0" width="41.3" height="4.7" fill="#ecebf0" stroke="#9c8466" stroke-width="0.7" rx="1"/>
<rect x="296.0" y="604.0" width="3.0" height="28.0" fill="#c0b6b8" stroke="#7a6654" stroke-width="0.4"/>
<rect x="302.5" y="604.0" width="3.0" height="28.0" fill="#c0b6b8" stroke="#7a6654" stroke-width="0.4"/>
<rect x="295.0" y="603.5" width="12.0" height="2.0" fill="none" stroke="#8a6c4e" stroke-width="0.6"/>
<rect x="295.0" y="631.0" width="12.0" height="2.0" fill="none" stroke="#8a6c4e" stroke-width="0.6"/>
<path d="M325.2 522.3 L375.2 522.3 L375.2 574 Q350 579 325.2 574 Z" fill="none" stroke="#8a6c4e" stroke-width="0.8"/>
<rect x="325.5" y="530.0" width="2.2" height="20.0" fill="#bcb2b2" stroke="#7a6654" stroke-width="0.5" rx="0.8"/>
<rect x="373.0" y="530.0" width="2.2" height="20.0" fill="#bcb2b2" stroke="#7a6654" stroke-width="0.5" rx="0.8"/>
<ellipse cx="349.5" cy="571.3" rx="2.5" ry="1.4" fill="#a8a0a0"/>
<rect x="335.0" y="520.0" width="8.0" height="3.0" fill="#c0b4b0"/>
<path d="M309.5 580.2 L353.3 580.2 L353.3 599.7 L336 599.7 L336 604 L318 604 L318 599.7 L309.5 599.7 Z" fill="none" stroke="#8a6c4e" stroke-width="0.8"/>
<rect x="318.6" y="586.0" width="18.4" height="10.0" fill="none" stroke="#8a6c4e" stroke-width="0.7" rx="4"/>
<ellipse cx="328" cy="591" rx="2.2" ry="1.2" fill="#7a6a64"/>
<rect x="316.0" y="573.0" width="2.4" height="5.0" fill="#b8aeb0"/>
<path d="M356.4 590 L361 590 L361 585.6 L366.6 585.6 L366.6 590 L371.3 590 L371.3 600 L366.6 600 L366.6 604.4 L361 604.4 L361 600 L356.4 600 Z" fill="none" stroke="#8a6c4e" stroke-width="0.7"/>
<rect x="312.7" y="610.6" width="47.6" height="21.9" fill="none" stroke="#8a6c4e" stroke-width="0.8"/>
<line x1="336.7" y1="609.0" x2="336.7" y2="634.0" stroke="#8a6c4e" stroke-width="1.4"/>
<rect x="315.0" y="614.5" width="19.5" height="14.9" fill="#ecebf0" stroke="#9c8466" stroke-width="0.7" rx="0.5"/>
<rect x="339.2" y="614.5" width="18.8" height="14.9" fill="#ecebf0" stroke="#9c8466" stroke-width="0.7" rx="0.5"/>
<line x1="315.0" y1="615.5" x2="334.0" y2="615.5" stroke="#8a6a48" stroke-width="1"/>
<line x1="339.2" y1="615.5" x2="358.0" y2="615.5" stroke="#8a6a48" stroke-width="1"/>
<path d="M377 557 Q420 543 474 553 L472 560 L475 560 L475 600 L377 600 Z" fill="none" stroke="#8a6c4e" stroke-width="0.8"/>
<path d="M377 557 L380 557 L380 566 L377 566" fill="none" stroke="#8a6c4e" stroke-width="0.7"/>
<line x1="423.0" y1="548.0" x2="423.0" y2="600.0" stroke="#8a6c4e" stroke-width="0.7"/>
<line x1="432.0" y1="548.0" x2="432.0" y2="600.0" stroke="#8a6c4e" stroke-width="0.7"/>
<path d="M385 556 L410.4 556 Q412 556 412 560 L412 596.3 L385 596.3 Z" fill="#ecebf0" stroke="#9c8466" stroke-width="0.7"/>
<path d="M445 556 L470.4 556 Q472 556 472 560 L472 596.3 L445 596.3 Z" fill="#ecebf0" stroke="#9c8466" stroke-width="0.7"/>
<circle cx="392.0" cy="546.0" r="1.3" fill="#6e5440"/>
<circle cx="404.0" cy="545.0" r="1.3" fill="#6e5440"/>
<circle cx="419.0" cy="555.0" r="1.3" fill="#6e5440"/>
<circle cx="426.0" cy="555.0" r="1.3" fill="#6e5440"/>
<circle cx="418.0" cy="560.0" r="1.3" fill="#6e5440"/>
<circle cx="426.0" cy="560.0" r="1.3" fill="#6e5440"/>
<circle cx="418.0" cy="580.0" r="1.3" fill="#6e5440"/>
<circle cx="426.0" cy="580.0" r="1.3" fill="#6e5440"/>
<circle cx="378.5" cy="565.5" r="1.3" fill="#6e5440"/>
<circle cx="472.0" cy="565.5" r="1.3" fill="#6e5440"/>
<circle cx="437.0" cy="545.0" r="1.3" fill="#6e5440"/>
<circle cx="452.0" cy="546.0" r="1.3" fill="#6e5440"/>
<circle cx="381.0" cy="598.0" r="0.9" fill="#6e5440"/>
<circle cx="389.0" cy="598.0" r="0.9" fill="#6e5440"/>
<circle cx="397.0" cy="598.0" r="0.9" fill="#6e5440"/>
<circle cx="405.0" cy="598.0" r="0.9" fill="#6e5440"/>
<circle cx="413.0" cy="598.0" r="0.9" fill="#6e5440"/>
<circle cx="421.0" cy="598.0" r="0.9" fill="#6e5440"/>
<circle cx="429.0" cy="598.0" r="0.9" fill="#6e5440"/>
<circle cx="437.0" cy="598.0" r="0.9" fill="#6e5440"/>
<circle cx="445.0" cy="598.0" r="0.9" fill="#6e5440"/>
<circle cx="453.0" cy="598.0" r="0.9" fill="#6e5440"/>
<circle cx="461.0" cy="598.0" r="0.9" fill="#6e5440"/>
<circle cx="469.0" cy="598.0" r="0.9" fill="#6e5440"/>
<circle cx="478.5" cy="548.0" r="0.6" fill="#b08a60"/>
<circle cx="478.5" cy="552.0" r="0.6" fill="#b08a60"/>
<circle cx="478.5" cy="556.0" r="0.6" fill="#b08a60"/>
<circle cx="478.5" cy="560.0" r="0.6" fill="#b08a60"/>
<circle cx="478.5" cy="564.0" r="0.6" fill="#b08a60"/>
<circle cx="478.5" cy="568.0" r="0.6" fill="#b08a60"/>
<circle cx="478.5" cy="572.0" r="0.6" fill="#b08a60"/>
<circle cx="478.5" cy="576.0" r="0.6" fill="#b08a60"/>
<circle cx="478.5" cy="580.0" r="0.6" fill="#b08a60"/>
<circle cx="478.5" cy="584.0" r="0.6" fill="#b08a60"/>
<circle cx="478.5" cy="588.0" r="0.6" fill="#b08a60"/>
<circle cx="478.5" cy="592.0" r="0.6" fill="#b08a60"/>
<circle cx="478.5" cy="596.0" r="0.6" fill="#b08a60"/>
<circle cx="478.5" cy="600.0" r="0.6" fill="#b08a60"/>
<circle cx="478.5" cy="604.0" r="0.6" fill="#b08a60"/>
<circle cx="478.5" cy="608.0" r="0.6" fill="#b08a60"/>
<circle cx="478.5" cy="612.0" r="0.6" fill="#b08a60"/>
<circle cx="478.5" cy="616.0" r="0.6" fill="#b08a60"/>
<circle cx="478.5" cy="620.0" r="0.6" fill="#b08a60"/>
<circle cx="478.5" cy="624.0" r="0.6" fill="#b08a60"/>
<rect x="340.0" y="580.0" width="18.0" height="17.0" fill="none" stroke="#8a6c4e" stroke-width="0.6"/>
<text x="342" y="591" font-family="Liberation Sans" font-size="2.4" font-weight="normal" fill="#b08050" text-anchor="start">B09</text>
<rect x="365.3" y="609.4" width="117.3" height="24.4" fill="none" stroke="#8a6c4e" stroke-width="0.8"/>
<rect x="367.0" y="610.5" width="8.0" height="22.0" fill="none" stroke="#a08060" stroke-width="0.5"/>
<line x1="368.0" y1="611.0" x2="368.0" y2="632.0" stroke="#c8a884" stroke-width="0.5"/>
<line x1="370.0" y1="611.0" x2="370.0" y2="632.0" stroke="#c8a884" stroke-width="0.5"/>
<line x1="372.0" y1="611.0" x2="372.0" y2="632.0" stroke="#c8a884" stroke-width="0.5"/>
<line x1="374.0" y1="611.0" x2="374.0" y2="632.0" stroke="#c8a884" stroke-width="0.5"/>
<rect x="378.0" y="610.5" width="8.0" height="22.0" fill="none" stroke="#a08060" stroke-width="0.5"/>
<line x1="379.0" y1="611.0" x2="379.0" y2="632.0" stroke="#c8a884" stroke-width="0.5"/>
<line x1="381.0" y1="611.0" x2="381.0" y2="632.0" stroke="#c8a884" stroke-width="0.5"/>
<line x1="383.0" y1="611.0" x2="383.0" y2="632.0" stroke="#c8a884" stroke-width="0.5"/>
<line x1="385.0" y1="611.0" x2="385.0" y2="632.0" stroke="#c8a884" stroke-width="0.5"/>
<rect x="390.0" y="610.5" width="8.0" height="22.0" fill="none" stroke="#a08060" stroke-width="0.5"/>
<line x1="391.0" y1="611.0" x2="391.0" y2="632.0" stroke="#c8a884" stroke-width="0.5"/>
<line x1="393.0" y1="611.0" x2="393.0" y2="632.0" stroke="#c8a884" stroke-width="0.5"/>
<line x1="395.0" y1="611.0" x2="395.0" y2="632.0" stroke="#c8a884" stroke-width="0.5"/>
<line x1="397.0" y1="611.0" x2="397.0" y2="632.0" stroke="#c8a884" stroke-width="0.5"/>
<rect x="441.0" y="610.5" width="9.0" height="22.0" fill="none" stroke="#a08060" stroke-width="0.5"/>
<line x1="442.0" y1="611.0" x2="442.0" y2="632.0" stroke="#c8a884" stroke-width="0.5"/>
<line x1="444.0" y1="611.0" x2="444.0" y2="632.0" stroke="#c8a884" stroke-width="0.5"/>
<line x1="446.0" y1="611.0" x2="446.0" y2="632.0" stroke="#c8a884" stroke-width="0.5"/>
<line x1="448.0" y1="611.0" x2="448.0" y2="632.0" stroke="#c8a884" stroke-width="0.5"/>
<rect x="453.0" y="610.5" width="8.0" height="22.0" fill="none" stroke="#a08060" stroke-width="0.5"/>
<line x1="454.0" y1="611.0" x2="454.0" y2="632.0" stroke="#c8a884" stroke-width="0.5"/>
<line x1="456.0" y1="611.0" x2="456.0" y2="632.0" stroke="#c8a884" stroke-width="0.5"/>
<line x1="458.0" y1="611.0" x2="458.0" y2="632.0" stroke="#c8a884" stroke-width="0.5"/>
<line x1="460.0" y1="611.0" x2="460.0" y2="632.0" stroke="#c8a884" stroke-width="0.5"/>
<rect x="465.0" y="610.5" width="8.0" height="22.0" fill="none" stroke="#a08060" stroke-width="0.5"/>
<line x1="466.0" y1="611.0" x2="466.0" y2="632.0" stroke="#c8a884" stroke-width="0.5"/>
<line x1="468.0" y1="611.0" x2="468.0" y2="632.0" stroke="#c8a884" stroke-width="0.5"/>
<line x1="470.0" y1="611.0" x2="470.0" y2="632.0" stroke="#c8a884" stroke-width="0.5"/>
<line x1="472.0" y1="611.0" x2="472.0" y2="632.0" stroke="#c8a884" stroke-width="0.5"/>
<ellipse cx="471.5" cy="622" rx="1.8" ry="5" fill="#c88a40"/>
<ellipse cx="480" cy="622" rx="1" ry="9" fill="#d8a868"/>
<line x1="365.0" y1="614.0" x2="483.0" y2="614.0" stroke="#b89876" stroke-width="0.5"/>
<line x1="365.0" y1="629.0" x2="483.0" y2="629.0" stroke="#b89876" stroke-width="0.5"/>
<rect x="340.0" y="611.0" width="20.0" height="21.0" fill="none" stroke="#8a6c4e" stroke-width="0.7"/>
<path d="M518 455.3 L511.5 455.3 L511.5 461" fill="none" stroke="#8a6c4e" stroke-width="0.8"/>
<path d="M781 455 L785 455 L785 461" fill="none" stroke="#8a6c4e" stroke-width="0.7"/>
<path d="M785 628 L785 635 L779 635" fill="none" stroke="#8a6c4e" stroke-width="0.7"/>
<line x1="505.0" y1="505.0" x2="509.0" y2="505.0" stroke="#8a6c4e" stroke-width="0.6"/>
<path d="M521.2 457.7 L530 457.7 L530 455.5 L534 455.5 L534 457.7 L546 457.7 L546 455.5 L550 455.5 L550 457.7 L562.4 456 L580 458 L597 461 L615 466 L632 472 L650 478 L660 483 L662 489 L652 488 L640 485 L630 484 L628 500 Q620 520 628 535 L612 530 L600 525 L588 522 L576 517 L566 515 L562 514.7 L550 514.7 L550 517 L546 517 L546 514.7 L530 514.7 L530 517 L526 517 L526 514.7 L521.2 514.7 L521.2 509.2 A18.5 20.6 0 0 0 521.2 468 Z" fill="none" stroke="#8a6c4e" stroke-width="0.8"/>
<path d="M515 477 L529 477 L532 480 L532 494.7 L529 497.7 L515 497.7 L512 494.7 L512 491 L510 491 L510 489 L512 489 L512 485 L510 485 L510 483 L512 483 L512 480 Z" fill="none" stroke="#8a6c4e" stroke-width="0.7"/>
<rect x="515.0" y="486.0" width="6.5" height="2.4" fill="#bcb2b2" stroke="#7a6654" stroke-width="0.5" rx="0.8"/>
<rect x="521.1" y="486.0" width="1.8" height="2.4" fill="#6e5440" rx="0.6"/>
<circle cx="528.0" cy="465.5" r="1.6" fill="#8a7a74"/>
<circle cx="531.0" cy="508.0" r="1.6" fill="#8a7a74"/>
<path d="M543 463 C549 470 553 480 550 490 C548 498 545 504 541.5 509 C543 500 545 492 544.5 485 C544 478 540 470 543 463 Z" fill="#a49ca6" stroke="#4e4040" stroke-width="0.7"/>
<path d="M547.5 468 C552 474 554 480 552 487 C551 481 549 475 547.5 468 Z" fill="#a49ca6" stroke="#4e4040" stroke-width="0.7"/>
<path d="M542 472 C545 476 546 481 545 486 C543 482 542 477 542 472 Z" fill="#a49ca6" stroke="#4e4040" stroke-width="0.7"/>
<path d="M634.4 479.4 C631 486 626 492 624 500 C622 508 622 514 621.3 521 C619 512 619 504 621 497 C624 490 629 484 634.4 479.4 Z" fill="#a49ca6" stroke="#4e4040" stroke-width="0.7"/>
<path d="M631 486 C633 490 632 495 628 499 C629 494 630 490 631 486 Z" fill="#a49ca6" stroke="#4e4040" stroke-width="0.7"/>
<path d="M626 488 C627 492 625 496 622 499 C623 495 624 491 626 488 Z" fill="#a49ca6" stroke="#4e4040" stroke-width="0.7"/>
<rect x="560.0" y="456.5" width="13.3" height="57.5" fill="#ead2ae" stroke="#9a7a54" stroke-width="0.6"/>
<line x1="561.0" y1="457.0" x2="561.0" y2="513.5" stroke="#c8a47a" stroke-width="0.5"/>
<line x1="562.5" y1="457.0" x2="562.5" y2="513.5" stroke="#c8a47a" stroke-width="0.5"/>
<line x1="564.0" y1="457.0" x2="564.0" y2="513.5" stroke="#c8a47a" stroke-width="0.5"/>
<line x1="565.5" y1="457.0" x2="565.5" y2="513.5" stroke="#c8a47a" stroke-width="0.5"/>
<line x1="567.0" y1="457.0" x2="567.0" y2="513.5" stroke="#c8a47a" stroke-width="0.5"/>
<line x1="568.5" y1="457.0" x2="568.5" y2="513.5" stroke="#c8a47a" stroke-width="0.5"/>
<line x1="570.0" y1="457.0" x2="570.0" y2="513.5" stroke="#c8a47a" stroke-width="0.5"/>
<line x1="571.5" y1="457.0" x2="571.5" y2="513.5" stroke="#c8a47a" stroke-width="0.5"/>
<line x1="573.0" y1="457.0" x2="573.0" y2="513.5" stroke="#c8a47a" stroke-width="0.5"/>
<path d="M605 465.6 L621.9 468.8 L605.6 522 L595 520 Z" fill="#e8cfa8" stroke="#8a6a48" stroke-width="0.6"/>
<line x1="604.7" y1="467.0" x2="622.5" y2="467.5" stroke="#a87c4c" stroke-width="0.6" stroke-dasharray="1 0.8"/>
<line x1="604.3" y1="469.3" x2="621.7" y2="469.8" stroke="#a87c4c" stroke-width="0.6" stroke-dasharray="1 0.8"/>
<line x1="603.9" y1="471.6" x2="621.0" y2="472.1" stroke="#a87c4c" stroke-width="0.6" stroke-dasharray="1 0.8"/>
<line x1="603.4" y1="473.9" x2="620.3" y2="474.4" stroke="#a87c4c" stroke-width="0.6" stroke-dasharray="1 0.8"/>
<line x1="603.0" y1="476.2" x2="619.6" y2="476.7" stroke="#a87c4c" stroke-width="0.6" stroke-dasharray="1 0.8"/>
<line x1="602.5" y1="478.5" x2="618.9" y2="479.0" stroke="#a87c4c" stroke-width="0.6" stroke-dasharray="1 0.8"/>
<line x1="602.1" y1="480.8" x2="618.2" y2="481.3" stroke="#a87c4c" stroke-width="0.6" stroke-dasharray="1 0.8"/>
<line x1="601.7" y1="483.1" x2="617.5" y2="483.6" stroke="#a87c4c" stroke-width="0.6" stroke-dasharray="1 0.8"/>
<line x1="601.2" y1="485.4" x2="616.8" y2="485.9" stroke="#a87c4c" stroke-width="0.6" stroke-dasharray="1 0.8"/>
<line x1="600.8" y1="487.7" x2="616.1" y2="488.2" stroke="#a87c4c" stroke-width="0.6" stroke-dasharray="1 0.8"/>
<line x1="600.4" y1="490.0" x2="615.4" y2="490.5" stroke="#a87c4c" stroke-width="0.6" stroke-dasharray="1 0.8"/>
<line x1="599.9" y1="492.3" x2="614.7" y2="492.8" stroke="#a87c4c" stroke-width="0.6" stroke-dasharray="1 0.8"/>
<line x1="599.5" y1="494.6" x2="614.0" y2="495.1" stroke="#a87c4c" stroke-width="0.6" stroke-dasharray="1 0.8"/>
<line x1="599.1" y1="496.9" x2="613.3" y2="497.4" stroke="#a87c4c" stroke-width="0.6" stroke-dasharray="1 0.8"/>
<line x1="598.6" y1="499.2" x2="612.6" y2="499.7" stroke="#a87c4c" stroke-width="0.6" stroke-dasharray="1 0.8"/>
<line x1="598.2" y1="501.5" x2="611.9" y2="502.0" stroke="#a87c4c" stroke-width="0.6" stroke-dasharray="1 0.8"/>
<line x1="597.7" y1="503.8" x2="611.2" y2="504.3" stroke="#a87c4c" stroke-width="0.6" stroke-dasharray="1 0.8"/>
<line x1="597.3" y1="506.1" x2="610.4" y2="506.6" stroke="#a87c4c" stroke-width="0.6" stroke-dasharray="1 0.8"/>
<line x1="596.9" y1="508.4" x2="609.7" y2="508.9" stroke="#a87c4c" stroke-width="0.6" stroke-dasharray="1 0.8"/>
<line x1="596.4" y1="510.7" x2="609.0" y2="511.2" stroke="#a87c4c" stroke-width="0.6" stroke-dasharray="1 0.8"/>
<line x1="596.0" y1="513.0" x2="608.3" y2="513.5" stroke="#a87c4c" stroke-width="0.6" stroke-dasharray="1 0.8"/>
<line x1="595.6" y1="515.3" x2="607.6" y2="515.8" stroke="#a87c4c" stroke-width="0.6" stroke-dasharray="1 0.8"/>
<line x1="595.1" y1="517.6" x2="606.9" y2="518.1" stroke="#a87c4c" stroke-width="0.6" stroke-dasharray="1 0.8"/>
<line x1="594.7" y1="519.9" x2="606.2" y2="520.4" stroke="#a87c4c" stroke-width="0.6" stroke-dasharray="1 0.8"/>
<path d="M640 455 L690 455 L694 458 L694 466 L686 470 L676 472 L668 476 Q660 482 650 476 L640 470 L630 466 L625 461 Z" fill="none" stroke="#8a6c4e" stroke-width="0.7"/>
<rect x="640.0" y="456.3" width="8.0" height="6.7" fill="#ecebf0" stroke="#9c8466" stroke-width="0.7" rx="0.8"/>
<rect x="653.8" y="456.3" width="15.0" height="6.7" fill="#ecebf0" stroke="#9c8466" stroke-width="0.7" rx="0.8"/>
<rect x="671.3" y="456.3" width="9.7" height="6.7" fill="#ecebf0" stroke="#9c8466" stroke-width="0.7" rx="0.8"/>
<rect x="660.0" y="468.0" width="3.0" height="6.0" fill="#bcb2b2" stroke="#7a6654" stroke-width="0.5" rx="0.8"/>
<rect x="660.0" y="479.0" width="22.0" height="26.0" fill="none" stroke="#8a6c4e" stroke-width="0.7"/>
<rect x="662.5" y="483.8" width="10.5" height="3.7" fill="#ecebf0" stroke="#9c8466" stroke-width="0.7" rx="0.8"/>
<rect x="662.5" y="491.3" width="10.5" height="11.2" fill="#ecebf0" stroke="#9c8466" stroke-width="0.7" rx="0.8"/>
<circle cx="677.5" cy="483.8" r="1.3" fill="#5a4030"/>
<circle cx="648.0" cy="486.9" r="1.4" fill="#6e5440"/>
<path d="M671 487 L676 493 L671 497 L676 501" fill="none" stroke="#6e6070" stroke-width="1"/>
<rect x="644.4" y="507.5" width="52.0" height="26.0" fill="none" stroke="#8a6c4e" stroke-width="0.7"/>
<rect x="647.5" y="511.9" width="11.9" height="11.9" fill="#ecebf0" stroke="#9c8466" stroke-width="0.7" rx="0.8"/>
<rect x="647.5" y="525.0" width="11.9" height="6.3" fill="#ecebf0" stroke="#9c8466" stroke-width="0.7" rx="0.8"/>
<rect x="673.0" y="523.8" width="6.4" height="5.0" fill="#ecebf0" stroke="#9c8466" stroke-width="0.7" rx="0.8"/>
<circle cx="677.5" cy="515.6" r="1.3" fill="#5a4030"/>
<circle cx="662.0" cy="531.0" r="1.2" fill="#5a4030"/>
<circle cx="670.0" cy="531.0" r="1.2" fill="#5a4030"/>
<circle cx="678.0" cy="531.0" r="1.2" fill="#5a4030"/>
<path d="M665 511 L670 518 L667 521 L672 527" fill="none" stroke="#6e6070" stroke-width="0.9"/>
<path d="M630 500 Q634 520 650 534" fill="none" stroke="#8a6c4e" stroke-width="0.7"/>
<path d="M702.4 458.3 L712 458.3 L712 456 L740 456 L740 458.3 L748.8 458.3 L748.8 468 L751 468 L751 474 L748.8 474 L748.8 505 L746 508 L746 513.5 L705 513.5 L705 508 L702.4 505 Z" fill="none" stroke="#8a6c4e" stroke-width="0.7"/>
<path d="M709.8 468.4 L719.5 482.6 L719.5 505.4" fill="none" stroke="#4e3a2c" stroke-width="1.5" stroke-linecap="round"/>
<path d="M741.5 468.4 L732.5 482.6 L732.5 505.4" fill="none" stroke="#4e3a2c" stroke-width="1.5" stroke-linecap="round"/>
<rect x="716.0" y="466.4" width="20.0" height="2.8" fill="#c4bec6" stroke="#6e5a50" stroke-width="0.4"/>
<rect x="719.0" y="471.7" width="14.0" height="2.3" fill="#c4bec6" stroke="#6e5a50" stroke-width="0.4"/>
<ellipse cx="726" cy="478" rx="0.9" ry="1.4" fill="#4e3a2c"/>
<ellipse cx="726" cy="484" rx="0.9" ry="1.4" fill="#4e3a2c"/>
<ellipse cx="726" cy="494" rx="0.9" ry="1.4" fill="#4e3a2c"/>
<line x1="724.5" y1="500.0" x2="727.5" y2="498.0" stroke="#4e3a2c" stroke-width="1.1"/>
<line x1="724.5" y1="503.5" x2="727.5" y2="501.5" stroke="#4e3a2c" stroke-width="1.1"/>
<line x1="724.5" y1="507.0" x2="727.5" y2="505.0" stroke="#4e3a2c" stroke-width="1.1"/>
<line x1="724.5" y1="510.5" x2="727.5" y2="508.5" stroke="#4e3a2c" stroke-width="1.1"/>
<rect x="713.0" y="488.3" width="6.5" height="2.4" fill="#bcb2b2" stroke="#7a6654" stroke-width="0.5" rx="0.8"/>
<rect x="735.8" y="488.3" width="6.1" height="2.4" fill="#bcb2b2" stroke="#7a6654" stroke-width="0.5" rx="0.8"/>
<circle cx="762.3" cy="468.5" r="7.0" fill="#efdcc0" stroke="#8a6c4e" stroke-width="0.9"/>
<rect x="761.3" y="465.5" width="2.0" height="6.0" fill="#5e4a3a"/>
<circle cx="776.3" cy="468.5" r="7.0" fill="#efdcc0" stroke="#8a6c4e" stroke-width="0.9"/>
<rect x="775.3" y="465.5" width="2.0" height="6.0" fill="#5e4a3a"/>
<circle cx="762.3" cy="481.6" r="7.0" fill="#efdcc0" stroke="#8a6c4e" stroke-width="0.9"/>
<rect x="761.3" y="478.6" width="2.0" height="6.0" fill="#5e4a3a"/>
<circle cx="776.3" cy="481.6" r="7.0" fill="#efdcc0" stroke="#8a6c4e" stroke-width="0.9"/>
<rect x="775.3" y="478.6" width="2.0" height="6.0" fill="#5e4a3a"/>
<path d="M769.3 472 L772.5 475 L769.3 478 L766 475 Z" fill="#d8d2da"/>
<circle cx="762.0" cy="498.5" r="7.0" fill="#efdcc0" stroke="#6e4e30" stroke-width="1.2" stroke-dasharray="1.3 1"/>
<rect x="761.0" y="495.5" width="2.0" height="6.0" fill="#5e4a3a"/>
<circle cx="776.0" cy="498.5" r="7.0" fill="#efdcc0" stroke="#6e4e30" stroke-width="1.2" stroke-dasharray="1.3 1"/>
<rect x="775.0" y="495.5" width="2.0" height="6.0" fill="#5e4a3a"/>
<circle cx="762.0" cy="511.6" r="7.0" fill="#efdcc0" stroke="#6e4e30" stroke-width="1.2" stroke-dasharray="1.3 1"/>
<rect x="761.0" y="508.6" width="2.0" height="6.0" fill="#5e4a3a"/>
<circle cx="776.0" cy="511.6" r="7.0" fill="#efdcc0" stroke="#6e4e30" stroke-width="1.2" stroke-dasharray="1.3 1"/>
<rect x="775.0" y="508.6" width="2.0" height="6.0" fill="#5e4a3a"/>
<path d="M769 502 L772.3 505 L769 508 L765.7 505 Z" fill="#d8d2da"/>
<line x1="787.0" y1="504.0" x2="790.0" y2="504.0" stroke="#8a6c4e" stroke-width="0.6"/>
<path d="M742 521.5 L782 521.5 Q786.3 521.5 786.3 526 L786.3 560 Q786.3 564.6 782 564.6 L742 564.6 Q739 564.6 739 561 L739 548 Q733 543 739 538 L739 525 Q739 521.5 742 521.5 Z" fill="none" stroke="#8a6c4e" stroke-width="0.7"/>
<rect x="746.0" y="528.0" width="34.6" height="4.3" fill="#ecebf0" stroke="#9c8466" stroke-width="0.7" rx="0.8"/>
<rect x="746.0" y="536.9" width="34.6" height="4.1" fill="#ecebf0" stroke="#9c8466" stroke-width="0.7" rx="0.8"/>
<rect x="746.0" y="545.5" width="34.6" height="4.0" fill="#ecebf0" stroke="#9c8466" stroke-width="0.7" rx="0.8"/>
<rect x="746.0" y="553.9" width="34.6" height="4.3" fill="#ecebf0" stroke="#9c8466" stroke-width="0.7" rx="0.8"/>
<circle cx="741.0" cy="543.0" r="1.5" fill="#5a4030"/>
<circle cx="785.0" cy="535.0" r="1.3" fill="#5a4030"/>
<circle cx="785.0" cy="552.0" r="1.3" fill="#5a4030"/>
<path d="M688 516.5 L703 516.5 L703 519.5 L700 519.5 L700 560 L697.2 560 L697.2 519.5 L688 519.5 Z" fill="none" stroke="#8a6c4e" stroke-width="0.7"/>
<path d="M713.8 519.3 L734.6 519.3 L734.6 522.3 L727.4 522.3 L727.4 562 L723 562 L723 522.3 L713.8 522.3 Z" fill="none" stroke="#8a6c4e" stroke-width="0.7"/>
<rect x="701.2" y="548.0" width="3.6" height="8.0" fill="none" stroke="#6e5440" stroke-width="0.7" rx="1.5"/>
<rect x="708.2" y="546.0" width="3.6" height="10.0" fill="none" stroke="#6e5440" stroke-width="0.7" rx="1.5"/>
<rect x="717.2" y="550.0" width="3.6" height="10.0" fill="none" stroke="#6e5440" stroke-width="0.7" rx="1.5"/>
<rect x="704.2" y="530.0" width="3.6" height="8.0" fill="none" stroke="#6e5440" stroke-width="0.7" rx="1.5"/>
<rect x="714.2" y="530.0" width="3.6" height="6.0" fill="none" stroke="#6e5440" stroke-width="0.7" rx="1.5"/>
<rect x="701.5" y="552.4" width="2.8" height="9.0" fill="#5e4636"/>
<rect x="721.0" y="555.0" width="2.4" height="8.0" fill="#5e4636"/>
<circle cx="708.0" cy="571.0" r="1.8" fill="#ecebf0"/>
<circle cx="712.0" cy="571.0" r="1.3" fill="#5a4030"/>
<rect x="512.1" y="520.9" width="78.2" height="30.9" fill="#e8cda4" stroke="#8a6a48" stroke-width="0.7"/>
<rect x="512.6" y="521.4" width="2.6" height="29.9" fill="#e2c49a"/>
<line x1="515.2" y1="521.4" x2="515.2" y2="551.3" stroke="#a88058" stroke-width="0.5"/>
<rect x="515.8" y="521.4" width="2.6" height="29.9" fill="#eed8b6"/>
<line x1="518.4" y1="521.4" x2="518.4" y2="551.3" stroke="#a88058" stroke-width="0.5"/>
<rect x="519.0" y="521.4" width="2.6" height="29.9" fill="#dcbc90"/>
<line x1="521.6" y1="521.4" x2="521.6" y2="551.3" stroke="#a88058" stroke-width="0.5"/>
<rect x="522.2" y="521.4" width="2.6" height="29.9" fill="#e8cea8"/>
<line x1="524.8" y1="521.4" x2="524.8" y2="551.3" stroke="#a88058" stroke-width="0.5"/>
<rect x="525.4" y="521.4" width="2.6" height="29.9" fill="#e2c49a"/>
<line x1="528.0" y1="521.4" x2="528.0" y2="551.3" stroke="#a88058" stroke-width="0.5"/>
<rect x="528.6" y="521.4" width="2.6" height="29.9" fill="#eed8b6"/>
<line x1="531.2" y1="521.4" x2="531.2" y2="551.3" stroke="#a88058" stroke-width="0.5"/>
<rect x="531.8" y="521.4" width="2.6" height="29.9" fill="#dcbc90"/>
<line x1="534.4" y1="521.4" x2="534.4" y2="551.3" stroke="#a88058" stroke-width="0.5"/>
<rect x="535.0" y="521.4" width="2.6" height="29.9" fill="#e8cea8"/>
<line x1="537.6" y1="521.4" x2="537.6" y2="551.3" stroke="#a88058" stroke-width="0.5"/>
<rect x="538.2" y="521.4" width="2.6" height="29.9" fill="#e2c49a"/>
<line x1="540.8" y1="521.4" x2="540.8" y2="551.3" stroke="#a88058" stroke-width="0.5"/>
<rect x="541.4" y="521.4" width="2.6" height="29.9" fill="#eed8b6"/>
<line x1="544.0" y1="521.4" x2="544.0" y2="551.3" stroke="#a88058" stroke-width="0.5"/>
<rect x="544.6" y="521.4" width="2.6" height="29.9" fill="#dcbc90"/>
<line x1="547.2" y1="521.4" x2="547.2" y2="551.3" stroke="#a88058" stroke-width="0.5"/>
<rect x="547.8" y="521.4" width="2.6" height="29.9" fill="#e8cea8"/>
<line x1="550.4" y1="521.4" x2="550.4" y2="551.3" stroke="#a88058" stroke-width="0.5"/>
<rect x="551.0" y="521.4" width="2.6" height="29.9" fill="#e2c49a"/>
<line x1="553.6" y1="521.4" x2="553.6" y2="551.3" stroke="#a88058" stroke-width="0.5"/>
<rect x="554.2" y="521.4" width="2.6" height="29.9" fill="#eed8b6"/>
<line x1="556.8" y1="521.4" x2="556.8" y2="551.3" stroke="#a88058" stroke-width="0.5"/>
<rect x="557.4" y="521.4" width="2.6" height="29.9" fill="#dcbc90"/>
<line x1="560.0" y1="521.4" x2="560.0" y2="551.3" stroke="#a88058" stroke-width="0.5"/>
<rect x="560.6" y="521.4" width="2.6" height="29.9" fill="#e8cea8"/>
<line x1="563.2" y1="521.4" x2="563.2" y2="551.3" stroke="#a88058" stroke-width="0.5"/>
<rect x="563.8" y="521.4" width="2.6" height="29.9" fill="#e2c49a"/>
<line x1="566.4" y1="521.4" x2="566.4" y2="551.3" stroke="#a88058" stroke-width="0.5"/>
<rect x="567.0" y="521.4" width="2.6" height="29.9" fill="#eed8b6"/>
<line x1="569.6" y1="521.4" x2="569.6" y2="551.3" stroke="#a88058" stroke-width="0.5"/>
<rect x="570.2" y="521.4" width="2.6" height="29.9" fill="#dcbc90"/>
<line x1="572.8" y1="521.4" x2="572.8" y2="551.3" stroke="#a88058" stroke-width="0.5"/>
<rect x="573.4" y="521.4" width="2.6" height="29.9" fill="#e8cea8"/>
<line x1="576.0" y1="521.4" x2="576.0" y2="551.3" stroke="#a88058" stroke-width="0.5"/>
<rect x="576.6" y="521.4" width="2.6" height="29.9" fill="#e2c49a"/>
<line x1="579.2" y1="521.4" x2="579.2" y2="551.3" stroke="#a88058" stroke-width="0.5"/>
<rect x="579.8" y="521.4" width="2.6" height="29.9" fill="#eed8b6"/>
<line x1="582.4" y1="521.4" x2="582.4" y2="551.3" stroke="#a88058" stroke-width="0.5"/>
<rect x="583.0" y="521.4" width="2.6" height="29.9" fill="#dcbc90"/>
<line x1="585.6" y1="521.4" x2="585.6" y2="551.3" stroke="#a88058" stroke-width="0.5"/>
<rect x="586.2" y="521.4" width="2.6" height="29.9" fill="#e8cea8"/>
<line x1="588.8" y1="521.4" x2="588.8" y2="551.3" stroke="#a88058" stroke-width="0.5"/>
<rect x="512.1" y="537.3" width="16.0" height="2.6" fill="#8a8088"/>
<rect x="529.1" y="537.3" width="39.5" height="2.6" fill="#c4bcc6" stroke="#7a6a70" stroke-width="0.4"/>
<rect x="570.3" y="537.3" width="20.0" height="2.6" fill="#a8a0aa"/>
<rect x="512.6" y="532.9" width="2.5" height="8.0" fill="#7a5230"/>
<rect x="523.1" y="535.9" width="2.5" height="9.0" fill="#5a3a20"/>
<rect x="582.3" y="524.9" width="2.5" height="9.0" fill="#7a5230"/>
<rect x="512.1" y="558.5" width="78.2" height="32.1" fill="#e8cda4" stroke="#8a6a48" stroke-width="0.7"/>
<rect x="512.6" y="559.0" width="2.6" height="31.1" fill="#e2c49a"/>
<line x1="515.2" y1="559.0" x2="515.2" y2="590.1" stroke="#a88058" stroke-width="0.5"/>
<rect x="515.8" y="559.0" width="2.6" height="31.1" fill="#eed8b6"/>
<line x1="518.4" y1="559.0" x2="518.4" y2="590.1" stroke="#a88058" stroke-width="0.5"/>
<rect x="519.0" y="559.0" width="2.6" height="31.1" fill="#dcbc90"/>
<line x1="521.6" y1="559.0" x2="521.6" y2="590.1" stroke="#a88058" stroke-width="0.5"/>
<rect x="522.2" y="559.0" width="2.6" height="31.1" fill="#e8cea8"/>
<line x1="524.8" y1="559.0" x2="524.8" y2="590.1" stroke="#a88058" stroke-width="0.5"/>
<rect x="525.4" y="559.0" width="2.6" height="31.1" fill="#e2c49a"/>
<line x1="528.0" y1="559.0" x2="528.0" y2="590.1" stroke="#a88058" stroke-width="0.5"/>
<rect x="528.6" y="559.0" width="2.6" height="31.1" fill="#eed8b6"/>
<line x1="531.2" y1="559.0" x2="531.2" y2="590.1" stroke="#a88058" stroke-width="0.5"/>
<rect x="531.8" y="559.0" width="2.6" height="31.1" fill="#dcbc90"/>
<line x1="534.4" y1="559.0" x2="534.4" y2="590.1" stroke="#a88058" stroke-width="0.5"/>
<rect x="535.0" y="559.0" width="2.6" height="31.1" fill="#e8cea8"/>
<line x1="537.6" y1="559.0" x2="537.6" y2="590.1" stroke="#a88058" stroke-width="0.5"/>
<rect x="538.2" y="559.0" width="2.6" height="31.1" fill="#e2c49a"/>
<line x1="540.8" y1="559.0" x2="540.8" y2="590.1" stroke="#a88058" stroke-width="0.5"/>
<rect x="541.4" y="559.0" width="2.6" height="31.1" fill="#eed8b6"/>
<line x1="544.0" y1="559.0" x2="544.0" y2="590.1" stroke="#a88058" stroke-width="0.5"/>
<rect x="544.6" y="559.0" width="2.6" height="31.1" fill="#dcbc90"/>
<line x1="547.2" y1="559.0" x2="547.2" y2="590.1" stroke="#a88058" stroke-width="0.5"/>
<rect x="547.8" y="559.0" width="2.6" height="31.1" fill="#e8cea8"/>
<line x1="550.4" y1="559.0" x2="550.4" y2="590.1" stroke="#a88058" stroke-width="0.5"/>
<rect x="551.0" y="559.0" width="2.6" height="31.1" fill="#e2c49a"/>
<line x1="553.6" y1="559.0" x2="553.6" y2="590.1" stroke="#a88058" stroke-width="0.5"/>
<rect x="554.2" y="559.0" width="2.6" height="31.1" fill="#eed8b6"/>
<line x1="556.8" y1="559.0" x2="556.8" y2="590.1" stroke="#a88058" stroke-width="0.5"/>
<rect x="557.4" y="559.0" width="2.6" height="31.1" fill="#dcbc90"/>
<line x1="560.0" y1="559.0" x2="560.0" y2="590.1" stroke="#a88058" stroke-width="0.5"/>
<rect x="560.6" y="559.0" width="2.6" height="31.1" fill="#e8cea8"/>
<line x1="563.2" y1="559.0" x2="563.2" y2="590.1" stroke="#a88058" stroke-width="0.5"/>
<rect x="563.8" y="559.0" width="2.6" height="31.1" fill="#e2c49a"/>
<line x1="566.4" y1="559.0" x2="566.4" y2="590.1" stroke="#a88058" stroke-width="0.5"/>
<rect x="567.0" y="559.0" width="2.6" height="31.1" fill="#eed8b6"/>
<line x1="569.6" y1="559.0" x2="569.6" y2="590.1" stroke="#a88058" stroke-width="0.5"/>
<rect x="570.2" y="559.0" width="2.6" height="31.1" fill="#dcbc90"/>
<line x1="572.8" y1="559.0" x2="572.8" y2="590.1" stroke="#a88058" stroke-width="0.5"/>
<rect x="573.4" y="559.0" width="2.6" height="31.1" fill="#e8cea8"/>
<line x1="576.0" y1="559.0" x2="576.0" y2="590.1" stroke="#a88058" stroke-width="0.5"/>
<rect x="576.6" y="559.0" width="2.6" height="31.1" fill="#e2c49a"/>
<line x1="579.2" y1="559.0" x2="579.2" y2="590.1" stroke="#a88058" stroke-width="0.5"/>
<rect x="579.8" y="559.0" width="2.6" height="31.1" fill="#eed8b6"/>
<line x1="582.4" y1="559.0" x2="582.4" y2="590.1" stroke="#a88058" stroke-width="0.5"/>
<rect x="583.0" y="559.0" width="2.6" height="31.1" fill="#dcbc90"/>
<line x1="585.6" y1="559.0" x2="585.6" y2="590.1" stroke="#a88058" stroke-width="0.5"/>
<rect x="586.2" y="559.0" width="2.6" height="31.1" fill="#e8cea8"/>
<line x1="588.8" y1="559.0" x2="588.8" y2="590.1" stroke="#a88058" stroke-width="0.5"/>
<rect x="512.1" y="573.0" width="16.0" height="3.4" fill="#8a8088"/>
<rect x="529.1" y="573.0" width="39.5" height="3.4" fill="#c4bcc6" stroke="#7a6a70" stroke-width="0.4"/>
<rect x="570.3" y="573.0" width="20.0" height="3.4" fill="#a8a0aa"/>
<rect x="512.6" y="570.5" width="2.5" height="8.0" fill="#7a5230"/>
<rect x="523.1" y="573.5" width="2.5" height="9.0" fill="#5a3a20"/>
<rect x="582.3" y="562.5" width="2.5" height="9.0" fill="#7a5230"/>
<line x1="512.0" y1="555.0" x2="590.0" y2="555.0" stroke="#8a6c4e" stroke-width="0.6"/>
<path d="M604 537 L618 537 L618 540.6 L661 540.6 L661 590 L618 590 L618 586 L604 586 Z" fill="none" stroke="#8a6c4e" stroke-width="0.7"/>
<rect x="622.5" y="545.0" width="34.4" height="38.1" fill="#5a4030"/>
<circle cx="623.8" cy="546.3" r="0.7" fill="#b89a78"/>
<circle cx="626.0" cy="546.3" r="0.7" fill="#b89a78"/>
<circle cx="628.2" cy="546.3" r="0.7" fill="#b89a78"/>
<circle cx="630.4" cy="546.3" r="0.7" fill="#b89a78"/>
<circle cx="632.6" cy="546.3" r="0.7" fill="#b89a78"/>
<circle cx="634.8" cy="546.3" r="0.7" fill="#b89a78"/>
<circle cx="637.0" cy="546.3" r="0.7" fill="#b89a78"/>
<circle cx="639.2" cy="546.3" r="0.7" fill="#b89a78"/>
<circle cx="641.4" cy="546.3" r="0.7" fill="#b89a78"/>
<circle cx="643.6" cy="546.3" r="0.7" fill="#b89a78"/>
<circle cx="645.8" cy="546.3" r="0.7" fill="#b89a78"/>
<circle cx="648.0" cy="546.3" r="0.7" fill="#b89a78"/>
<circle cx="650.2" cy="546.3" r="0.7" fill="#b89a78"/>
<circle cx="652.4" cy="546.3" r="0.7" fill="#b89a78"/>
<circle cx="654.6" cy="546.3" r="0.7" fill="#b89a78"/>
<circle cx="624.9" cy="548.5" r="0.7" fill="#b89a78"/>
<circle cx="627.1" cy="548.5" r="0.7" fill="#b89a78"/>
<circle cx="629.3" cy="548.5" r="0.7" fill="#b89a78"/>
<circle cx="631.5" cy="548.5" r="0.7" fill="#b89a78"/>
<circle cx="633.7" cy="548.5" r="0.7" fill="#b89a78"/>
<circle cx="635.9" cy="548.5" r="0.7" fill="#b89a78"/>
<circle cx="638.1" cy="548.5" r="0.7" fill="#b89a78"/>
<circle cx="640.3" cy="548.5" r="0.7" fill="#b89a78"/>
<circle cx="642.5" cy="548.5" r="0.7" fill="#b89a78"/>
<circle cx="644.7" cy="548.5" r="0.7" fill="#b89a78"/>
<circle cx="646.9" cy="548.5" r="0.7" fill="#b89a78"/>
<circle cx="649.1" cy="548.5" r="0.7" fill="#b89a78"/>
<circle cx="651.3" cy="548.5" r="0.7" fill="#b89a78"/>
<circle cx="653.5" cy="548.5" r="0.7" fill="#b89a78"/>
<circle cx="655.7" cy="548.5" r="0.7" fill="#b89a78"/>
<circle cx="623.8" cy="550.7" r="0.7" fill="#b89a78"/>
<circle cx="626.0" cy="550.7" r="0.7" fill="#b89a78"/>
<circle cx="628.2" cy="550.7" r="0.7" fill="#b89a78"/>
<circle cx="630.4" cy="550.7" r="0.7" fill="#b89a78"/>
<circle cx="632.6" cy="550.7" r="0.7" fill="#b89a78"/>
<circle cx="634.8" cy="550.7" r="0.7" fill="#b89a78"/>
<circle cx="637.0" cy="550.7" r="0.7" fill="#b89a78"/>
<circle cx="639.2" cy="550.7" r="0.7" fill="#b89a78"/>
<circle cx="641.4" cy="550.7" r="0.7" fill="#b89a78"/>
<circle cx="643.6" cy="550.7" r="0.7" fill="#b89a78"/>
<circle cx="645.8" cy="550.7" r="0.7" fill="#b89a78"/>
<circle cx="648.0" cy="550.7" r="0.7" fill="#b89a78"/>
<circle cx="650.2" cy="550.7" r="0.7" fill="#b89a78"/>
<circle cx="652.4" cy="550.7" r="0.7" fill="#b89a78"/>
<circle cx="654.6" cy="550.7" r="0.7" fill="#b89a78"/>
<circle cx="624.9" cy="552.9" r="0.7" fill="#b89a78"/>
<circle cx="627.1" cy="552.9" r="0.7" fill="#b89a78"/>
<circle cx="629.3" cy="552.9" r="0.7" fill="#b89a78"/>
<circle cx="631.5" cy="552.9" r="0.7" fill="#b89a78"/>
<circle cx="633.7" cy="552.9" r="0.7" fill="#b89a78"/>
<circle cx="635.9" cy="552.9" r="0.7" fill="#b89a78"/>
<circle cx="638.1" cy="552.9" r="0.7" fill="#b89a78"/>
<circle cx="640.3" cy="552.9" r="0.7" fill="#b89a78"/>
<circle cx="642.5" cy="552.9" r="0.7" fill="#b89a78"/>
<circle cx="644.7" cy="552.9" r="0.7" fill="#b89a78"/>
<circle cx="646.9" cy="552.9" r="0.7" fill="#b89a78"/>
<circle cx="649.1" cy="552.9" r="0.7" fill="#b89a78"/>
<circle cx="651.3" cy="552.9" r="0.7" fill="#b89a78"/>
<circle cx="653.5" cy="552.9" r="0.7" fill="#b89a78"/>
<circle cx="655.7" cy="552.9" r="0.7" fill="#b89a78"/>
<circle cx="623.8" cy="555.1" r="0.7" fill="#b89a78"/>
<circle cx="626.0" cy="555.1" r="0.7" fill="#b89a78"/>
<circle cx="628.2" cy="555.1" r="0.7" fill="#b89a78"/>
<circle cx="630.4" cy="555.1" r="0.7" fill="#b89a78"/>
<circle cx="632.6" cy="555.1" r="0.7" fill="#b89a78"/>
<circle cx="634.8" cy="555.1" r="0.7" fill="#b89a78"/>
<circle cx="637.0" cy="555.1" r="0.7" fill="#b89a78"/>
<circle cx="639.2" cy="555.1" r="0.7" fill="#b89a78"/>
<circle cx="641.4" cy="555.1" r="0.7" fill="#b89a78"/>
<circle cx="643.6" cy="555.1" r="0.7" fill="#b89a78"/>
<circle cx="645.8" cy="555.1" r="0.7" fill="#b89a78"/>
<circle cx="648.0" cy="555.1" r="0.7" fill="#b89a78"/>
<circle cx="650.2" cy="555.1" r="0.7" fill="#b89a78"/>
<circle cx="652.4" cy="555.1" r="0.7" fill="#b89a78"/>
<circle cx="654.6" cy="555.1" r="0.7" fill="#b89a78"/>
<circle cx="624.9" cy="557.3" r="0.7" fill="#b89a78"/>
<circle cx="627.1" cy="557.3" r="0.7" fill="#b89a78"/>
<circle cx="629.3" cy="557.3" r="0.7" fill="#b89a78"/>
<circle cx="631.5" cy="557.3" r="0.7" fill="#b89a78"/>
<circle cx="633.7" cy="557.3" r="0.7" fill="#b89a78"/>
<circle cx="635.9" cy="557.3" r="0.7" fill="#b89a78"/>
<circle cx="638.1" cy="557.3" r="0.7" fill="#b89a78"/>
<circle cx="640.3" cy="557.3" r="0.7" fill="#b89a78"/>
<circle cx="642.5" cy="557.3" r="0.7" fill="#b89a78"/>
<circle cx="644.7" cy="557.3" r="0.7" fill="#b89a78"/>
<circle cx="646.9" cy="557.3" r="0.7" fill="#b89a78"/>
<circle cx="649.1" cy="557.3" r="0.7" fill="#b89a78"/>
<circle cx="651.3" cy="557.3" r="0.7" fill="#b89a78"/>
<circle cx="653.5" cy="557.3" r="0.7" fill="#b89a78"/>
<circle cx="655.7" cy="557.3" r="0.7" fill="#b89a78"/>
<circle cx="623.8" cy="559.5" r="0.7" fill="#b89a78"/>
<circle cx="626.0" cy="559.5" r="0.7" fill="#b89a78"/>
<circle cx="628.2" cy="559.5" r="0.7" fill="#b89a78"/>
<circle cx="630.4" cy="559.5" r="0.7" fill="#b89a78"/>
<circle cx="632.6" cy="559.5" r="0.7" fill="#b89a78"/>
<circle cx="634.8" cy="559.5" r="0.7" fill="#b89a78"/>
<circle cx="637.0" cy="559.5" r="0.7" fill="#b89a78"/>
<circle cx="639.2" cy="559.5" r="0.7" fill="#b89a78"/>
<circle cx="641.4" cy="559.5" r="0.7" fill="#b89a78"/>
<circle cx="643.6" cy="559.5" r="0.7" fill="#b89a78"/>
<circle cx="645.8" cy="559.5" r="0.7" fill="#b89a78"/>
<circle cx="648.0" cy="559.5" r="0.7" fill="#b89a78"/>
<circle cx="650.2" cy="559.5" r="0.7" fill="#b89a78"/>
<circle cx="652.4" cy="559.5" r="0.7" fill="#b89a78"/>
<circle cx="654.6" cy="559.5" r="0.7" fill="#b89a78"/>
<circle cx="624.9" cy="561.7" r="0.7" fill="#b89a78"/>
<circle cx="627.1" cy="561.7" r="0.7" fill="#b89a78"/>
<circle cx="629.3" cy="561.7" r="0.7" fill="#b89a78"/>
<circle cx="631.5" cy="561.7" r="0.7" fill="#b89a78"/>
<circle cx="633.7" cy="561.7" r="0.7" fill="#b89a78"/>
<circle cx="635.9" cy="561.7" r="0.7" fill="#b89a78"/>
<circle cx="638.1" cy="561.7" r="0.7" fill="#b89a78"/>
<circle cx="640.3" cy="561.7" r="0.7" fill="#b89a78"/>
<circle cx="642.5" cy="561.7" r="0.7" fill="#b89a78"/>
<circle cx="644.7" cy="561.7" r="0.7" fill="#b89a78"/>
<circle cx="646.9" cy="561.7" r="0.7" fill="#b89a78"/>
<circle cx="649.1" cy="561.7" r="0.7" fill="#b89a78"/>
<circle cx="651.3" cy="561.7" r="0.7" fill="#b89a78"/>
<circle cx="653.5" cy="561.7" r="0.7" fill="#b89a78"/>
<circle cx="655.7" cy="561.7" r="0.7" fill="#b89a78"/>
<circle cx="623.8" cy="563.9" r="0.7" fill="#b89a78"/>
<circle cx="626.0" cy="563.9" r="0.7" fill="#b89a78"/>
<circle cx="628.2" cy="563.9" r="0.7" fill="#b89a78"/>
<circle cx="630.4" cy="563.9" r="0.7" fill="#b89a78"/>
<circle cx="632.6" cy="563.9" r="0.7" fill="#b89a78"/>
<circle cx="634.8" cy="563.9" r="0.7" fill="#b89a78"/>
<circle cx="637.0" cy="563.9" r="0.7" fill="#b89a78"/>
<circle cx="639.2" cy="563.9" r="0.7" fill="#b89a78"/>
<circle cx="641.4" cy="563.9" r="0.7" fill="#b89a78"/>
<circle cx="643.6" cy="563.9" r="0.7" fill="#b89a78"/>
<circle cx="645.8" cy="563.9" r="0.7" fill="#b89a78"/>
<circle cx="648.0" cy="563.9" r="0.7" fill="#b89a78"/>
<circle cx="650.2" cy="563.9" r="0.7" fill="#b89a78"/>
<circle cx="652.4" cy="563.9" r="0.7" fill="#b89a78"/>
<circle cx="654.6" cy="563.9" r="0.7" fill="#b89a78"/>
<circle cx="624.9" cy="566.1" r="0.7" fill="#b89a78"/>
<circle cx="627.1" cy="566.1" r="0.7" fill="#b89a78"/>
<circle cx="629.3" cy="566.1" r="0.7" fill="#b89a78"/>
<circle cx="631.5" cy="566.1" r="0.7" fill="#b89a78"/>
<circle cx="633.7" cy="566.1" r="0.7" fill="#b89a78"/>
<circle cx="635.9" cy="566.1" r="0.7" fill="#b89a78"/>
<circle cx="638.1" cy="566.1" r="0.7" fill="#b89a78"/>
<circle cx="640.3" cy="566.1" r="0.7" fill="#b89a78"/>
<circle cx="642.5" cy="566.1" r="0.7" fill="#b89a78"/>
<circle cx="644.7" cy="566.1" r="0.7" fill="#b89a78"/>
<circle cx="646.9" cy="566.1" r="0.7" fill="#b89a78"/>
<circle cx="649.1" cy="566.1" r="0.7" fill="#b89a78"/>
<circle cx="651.3" cy="566.1" r="0.7" fill="#b89a78"/>
<circle cx="653.5" cy="566.1" r="0.7" fill="#b89a78"/>
<circle cx="655.7" cy="566.1" r="0.7" fill="#b89a78"/>
<circle cx="623.8" cy="568.3" r="0.7" fill="#b89a78"/>
<circle cx="626.0" cy="568.3" r="0.7" fill="#b89a78"/>
<circle cx="628.2" cy="568.3" r="0.7" fill="#b89a78"/>
<circle cx="630.4" cy="568.3" r="0.7" fill="#b89a78"/>
<circle cx="632.6" cy="568.3" r="0.7" fill="#b89a78"/>
<circle cx="634.8" cy="568.3" r="0.7" fill="#b89a78"/>
<circle cx="637.0" cy="568.3" r="0.7" fill="#b89a78"/>
<circle cx="639.2" cy="568.3" r="0.7" fill="#b89a78"/>
<circle cx="641.4" cy="568.3" r="0.7" fill="#b89a78"/>
<circle cx="643.6" cy="568.3" r="0.7" fill="#b89a78"/>
<circle cx="645.8" cy="568.3" r="0.7" fill="#b89a78"/>
<circle cx="648.0" cy="568.3" r="0.7" fill="#b89a78"/>
<circle cx="650.2" cy="568.3" r="0.7" fill="#b89a78"/>
<circle cx="652.4" cy="568.3" r="0.7" fill="#b89a78"/>
<circle cx="654.6" cy="568.3" r="0.7" fill="#b89a78"/>
<circle cx="624.9" cy="570.5" r="0.7" fill="#b89a78"/>
<circle cx="627.1" cy="570.5" r="0.7" fill="#b89a78"/>
<circle cx="629.3" cy="570.5" r="0.7" fill="#b89a78"/>
<circle cx="631.5" cy="570.5" r="0.7" fill="#b89a78"/>
<circle cx="633.7" cy="570.5" r="0.7" fill="#b89a78"/>
<circle cx="635.9" cy="570.5" r="0.7" fill="#b89a78"/>
<circle cx="638.1" cy="570.5" r="0.7" fill="#b89a78"/>
<circle cx="640.3" cy="570.5" r="0.7" fill="#b89a78"/>
<circle cx="642.5" cy="570.5" r="0.7" fill="#b89a78"/>
<circle cx="644.7" cy="570.5" r="0.7" fill="#b89a78"/>
<circle cx="646.9" cy="570.5" r="0.7" fill="#b89a78"/>
<circle cx="649.1" cy="570.5" r="0.7" fill="#b89a78"/>
<circle cx="651.3" cy="570.5" r="0.7" fill="#b89a78"/>
<circle cx="653.5" cy="570.5" r="0.7" fill="#b89a78"/>
<circle cx="655.7" cy="570.5" r="0.7" fill="#b89a78"/>
<circle cx="623.8" cy="572.7" r="0.7" fill="#b89a78"/>
<circle cx="626.0" cy="572.7" r="0.7" fill="#b89a78"/>
<circle cx="628.2" cy="572.7" r="0.7" fill="#b89a78"/>
<circle cx="630.4" cy="572.7" r="0.7" fill="#b89a78"/>
<circle cx="632.6" cy="572.7" r="0.7" fill="#b89a78"/>
<circle cx="634.8" cy="572.7" r="0.7" fill="#b89a78"/>
<circle cx="637.0" cy="572.7" r="0.7" fill="#b89a78"/>
<circle cx="639.2" cy="572.7" r="0.7" fill="#b89a78"/>
<circle cx="641.4" cy="572.7" r="0.7" fill="#b89a78"/>
<circle cx="643.6" cy="572.7" r="0.7" fill="#b89a78"/>
<circle cx="645.8" cy="572.7" r="0.7" fill="#b89a78"/>
<circle cx="648.0" cy="572.7" r="0.7" fill="#b89a78"/>
<circle cx="650.2" cy="572.7" r="0.7" fill="#b89a78"/>
<circle cx="652.4" cy="572.7" r="0.7" fill="#b89a78"/>
<circle cx="654.6" cy="572.7" r="0.7" fill="#b89a78"/>
<circle cx="624.9" cy="574.9" r="0.7" fill="#b89a78"/>
<circle cx="627.1" cy="574.9" r="0.7" fill="#b89a78"/>
<circle cx="629.3" cy="574.9" r="0.7" fill="#b89a78"/>
<circle cx="631.5" cy="574.9" r="0.7" fill="#b89a78"/>
<circle cx="633.7" cy="574.9" r="0.7" fill="#b89a78"/>
<circle cx="635.9" cy="574.9" r="0.7" fill="#b89a78"/>
<circle cx="638.1" cy="574.9" r="0.7" fill="#b89a78"/>
<circle cx="640.3" cy="574.9" r="0.7" fill="#b89a78"/>
<circle cx="642.5" cy="574.9" r="0.7" fill="#b89a78"/>
<circle cx="644.7" cy="574.9" r="0.7" fill="#b89a78"/>
<circle cx="646.9" cy="574.9" r="0.7" fill="#b89a78"/>
<circle cx="649.1" cy="574.9" r="0.7" fill="#b89a78"/>
<circle cx="651.3" cy="574.9" r="0.7" fill="#b89a78"/>
<circle cx="653.5" cy="574.9" r="0.7" fill="#b89a78"/>
<circle cx="655.7" cy="574.9" r="0.7" fill="#b89a78"/>
<circle cx="623.8" cy="577.1" r="0.7" fill="#b89a78"/>
<circle cx="626.0" cy="577.1" r="0.7" fill="#b89a78"/>
<circle cx="628.2" cy="577.1" r="0.7" fill="#b89a78"/>
<circle cx="630.4" cy="577.1" r="0.7" fill="#b89a78"/>
<circle cx="632.6" cy="577.1" r="0.7" fill="#b89a78"/>
<circle cx="634.8" cy="577.1" r="0.7" fill="#b89a78"/>
<circle cx="637.0" cy="577.1" r="0.7" fill="#b89a78"/>
<circle cx="639.2" cy="577.1" r="0.7" fill="#b89a78"/>
<circle cx="641.4" cy="577.1" r="0.7" fill="#b89a78"/>
<circle cx="643.6" cy="577.1" r="0.7" fill="#b89a78"/>
<circle cx="645.8" cy="577.1" r="0.7" fill="#b89a78"/>
<circle cx="648.0" cy="577.1" r="0.7" fill="#b89a78"/>
<circle cx="650.2" cy="577.1" r="0.7" fill="#b89a78"/>
<circle cx="652.4" cy="577.1" r="0.7" fill="#b89a78"/>
<circle cx="654.6" cy="577.1" r="0.7" fill="#b89a78"/>
<circle cx="624.9" cy="579.3" r="0.7" fill="#b89a78"/>
<circle cx="627.1" cy="579.3" r="0.7" fill="#b89a78"/>
<circle cx="629.3" cy="579.3" r="0.7" fill="#b89a78"/>
<circle cx="631.5" cy="579.3" r="0.7" fill="#b89a78"/>
<circle cx="633.7" cy="579.3" r="0.7" fill="#b89a78"/>
<circle cx="635.9" cy="579.3" r="0.7" fill="#b89a78"/>
<circle cx="638.1" cy="579.3" r="0.7" fill="#b89a78"/>
<circle cx="640.3" cy="579.3" r="0.7" fill="#b89a78"/>
<circle cx="642.5" cy="579.3" r="0.7" fill="#b89a78"/>
<circle cx="644.7" cy="579.3" r="0.7" fill="#b89a78"/>
<circle cx="646.9" cy="579.3" r="0.7" fill="#b89a78"/>
<circle cx="649.1" cy="579.3" r="0.7" fill="#b89a78"/>
<circle cx="651.3" cy="579.3" r="0.7" fill="#b89a78"/>
<circle cx="653.5" cy="579.3" r="0.7" fill="#b89a78"/>
<circle cx="655.7" cy="579.3" r="0.7" fill="#b89a78"/>
<circle cx="623.8" cy="581.5" r="0.7" fill="#b89a78"/>
<circle cx="626.0" cy="581.5" r="0.7" fill="#b89a78"/>
<circle cx="628.2" cy="581.5" r="0.7" fill="#b89a78"/>
<circle cx="630.4" cy="581.5" r="0.7" fill="#b89a78"/>
<circle cx="632.6" cy="581.5" r="0.7" fill="#b89a78"/>
<circle cx="634.8" cy="581.5" r="0.7" fill="#b89a78"/>
<circle cx="637.0" cy="581.5" r="0.7" fill="#b89a78"/>
<circle cx="639.2" cy="581.5" r="0.7" fill="#b89a78"/>
<circle cx="641.4" cy="581.5" r="0.7" fill="#b89a78"/>
<circle cx="643.6" cy="581.5" r="0.7" fill="#b89a78"/>
<circle cx="645.8" cy="581.5" r="0.7" fill="#b89a78"/>
<circle cx="648.0" cy="581.5" r="0.7" fill="#b89a78"/>
<circle cx="650.2" cy="581.5" r="0.7" fill="#b89a78"/>
<circle cx="652.4" cy="581.5" r="0.7" fill="#b89a78"/>
<circle cx="654.6" cy="581.5" r="0.7" fill="#b89a78"/>
<rect x="628.0" y="541.8" width="4.0" height="2.4" fill="#a8a0a4" stroke="#6e5a4a" stroke-width="0.4" rx="1"/>
<rect x="647.0" y="541.8" width="4.0" height="2.4" fill="#a8a0a4" stroke="#6e5a4a" stroke-width="0.4" rx="1"/>
<rect x="618.0" y="558.8" width="4.0" height="2.4" fill="#a8a0a4" stroke="#6e5a4a" stroke-width="0.4" rx="1"/>
<rect x="657.0" y="558.8" width="4.0" height="2.4" fill="#a8a0a4" stroke="#6e5a4a" stroke-width="0.4" rx="1"/>
<rect x="618.0" y="576.8" width="4.0" height="2.4" fill="#a8a0a4" stroke="#6e5a4a" stroke-width="0.4" rx="1"/>
<rect x="657.0" y="576.8" width="4.0" height="2.4" fill="#a8a0a4" stroke="#6e5a4a" stroke-width="0.4" rx="1"/>
<rect x="627.0" y="585.8" width="4.0" height="2.4" fill="#a8a0a4" stroke="#6e5a4a" stroke-width="0.4" rx="1"/>
<rect x="638.0" y="585.8" width="4.0" height="2.4" fill="#a8a0a4" stroke="#6e5a4a" stroke-width="0.4" rx="1"/>
<rect x="648.0" y="585.8" width="4.0" height="2.4" fill="#a8a0a4" stroke="#6e5a4a" stroke-width="0.4" rx="1"/>
<ellipse cx="610" cy="571.3" rx="6.5" ry="2.2" fill="#c89858"/>
<ellipse cx="670" cy="571.3" rx="6.5" ry="2.2" fill="#c89858"/>
<path d="M594 530 Q594 525 599 525 L602.5 525 L602.5 600 Q598 606 594 600 Z" fill="none" stroke="#8a6c4e" stroke-width="0.7"/>
<path d="M603 534 L617 534 L617 560 L603 560 Z" fill="none" stroke="#8a6c4e" stroke-width="0.6"/>
<path d="M607 540 L612 548 L611 558" fill="none" stroke="#6e5440" stroke-width="1.1"/>
<circle cx="608.0" cy="541.0" r="1.2" fill="#5a4030"/>
<circle cx="611.0" cy="554.0" r="1.5" fill="#5a4030"/>
<path d="M664 545 L676 545 Q684 548 680 560 L672 566 Q664 565 664 558 Z" fill="none" stroke="#8a6c4e" stroke-width="0.7"/>
<circle cx="674.5" cy="560.0" r="1.8" fill="#8a7a74"/>
<rect x="672.0" y="544.0" width="2.0" height="7.0" fill="#5e4636"/>
<path d="M675 537 Q690 535 688 548" fill="none" stroke="#8a6c4e" stroke-width="0.6"/>
<path d="M603 592 L603 598 L618 598 L618 604" fill="none" stroke="#8a6c4e" stroke-width="0.6"/>
<path d="M662 592 L662 598 L676 598" fill="none" stroke="#8a6c4e" stroke-width="0.6"/>
<rect x="520.0" y="595.3" width="24.2" height="38.5" fill="none" stroke="#8a6c4e" stroke-width="0.8" rx="2"/>
<rect x="544.5" y="595.3" width="24.2" height="38.5" fill="none" stroke="#8a6c4e" stroke-width="0.8" rx="2"/>
<rect x="523.0" y="598.5" width="4.0" height="10.5" fill="#ecebf0" stroke="#9c8466" stroke-width="0.7" rx="0.8"/>
<rect x="530.0" y="598.5" width="10.0" height="11.5" fill="#ecebf0" stroke="#9c8466" stroke-width="0.7" rx="0.8"/>
<rect x="548.0" y="598.5" width="10.0" height="11.5" fill="#ecebf0" stroke="#9c8466" stroke-width="0.7" rx="0.8"/>
<rect x="561.5" y="598.5" width="4.0" height="10.5" fill="#ecebf0" stroke="#9c8466" stroke-width="0.7" rx="0.8"/>
<rect x="529.0" y="621.0" width="4.0" height="6.0" fill="#ecebf0" stroke="#9c8466" stroke-width="0.7" rx="0.8"/>
<rect x="558.0" y="621.0" width="4.0" height="6.0" fill="#ecebf0" stroke="#9c8466" stroke-width="0.7" rx="0.8"/>
<circle cx="522.5" cy="612.7" r="1.3" fill="#5a4030"/>
<circle cx="522.5" cy="620.6" r="1.3" fill="#5a4030"/>
<circle cx="522.5" cy="627.8" r="1.3" fill="#5a4030"/>
<circle cx="565.8" cy="612.7" r="1.3" fill="#5a4030"/>
<circle cx="565.8" cy="620.6" r="1.3" fill="#5a4030"/>
<circle cx="565.8" cy="627.8" r="1.3" fill="#5a4030"/>
<circle cx="538.0" cy="627.8" r="1.3" fill="#5a4030"/>
<circle cx="551.0" cy="627.8" r="1.3" fill="#5a4030"/>
<path d="M536 620 L542 614 L537 619 L543 619 L535 626" fill="none" stroke="#5e5060" stroke-width="1"/>
<path d="M553 614 L559 619 L553 619 L559 625" fill="none" stroke="#5e5060" stroke-width="1"/>
<path d="M571.5 613 L590 609 L650 608.5 L700 608.5 L700 634.7 L650 634.7 L590 634 L571.5 631 Z" fill="none" stroke="#8a6c4e" stroke-width="0.8"/>
<circle cx="577.0" cy="615.0" r="1.3" fill="#5a4030"/>
<circle cx="577.0" cy="623.0" r="1.3" fill="#5a4030"/>
<circle cx="577.0" cy="630.0" r="1.3" fill="#5a4030"/>
<rect x="585.0" y="611.0" width="20.0" height="4.0" fill="#d8b07a"/>
<rect x="615.0" y="611.0" width="10.0" height="4.0" fill="#c8985a"/>
<rect x="630.0" y="611.0" width="18.0" height="4.0" fill="#d8b07a"/>
<rect x="585.0" y="629.0" width="20.0" height="4.0" fill="#d8b07a"/>
<rect x="615.0" y="629.0" width="10.0" height="4.0" fill="#c8985a"/>
<rect x="630.0" y="629.0" width="18.0" height="4.0" fill="#d8b07a"/>
<line x1="590.0" y1="616.0" x2="660.0" y2="616.0" stroke="#c0a07c" stroke-width="0.5"/>
<line x1="590.0" y1="618.0" x2="660.0" y2="618.0" stroke="#c0a07c" stroke-width="0.5"/>
<line x1="590.0" y1="620.0" x2="660.0" y2="620.0" stroke="#c0a07c" stroke-width="0.5"/>
<line x1="590.0" y1="622.0" x2="660.0" y2="622.0" stroke="#c0a07c" stroke-width="0.5"/>
<line x1="590.0" y1="624.0" x2="660.0" y2="624.0" stroke="#c0a07c" stroke-width="0.5"/>
<line x1="590.0" y1="626.0" x2="660.0" y2="626.0" stroke="#c0a07c" stroke-width="0.5"/>
<rect x="604.0" y="616.0" width="42.0" height="11.0" fill="none" stroke="#a08060" stroke-width="0.5"/>
<path d="M702 566 L760 566 A26 31 0 0 1 760 628 L702 628 A26 31 0 0 1 702 566 Z" fill="none" stroke="#8e7050" stroke-width="0.9"/>
<path d="M700 572 L762 572 A22 25 0 0 1 762 622 L700 622 A22 25 0 0 1 700 572 Z" fill="none" stroke="#8e7050" stroke-width="0.7"/>
<path d="M712 585 Q731 592 750 585 A15 15 0 0 1 750 613 Q731 606 712 613 A15 15 0 0 1 712 585 Z" fill="none" stroke="#8e7050" stroke-width="0.8"/>
<path d="M676 600 A30 35 0 0 1 700 565" fill="none" stroke="#8e7050" stroke-width="1.6"/>
<path d="M786 600 A30 35 0 0 0 762 565" fill="none" stroke="#8e7050" stroke-width="1.6"/>
<rect x="711.6" y="579.0" width="35.9" height="1.6" fill="#a07a4e"/>
<rect x="711.6" y="614.5" width="35.9" height="1.6" fill="#a07a4e"/>
<polygon points="730.0,579.5 731.1,582.5 734.3,582.6 731.8,584.6 732.6,587.6 730.0,585.9 727.4,587.6 728.2,584.6 725.7,582.6 728.9,582.5" fill="#d8d2dc"/>
<polygon points="730.0,607.5 731.1,610.5 734.3,610.6 731.8,612.6 732.6,615.6 730.0,613.9 727.4,615.6 728.2,612.6 725.7,610.6 728.9,610.5" fill="#d8d2dc"/>
<circle cx="705.4" cy="594.7" r="4.4" fill="#f2dec0" stroke="#8a6c4e" stroke-width="0.8"/>
<rect x="704.5" y="592.5" width="1.8" height="4.4" fill="#5e4a3a"/>
<circle cx="714.0" cy="594.7" r="4.4" fill="#f2dec0" stroke="#8a6c4e" stroke-width="0.8"/>
<rect x="713.1" y="592.5" width="1.8" height="4.4" fill="#5e4a3a"/>
<circle cx="705.4" cy="603.3" r="4.4" fill="#f2dec0" stroke="#8a6c4e" stroke-width="0.8"/>
<rect x="704.5" y="601.1" width="1.8" height="4.4" fill="#5e4a3a"/>
<circle cx="714.0" cy="603.3" r="4.4" fill="#f2dec0" stroke="#8a6c4e" stroke-width="0.8"/>
<rect x="713.1" y="601.1" width="1.8" height="4.4" fill="#5e4a3a"/>
<circle cx="746.7" cy="594.7" r="4.4" fill="#f2dec0" stroke="#8a6c4e" stroke-width="0.8"/>
<rect x="745.8" y="592.5" width="1.8" height="4.4" fill="#5e4a3a"/>
<circle cx="755.3" cy="594.7" r="4.4" fill="#f2dec0" stroke="#8a6c4e" stroke-width="0.8"/>
<rect x="754.4" y="592.5" width="1.8" height="4.4" fill="#5e4a3a"/>
<circle cx="746.7" cy="603.3" r="4.4" fill="#f2dec0" stroke="#8a6c4e" stroke-width="0.8"/>
<rect x="745.8" y="601.1" width="1.8" height="4.4" fill="#5e4a3a"/>
<circle cx="755.3" cy="603.3" r="4.4" fill="#f2dec0" stroke="#8a6c4e" stroke-width="0.8"/>
<rect x="754.4" y="601.1" width="1.8" height="4.4" fill="#5e4a3a"/>
<circle cx="690.0" cy="572.0" r="1.5" fill="#5a4030"/>
<circle cx="771.0" cy="572.0" r="1.5" fill="#5a4030"/>
<circle cx="684.0" cy="590.0" r="1.5" fill="#5a4030"/>
<circle cx="778.0" cy="590.0" r="1.5" fill="#5a4030"/>
<circle cx="684.0" cy="608.0" r="1.5" fill="#5a4030"/>
<circle cx="778.0" cy="608.0" r="1.5" fill="#5a4030"/>
<circle cx="690.0" cy="625.0" r="1.5" fill="#5a4030"/>
<circle cx="771.0" cy="625.0" r="1.5" fill="#5a4030"/>
<circle cx="695.0" cy="600.0" r="1.5" fill="#5a4030"/>
<circle cx="766.0" cy="600.0" r="1.5" fill="#5a4030"/>
<circle cx="707.0" cy="629.0" r="7.0" fill="#efdcc0" stroke="#8a6c4e" stroke-width="0.9"/>
<path d="M701 627.5 L713 627.5" stroke="#a09aa4" stroke-width="2.2"/>
<rect x="703.0" y="625.5" width="8.0" height="1.5" fill="#6e5a4a"/>
<circle cx="722.0" cy="629.0" r="7.0" fill="#efdcc0" stroke="#8a6c4e" stroke-width="0.9"/>
<path d="M716 627.5 L728 627.5" stroke="#a09aa4" stroke-width="2.2"/>
<rect x="718.0" y="625.5" width="8.0" height="1.5" fill="#6e5a4a"/>
<circle cx="739.7" cy="629.0" r="7.0" fill="#efdcc0" stroke="#8a6c4e" stroke-width="0.9"/>
<path d="M733.7 627.5 L745.7 627.5" stroke="#a09aa4" stroke-width="2.2"/>
<rect x="735.7" y="625.5" width="8.0" height="1.5" fill="#6e5a4a"/>
<circle cx="754.8" cy="629.0" r="7.0" fill="#efdcc0" stroke="#8a6c4e" stroke-width="0.9"/>
<path d="M748.8 627.5 L760.8 627.5" stroke="#a09aa4" stroke-width="2.2"/>
<rect x="750.8" y="625.5" width="8.0" height="1.5" fill="#6e5a4a"/>
<path d="M593 600 Q600 612 596 640" fill="none" stroke="#8a6c4e" stroke-width="0.6"/>
</svg>
</body></html>
